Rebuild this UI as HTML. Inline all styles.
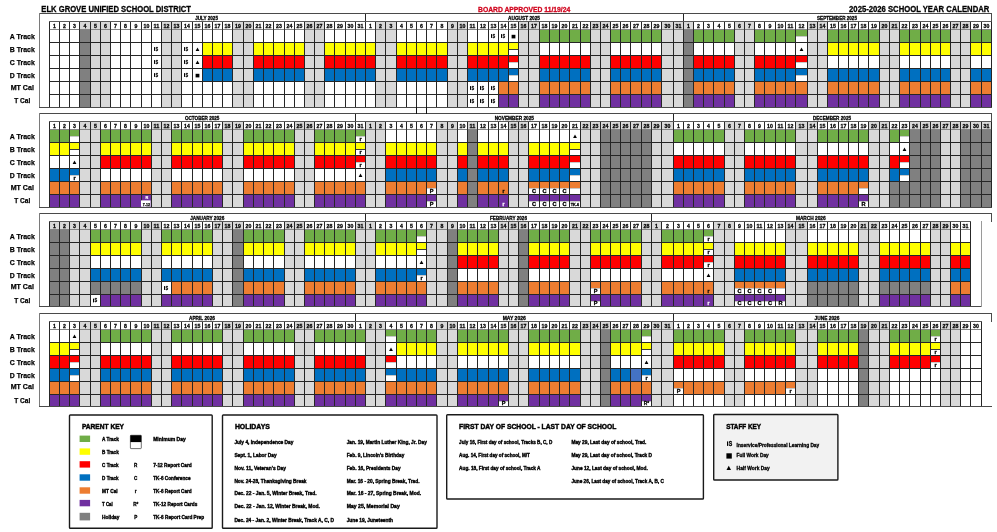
<!DOCTYPE html>
<html><head><meta charset="utf-8"><title>2025-2026 School Year Calendar</title>
<style>
html,body{margin:0;padding:0;background:#fff;}
body{width:997px;height:532px;overflow:hidden;}
svg{display:block;font-family:"Liberation Sans", sans-serif;font-weight:bold;will-change:transform;filter:blur(0.3px);}
</style></head>
<body>
<svg width="997" height="532" viewBox="0 0 997 532">
<rect x="0" y="0" width="997" height="532" fill="#fff"/>
<rect x="39.3" y="13" width="952" height="94" fill="#fff"/>
<rect x="80" y="22" width="10" height="7" fill="#d9d9d9"/>
<rect x="80" y="30" width="10" height="12" fill="#808080"/>
<rect x="80" y="43" width="10" height="12" fill="#808080"/>
<rect x="80" y="56" width="10" height="12" fill="#808080"/>
<rect x="80" y="69" width="10" height="12" fill="#808080"/>
<rect x="80" y="82" width="10" height="12" fill="#808080"/>
<rect x="80" y="95" width="10" height="12" fill="#808080"/>
<rect x="91" y="22" width="9" height="7" fill="#d9d9d9"/>
<rect x="91" y="30" width="9" height="12" fill="#d9d9d9"/>
<rect x="91" y="43" width="9" height="12" fill="#d9d9d9"/>
<rect x="91" y="56" width="9" height="12" fill="#d9d9d9"/>
<rect x="91" y="69" width="9" height="12" fill="#d9d9d9"/>
<rect x="91" y="82" width="9" height="12" fill="#d9d9d9"/>
<rect x="91" y="95" width="9" height="12" fill="#d9d9d9"/>
<rect x="101" y="22" width="9" height="7" fill="#d9d9d9"/>
<rect x="101" y="30" width="9" height="12" fill="#d9d9d9"/>
<rect x="101" y="43" width="9" height="12" fill="#d9d9d9"/>
<rect x="101" y="56" width="9" height="12" fill="#d9d9d9"/>
<rect x="101" y="69" width="9" height="12" fill="#d9d9d9"/>
<rect x="101" y="82" width="9" height="12" fill="#d9d9d9"/>
<rect x="101" y="95" width="9" height="12" fill="#d9d9d9"/>
<rect x="154" y="47.1" width="1" height="3.8" fill="#000"/>
<rect x="154" y="60.1" width="1" height="3.8" fill="#000"/>
<rect x="154" y="73.1" width="1" height="3.8" fill="#000"/>
<rect x="162" y="22" width="9" height="7" fill="#d9d9d9"/>
<rect x="162" y="30" width="9" height="12" fill="#d9d9d9"/>
<rect x="162" y="43" width="9" height="12" fill="#d9d9d9"/>
<rect x="162" y="56" width="9" height="12" fill="#d9d9d9"/>
<rect x="162" y="69" width="9" height="12" fill="#d9d9d9"/>
<rect x="162" y="82" width="9" height="12" fill="#d9d9d9"/>
<rect x="162" y="95" width="9" height="12" fill="#d9d9d9"/>
<rect x="172" y="22" width="9" height="7" fill="#d9d9d9"/>
<rect x="172" y="30" width="9" height="12" fill="#d9d9d9"/>
<rect x="172" y="43" width="9" height="12" fill="#d9d9d9"/>
<rect x="172" y="56" width="9" height="12" fill="#d9d9d9"/>
<rect x="172" y="69" width="9" height="12" fill="#d9d9d9"/>
<rect x="172" y="82" width="9" height="12" fill="#d9d9d9"/>
<rect x="172" y="95" width="9" height="12" fill="#d9d9d9"/>
<rect x="184" y="47.1" width="1" height="3.8" fill="#000"/>
<rect x="184" y="60.1" width="1" height="3.8" fill="#000"/>
<rect x="184" y="73.1" width="1" height="3.8" fill="#000"/>
<path d="M195.60 51.00 L197.50 47.50 L199.40 51.00 Z" fill="#000"/>
<path d="M195.60 64.00 L197.50 60.50 L199.40 64.00 Z" fill="#000"/>
<rect x="195.6" y="73.8" width="3.8" height="3.6" fill="#000"/>
<rect x="203" y="43" width="9" height="12" fill="#ffff00"/>
<rect x="203" y="56" width="9" height="12" fill="#ff0000"/>
<rect x="203" y="69" width="9" height="12" fill="#0070c0"/>
<rect x="213" y="43" width="9" height="12" fill="#ffff00"/>
<rect x="213" y="56" width="9" height="12" fill="#ff0000"/>
<rect x="213" y="69" width="9" height="12" fill="#0070c0"/>
<rect x="223" y="43" width="9" height="12" fill="#ffff00"/>
<rect x="223" y="56" width="9" height="12" fill="#ff0000"/>
<rect x="223" y="69" width="9" height="12" fill="#0070c0"/>
<rect x="233" y="22" width="10" height="7" fill="#d9d9d9"/>
<rect x="233" y="30" width="10" height="12" fill="#d9d9d9"/>
<rect x="233" y="43" width="10" height="12" fill="#d9d9d9"/>
<rect x="233" y="56" width="10" height="12" fill="#d9d9d9"/>
<rect x="233" y="69" width="10" height="12" fill="#d9d9d9"/>
<rect x="233" y="82" width="10" height="12" fill="#d9d9d9"/>
<rect x="233" y="95" width="10" height="12" fill="#d9d9d9"/>
<rect x="244" y="22" width="9" height="7" fill="#d9d9d9"/>
<rect x="244" y="30" width="9" height="12" fill="#d9d9d9"/>
<rect x="244" y="43" width="9" height="12" fill="#d9d9d9"/>
<rect x="244" y="56" width="9" height="12" fill="#d9d9d9"/>
<rect x="244" y="69" width="9" height="12" fill="#d9d9d9"/>
<rect x="244" y="82" width="9" height="12" fill="#d9d9d9"/>
<rect x="244" y="95" width="9" height="12" fill="#d9d9d9"/>
<rect x="254" y="43" width="9" height="12" fill="#ffff00"/>
<rect x="254" y="56" width="9" height="12" fill="#ff0000"/>
<rect x="254" y="69" width="9" height="12" fill="#0070c0"/>
<rect x="264" y="43" width="9" height="12" fill="#ffff00"/>
<rect x="264" y="56" width="9" height="12" fill="#ff0000"/>
<rect x="264" y="69" width="9" height="12" fill="#0070c0"/>
<rect x="274" y="43" width="10" height="12" fill="#ffff00"/>
<rect x="274" y="56" width="10" height="12" fill="#ff0000"/>
<rect x="274" y="69" width="10" height="12" fill="#0070c0"/>
<rect x="285" y="43" width="9" height="12" fill="#ffff00"/>
<rect x="285" y="56" width="9" height="12" fill="#ff0000"/>
<rect x="285" y="69" width="9" height="12" fill="#0070c0"/>
<rect x="295" y="43" width="9" height="12" fill="#ffff00"/>
<rect x="295" y="56" width="9" height="12" fill="#ff0000"/>
<rect x="295" y="69" width="9" height="12" fill="#0070c0"/>
<rect x="305" y="22" width="9" height="7" fill="#d9d9d9"/>
<rect x="305" y="30" width="9" height="12" fill="#d9d9d9"/>
<rect x="305" y="43" width="9" height="12" fill="#d9d9d9"/>
<rect x="305" y="56" width="9" height="12" fill="#d9d9d9"/>
<rect x="305" y="69" width="9" height="12" fill="#d9d9d9"/>
<rect x="305" y="82" width="9" height="12" fill="#d9d9d9"/>
<rect x="305" y="95" width="9" height="12" fill="#d9d9d9"/>
<rect x="315" y="22" width="9" height="7" fill="#d9d9d9"/>
<rect x="315" y="30" width="9" height="12" fill="#d9d9d9"/>
<rect x="315" y="43" width="9" height="12" fill="#d9d9d9"/>
<rect x="315" y="56" width="9" height="12" fill="#d9d9d9"/>
<rect x="315" y="69" width="9" height="12" fill="#d9d9d9"/>
<rect x="315" y="82" width="9" height="12" fill="#d9d9d9"/>
<rect x="315" y="95" width="9" height="12" fill="#d9d9d9"/>
<rect x="325" y="43" width="9" height="12" fill="#ffff00"/>
<rect x="325" y="56" width="9" height="12" fill="#ff0000"/>
<rect x="325" y="69" width="9" height="12" fill="#0070c0"/>
<rect x="335" y="43" width="10" height="12" fill="#ffff00"/>
<rect x="335" y="56" width="10" height="12" fill="#ff0000"/>
<rect x="335" y="69" width="10" height="12" fill="#0070c0"/>
<rect x="346" y="43" width="9" height="12" fill="#ffff00"/>
<rect x="346" y="56" width="9" height="12" fill="#ff0000"/>
<rect x="346" y="69" width="9" height="12" fill="#0070c0"/>
<rect x="356" y="43" width="9" height="12" fill="#ffff00"/>
<rect x="356" y="56" width="9" height="12" fill="#ff0000"/>
<rect x="356" y="69" width="9" height="12" fill="#0070c0"/>
<rect x="366" y="43" width="9" height="12" fill="#ffff00"/>
<rect x="366" y="56" width="9" height="12" fill="#ff0000"/>
<rect x="366" y="69" width="9" height="12" fill="#0070c0"/>
<rect x="376" y="22" width="9" height="7" fill="#d9d9d9"/>
<rect x="376" y="30" width="9" height="12" fill="#d9d9d9"/>
<rect x="376" y="43" width="9" height="12" fill="#d9d9d9"/>
<rect x="376" y="56" width="9" height="12" fill="#d9d9d9"/>
<rect x="376" y="69" width="9" height="12" fill="#d9d9d9"/>
<rect x="376" y="82" width="9" height="12" fill="#d9d9d9"/>
<rect x="376" y="95" width="9" height="12" fill="#d9d9d9"/>
<rect x="386" y="22" width="10" height="7" fill="#d9d9d9"/>
<rect x="386" y="30" width="10" height="12" fill="#d9d9d9"/>
<rect x="386" y="43" width="10" height="12" fill="#d9d9d9"/>
<rect x="386" y="56" width="10" height="12" fill="#d9d9d9"/>
<rect x="386" y="69" width="10" height="12" fill="#d9d9d9"/>
<rect x="386" y="82" width="10" height="12" fill="#d9d9d9"/>
<rect x="386" y="95" width="10" height="12" fill="#d9d9d9"/>
<rect x="397" y="43" width="9" height="12" fill="#ffff00"/>
<rect x="397" y="56" width="9" height="12" fill="#ff0000"/>
<rect x="397" y="69" width="9" height="12" fill="#0070c0"/>
<rect x="407" y="43" width="9" height="12" fill="#ffff00"/>
<rect x="407" y="56" width="9" height="12" fill="#ff0000"/>
<rect x="407" y="69" width="9" height="12" fill="#0070c0"/>
<rect x="417" y="43" width="9" height="12" fill="#ffff00"/>
<rect x="417" y="56" width="9" height="12" fill="#ff0000"/>
<rect x="417" y="69" width="9" height="12" fill="#0070c0"/>
<rect x="427" y="43" width="9" height="12" fill="#ffff00"/>
<rect x="427" y="56" width="9" height="12" fill="#ff0000"/>
<rect x="427" y="69" width="9" height="12" fill="#0070c0"/>
<rect x="437" y="43" width="10" height="12" fill="#ffff00"/>
<rect x="437" y="56" width="10" height="12" fill="#ff0000"/>
<rect x="437" y="69" width="10" height="12" fill="#0070c0"/>
<rect x="448" y="22" width="9" height="7" fill="#d9d9d9"/>
<rect x="448" y="30" width="9" height="12" fill="#d9d9d9"/>
<rect x="448" y="43" width="9" height="12" fill="#d9d9d9"/>
<rect x="448" y="56" width="9" height="12" fill="#d9d9d9"/>
<rect x="448" y="69" width="9" height="12" fill="#d9d9d9"/>
<rect x="448" y="82" width="9" height="12" fill="#d9d9d9"/>
<rect x="448" y="95" width="9" height="12" fill="#d9d9d9"/>
<rect x="458" y="22" width="9" height="7" fill="#d9d9d9"/>
<rect x="458" y="30" width="9" height="12" fill="#d9d9d9"/>
<rect x="458" y="43" width="9" height="12" fill="#d9d9d9"/>
<rect x="458" y="56" width="9" height="12" fill="#d9d9d9"/>
<rect x="458" y="69" width="9" height="12" fill="#d9d9d9"/>
<rect x="458" y="82" width="9" height="12" fill="#d9d9d9"/>
<rect x="458" y="95" width="9" height="12" fill="#d9d9d9"/>
<rect x="468" y="43" width="9" height="12" fill="#ffff00"/>
<rect x="468" y="56" width="9" height="12" fill="#ff0000"/>
<rect x="468" y="69" width="9" height="12" fill="#0070c0"/>
<rect x="470" y="86.1" width="1" height="3.8" fill="#000"/>
<rect x="470" y="99.1" width="1" height="3.8" fill="#000"/>
<rect x="478" y="43" width="10" height="12" fill="#ffff00"/>
<rect x="478" y="56" width="10" height="12" fill="#ff0000"/>
<rect x="478" y="69" width="10" height="12" fill="#0070c0"/>
<rect x="480" y="86.1" width="1" height="3.8" fill="#000"/>
<rect x="480" y="99.1" width="1" height="3.8" fill="#000"/>
<rect x="491" y="34.1" width="1" height="3.8" fill="#000"/>
<rect x="489" y="43" width="9" height="12" fill="#ffff00"/>
<rect x="489" y="56" width="9" height="12" fill="#ff0000"/>
<rect x="489" y="69" width="9" height="12" fill="#0070c0"/>
<rect x="491" y="86.1" width="1" height="3.8" fill="#000"/>
<rect x="491" y="99.1" width="1" height="3.8" fill="#000"/>
<rect x="501" y="34.1" width="1" height="3.8" fill="#000"/>
<rect x="499" y="43" width="9" height="12" fill="#ffff00"/>
<rect x="499" y="56" width="9" height="12" fill="#ff0000"/>
<rect x="499" y="69" width="9" height="12" fill="#0070c0"/>
<rect x="499" y="82" width="9" height="12" fill="#ed7d31"/>
<rect x="499" y="95" width="9" height="12" fill="#7030a0"/>
<rect x="511.6" y="34.8" width="3.8" height="3.6" fill="#000"/>
<rect x="509" y="43" width="9" height="6" fill="#ffff00"/>
<rect x="509" y="49" width="9" height="1" fill="#3a3a3a"/>
<rect x="509" y="56" width="9" height="6" fill="#ff0000"/>
<rect x="509" y="62" width="9" height="1" fill="#c8c8c8"/>
<rect x="509" y="69" width="9" height="6" fill="#0070c0"/>
<rect x="509" y="75" width="9" height="1" fill="#c8c8c8"/>
<rect x="509" y="82" width="9" height="12" fill="#ed7d31"/>
<rect x="509" y="95" width="9" height="12" fill="#7030a0"/>
<rect x="519" y="22" width="9" height="7" fill="#d9d9d9"/>
<rect x="519" y="30" width="9" height="12" fill="#d9d9d9"/>
<rect x="519" y="43" width="9" height="12" fill="#d9d9d9"/>
<rect x="519" y="56" width="9" height="12" fill="#d9d9d9"/>
<rect x="519" y="69" width="9" height="12" fill="#d9d9d9"/>
<rect x="519" y="82" width="9" height="12" fill="#d9d9d9"/>
<rect x="519" y="95" width="9" height="12" fill="#d9d9d9"/>
<rect x="529" y="22" width="10" height="7" fill="#d9d9d9"/>
<rect x="529" y="30" width="10" height="12" fill="#d9d9d9"/>
<rect x="529" y="43" width="10" height="12" fill="#d9d9d9"/>
<rect x="529" y="56" width="10" height="12" fill="#d9d9d9"/>
<rect x="529" y="69" width="10" height="12" fill="#d9d9d9"/>
<rect x="529" y="82" width="10" height="12" fill="#d9d9d9"/>
<rect x="529" y="95" width="10" height="12" fill="#d9d9d9"/>
<rect x="540" y="30" width="9" height="12" fill="#70ad47"/>
<rect x="540" y="56" width="9" height="12" fill="#ff0000"/>
<rect x="540" y="69" width="9" height="12" fill="#0070c0"/>
<rect x="540" y="82" width="9" height="12" fill="#ed7d31"/>
<rect x="540" y="95" width="9" height="12" fill="#7030a0"/>
<rect x="550" y="30" width="9" height="12" fill="#70ad47"/>
<rect x="550" y="56" width="9" height="12" fill="#ff0000"/>
<rect x="550" y="69" width="9" height="12" fill="#0070c0"/>
<rect x="550" y="82" width="9" height="12" fill="#ed7d31"/>
<rect x="550" y="95" width="9" height="12" fill="#7030a0"/>
<rect x="560" y="30" width="9" height="12" fill="#70ad47"/>
<rect x="560" y="56" width="9" height="12" fill="#ff0000"/>
<rect x="560" y="69" width="9" height="12" fill="#0070c0"/>
<rect x="560" y="82" width="9" height="12" fill="#ed7d31"/>
<rect x="560" y="95" width="9" height="12" fill="#7030a0"/>
<rect x="570" y="30" width="10" height="12" fill="#70ad47"/>
<rect x="570" y="56" width="10" height="12" fill="#ff0000"/>
<rect x="570" y="69" width="10" height="12" fill="#0070c0"/>
<rect x="570" y="82" width="10" height="12" fill="#ed7d31"/>
<rect x="570" y="95" width="10" height="12" fill="#7030a0"/>
<rect x="581" y="30" width="9" height="12" fill="#70ad47"/>
<rect x="581" y="56" width="9" height="12" fill="#ff0000"/>
<rect x="581" y="69" width="9" height="12" fill="#0070c0"/>
<rect x="581" y="82" width="9" height="12" fill="#ed7d31"/>
<rect x="581" y="95" width="9" height="12" fill="#7030a0"/>
<rect x="591" y="22" width="9" height="7" fill="#d9d9d9"/>
<rect x="591" y="30" width="9" height="12" fill="#d9d9d9"/>
<rect x="591" y="43" width="9" height="12" fill="#d9d9d9"/>
<rect x="591" y="56" width="9" height="12" fill="#d9d9d9"/>
<rect x="591" y="69" width="9" height="12" fill="#d9d9d9"/>
<rect x="591" y="82" width="9" height="12" fill="#d9d9d9"/>
<rect x="591" y="95" width="9" height="12" fill="#d9d9d9"/>
<rect x="601" y="22" width="9" height="7" fill="#d9d9d9"/>
<rect x="601" y="30" width="9" height="12" fill="#d9d9d9"/>
<rect x="601" y="43" width="9" height="12" fill="#d9d9d9"/>
<rect x="601" y="56" width="9" height="12" fill="#d9d9d9"/>
<rect x="601" y="69" width="9" height="12" fill="#d9d9d9"/>
<rect x="601" y="82" width="9" height="12" fill="#d9d9d9"/>
<rect x="601" y="95" width="9" height="12" fill="#d9d9d9"/>
<rect x="611" y="30" width="9" height="12" fill="#70ad47"/>
<rect x="611" y="56" width="9" height="12" fill="#ff0000"/>
<rect x="611" y="69" width="9" height="12" fill="#0070c0"/>
<rect x="611" y="82" width="9" height="12" fill="#ed7d31"/>
<rect x="611" y="95" width="9" height="12" fill="#7030a0"/>
<rect x="621" y="30" width="9" height="12" fill="#70ad47"/>
<rect x="621" y="56" width="9" height="12" fill="#ff0000"/>
<rect x="621" y="69" width="9" height="12" fill="#0070c0"/>
<rect x="621" y="82" width="9" height="12" fill="#ed7d31"/>
<rect x="621" y="95" width="9" height="12" fill="#7030a0"/>
<rect x="631" y="30" width="10" height="12" fill="#70ad47"/>
<rect x="631" y="56" width="10" height="12" fill="#ff0000"/>
<rect x="631" y="69" width="10" height="12" fill="#0070c0"/>
<rect x="631" y="82" width="10" height="12" fill="#ed7d31"/>
<rect x="631" y="95" width="10" height="12" fill="#7030a0"/>
<rect x="642" y="30" width="9" height="12" fill="#70ad47"/>
<rect x="642" y="56" width="9" height="12" fill="#ff0000"/>
<rect x="642" y="69" width="9" height="12" fill="#0070c0"/>
<rect x="642" y="82" width="9" height="12" fill="#ed7d31"/>
<rect x="642" y="95" width="9" height="12" fill="#7030a0"/>
<rect x="652" y="30" width="9" height="12" fill="#70ad47"/>
<rect x="652" y="56" width="9" height="12" fill="#ff0000"/>
<rect x="652" y="69" width="9" height="12" fill="#0070c0"/>
<rect x="652" y="82" width="9" height="12" fill="#ed7d31"/>
<rect x="652" y="95" width="9" height="12" fill="#7030a0"/>
<rect x="662" y="22" width="11" height="7" fill="#d9d9d9"/>
<rect x="662" y="30" width="11" height="12" fill="#d9d9d9"/>
<rect x="662" y="43" width="11" height="12" fill="#d9d9d9"/>
<rect x="662" y="56" width="11" height="12" fill="#d9d9d9"/>
<rect x="662" y="69" width="11" height="12" fill="#d9d9d9"/>
<rect x="662" y="82" width="11" height="12" fill="#d9d9d9"/>
<rect x="662" y="95" width="11" height="12" fill="#d9d9d9"/>
<rect x="674" y="22" width="9" height="7" fill="#d9d9d9"/>
<rect x="674" y="30" width="9" height="12" fill="#d9d9d9"/>
<rect x="674" y="43" width="9" height="12" fill="#d9d9d9"/>
<rect x="674" y="56" width="9" height="12" fill="#d9d9d9"/>
<rect x="674" y="69" width="9" height="12" fill="#d9d9d9"/>
<rect x="674" y="82" width="9" height="12" fill="#d9d9d9"/>
<rect x="674" y="95" width="9" height="12" fill="#d9d9d9"/>
<rect x="684" y="22" width="9" height="7" fill="#d9d9d9"/>
<rect x="684" y="30" width="9" height="12" fill="#808080"/>
<rect x="684" y="43" width="9" height="12" fill="#808080"/>
<rect x="684" y="56" width="9" height="12" fill="#808080"/>
<rect x="684" y="69" width="9" height="12" fill="#808080"/>
<rect x="684" y="82" width="9" height="12" fill="#808080"/>
<rect x="684" y="95" width="9" height="12" fill="#808080"/>
<rect x="694" y="30" width="9" height="12" fill="#70ad47"/>
<rect x="694" y="56" width="9" height="12" fill="#ff0000"/>
<rect x="694" y="69" width="9" height="12" fill="#0070c0"/>
<rect x="694" y="82" width="9" height="12" fill="#ed7d31"/>
<rect x="694" y="95" width="9" height="12" fill="#7030a0"/>
<rect x="704" y="30" width="9" height="12" fill="#70ad47"/>
<rect x="704" y="56" width="9" height="12" fill="#ff0000"/>
<rect x="704" y="69" width="9" height="12" fill="#0070c0"/>
<rect x="704" y="82" width="9" height="12" fill="#ed7d31"/>
<rect x="704" y="95" width="9" height="12" fill="#7030a0"/>
<rect x="714" y="30" width="10" height="12" fill="#70ad47"/>
<rect x="714" y="56" width="10" height="12" fill="#ff0000"/>
<rect x="714" y="69" width="10" height="12" fill="#0070c0"/>
<rect x="714" y="82" width="10" height="12" fill="#ed7d31"/>
<rect x="714" y="95" width="10" height="12" fill="#7030a0"/>
<rect x="725" y="30" width="9" height="12" fill="#70ad47"/>
<rect x="725" y="56" width="9" height="12" fill="#ff0000"/>
<rect x="725" y="69" width="9" height="12" fill="#0070c0"/>
<rect x="725" y="82" width="9" height="12" fill="#ed7d31"/>
<rect x="725" y="95" width="9" height="12" fill="#7030a0"/>
<rect x="735" y="22" width="9" height="7" fill="#d9d9d9"/>
<rect x="735" y="30" width="9" height="12" fill="#d9d9d9"/>
<rect x="735" y="43" width="9" height="12" fill="#d9d9d9"/>
<rect x="735" y="56" width="9" height="12" fill="#d9d9d9"/>
<rect x="735" y="69" width="9" height="12" fill="#d9d9d9"/>
<rect x="735" y="82" width="9" height="12" fill="#d9d9d9"/>
<rect x="735" y="95" width="9" height="12" fill="#d9d9d9"/>
<rect x="745" y="22" width="9" height="7" fill="#d9d9d9"/>
<rect x="745" y="30" width="9" height="12" fill="#d9d9d9"/>
<rect x="745" y="43" width="9" height="12" fill="#d9d9d9"/>
<rect x="745" y="56" width="9" height="12" fill="#d9d9d9"/>
<rect x="745" y="69" width="9" height="12" fill="#d9d9d9"/>
<rect x="745" y="82" width="9" height="12" fill="#d9d9d9"/>
<rect x="745" y="95" width="9" height="12" fill="#d9d9d9"/>
<rect x="755" y="30" width="9" height="12" fill="#70ad47"/>
<rect x="755" y="56" width="9" height="12" fill="#ff0000"/>
<rect x="755" y="69" width="9" height="12" fill="#0070c0"/>
<rect x="755" y="82" width="9" height="12" fill="#ed7d31"/>
<rect x="755" y="95" width="9" height="12" fill="#7030a0"/>
<rect x="765" y="30" width="10" height="12" fill="#70ad47"/>
<rect x="765" y="56" width="10" height="12" fill="#ff0000"/>
<rect x="765" y="69" width="10" height="12" fill="#0070c0"/>
<rect x="765" y="82" width="10" height="12" fill="#ed7d31"/>
<rect x="765" y="95" width="10" height="12" fill="#7030a0"/>
<rect x="776" y="30" width="9" height="12" fill="#70ad47"/>
<rect x="776" y="56" width="9" height="12" fill="#ff0000"/>
<rect x="776" y="69" width="9" height="12" fill="#0070c0"/>
<rect x="776" y="82" width="9" height="12" fill="#ed7d31"/>
<rect x="776" y="95" width="9" height="12" fill="#7030a0"/>
<rect x="786" y="30" width="9" height="12" fill="#70ad47"/>
<rect x="786" y="56" width="9" height="12" fill="#ff0000"/>
<rect x="786" y="69" width="9" height="12" fill="#0070c0"/>
<rect x="786" y="82" width="9" height="12" fill="#ed7d31"/>
<rect x="786" y="95" width="9" height="12" fill="#7030a0"/>
<rect x="796" y="30" width="11" height="6" fill="#70ad47"/>
<rect x="796" y="36" width="11" height="1" fill="#c8c8c8"/>
<path d="M799.60 51.00 L801.50 47.50 L803.40 51.00 Z" fill="#000"/>
<rect x="796" y="56" width="11" height="6" fill="#ff0000"/>
<rect x="796" y="62" width="11" height="1" fill="#c8c8c8"/>
<rect x="796" y="69" width="11" height="6" fill="#0070c0"/>
<rect x="796" y="75" width="11" height="1" fill="#c8c8c8"/>
<rect x="796" y="82" width="11" height="12" fill="#ed7d31"/>
<rect x="796" y="95" width="11" height="12" fill="#7030a0"/>
<rect x="808" y="22" width="9" height="7" fill="#d9d9d9"/>
<rect x="808" y="30" width="9" height="12" fill="#d9d9d9"/>
<rect x="808" y="43" width="9" height="12" fill="#d9d9d9"/>
<rect x="808" y="56" width="9" height="12" fill="#d9d9d9"/>
<rect x="808" y="69" width="9" height="12" fill="#d9d9d9"/>
<rect x="808" y="82" width="9" height="12" fill="#d9d9d9"/>
<rect x="808" y="95" width="9" height="12" fill="#d9d9d9"/>
<rect x="818" y="22" width="9" height="7" fill="#d9d9d9"/>
<rect x="818" y="30" width="9" height="12" fill="#d9d9d9"/>
<rect x="818" y="43" width="9" height="12" fill="#d9d9d9"/>
<rect x="818" y="56" width="9" height="12" fill="#d9d9d9"/>
<rect x="818" y="69" width="9" height="12" fill="#d9d9d9"/>
<rect x="818" y="82" width="9" height="12" fill="#d9d9d9"/>
<rect x="818" y="95" width="9" height="12" fill="#d9d9d9"/>
<rect x="828" y="30" width="10" height="12" fill="#70ad47"/>
<rect x="828" y="43" width="10" height="12" fill="#ffff00"/>
<rect x="828" y="69" width="10" height="12" fill="#0070c0"/>
<rect x="828" y="82" width="10" height="12" fill="#ed7d31"/>
<rect x="828" y="95" width="10" height="12" fill="#7030a0"/>
<rect x="839" y="30" width="9" height="12" fill="#70ad47"/>
<rect x="839" y="43" width="9" height="12" fill="#ffff00"/>
<rect x="839" y="69" width="9" height="12" fill="#0070c0"/>
<rect x="839" y="82" width="9" height="12" fill="#ed7d31"/>
<rect x="839" y="95" width="9" height="12" fill="#7030a0"/>
<rect x="849" y="30" width="9" height="12" fill="#70ad47"/>
<rect x="849" y="43" width="9" height="12" fill="#ffff00"/>
<rect x="849" y="69" width="9" height="12" fill="#0070c0"/>
<rect x="849" y="82" width="9" height="12" fill="#ed7d31"/>
<rect x="849" y="95" width="9" height="12" fill="#7030a0"/>
<rect x="859" y="30" width="9" height="12" fill="#70ad47"/>
<rect x="859" y="43" width="9" height="12" fill="#ffff00"/>
<rect x="859" y="69" width="9" height="12" fill="#0070c0"/>
<rect x="859" y="82" width="9" height="12" fill="#ed7d31"/>
<rect x="859" y="95" width="9" height="12" fill="#7030a0"/>
<rect x="869" y="30" width="10" height="12" fill="#70ad47"/>
<rect x="869" y="43" width="10" height="12" fill="#ffff00"/>
<rect x="869" y="69" width="10" height="12" fill="#0070c0"/>
<rect x="869" y="82" width="10" height="12" fill="#ed7d31"/>
<rect x="869" y="95" width="10" height="12" fill="#7030a0"/>
<rect x="880" y="22" width="9" height="7" fill="#d9d9d9"/>
<rect x="880" y="30" width="9" height="12" fill="#d9d9d9"/>
<rect x="880" y="43" width="9" height="12" fill="#d9d9d9"/>
<rect x="880" y="56" width="9" height="12" fill="#d9d9d9"/>
<rect x="880" y="69" width="9" height="12" fill="#d9d9d9"/>
<rect x="880" y="82" width="9" height="12" fill="#d9d9d9"/>
<rect x="880" y="95" width="9" height="12" fill="#d9d9d9"/>
<rect x="890" y="22" width="9" height="7" fill="#d9d9d9"/>
<rect x="890" y="30" width="9" height="12" fill="#d9d9d9"/>
<rect x="890" y="43" width="9" height="12" fill="#d9d9d9"/>
<rect x="890" y="56" width="9" height="12" fill="#d9d9d9"/>
<rect x="890" y="69" width="9" height="12" fill="#d9d9d9"/>
<rect x="890" y="82" width="9" height="12" fill="#d9d9d9"/>
<rect x="890" y="95" width="9" height="12" fill="#d9d9d9"/>
<rect x="900" y="30" width="9" height="12" fill="#70ad47"/>
<rect x="900" y="43" width="9" height="12" fill="#ffff00"/>
<rect x="900" y="69" width="9" height="12" fill="#0070c0"/>
<rect x="900" y="82" width="9" height="12" fill="#ed7d31"/>
<rect x="900" y="95" width="9" height="12" fill="#7030a0"/>
<rect x="910" y="30" width="10" height="12" fill="#70ad47"/>
<rect x="910" y="43" width="10" height="12" fill="#ffff00"/>
<rect x="910" y="69" width="10" height="12" fill="#0070c0"/>
<rect x="910" y="82" width="10" height="12" fill="#ed7d31"/>
<rect x="910" y="95" width="10" height="12" fill="#7030a0"/>
<rect x="921" y="30" width="9" height="12" fill="#70ad47"/>
<rect x="921" y="43" width="9" height="12" fill="#ffff00"/>
<rect x="921" y="69" width="9" height="12" fill="#0070c0"/>
<rect x="921" y="82" width="9" height="12" fill="#ed7d31"/>
<rect x="921" y="95" width="9" height="12" fill="#7030a0"/>
<rect x="931" y="30" width="9" height="12" fill="#70ad47"/>
<rect x="931" y="43" width="9" height="12" fill="#ffff00"/>
<rect x="931" y="69" width="9" height="12" fill="#0070c0"/>
<rect x="931" y="82" width="9" height="12" fill="#ed7d31"/>
<rect x="931" y="95" width="9" height="12" fill="#7030a0"/>
<rect x="941" y="30" width="9" height="12" fill="#70ad47"/>
<rect x="941" y="43" width="9" height="12" fill="#ffff00"/>
<rect x="941" y="69" width="9" height="12" fill="#0070c0"/>
<rect x="941" y="82" width="9" height="12" fill="#ed7d31"/>
<rect x="941" y="95" width="9" height="12" fill="#7030a0"/>
<rect x="951" y="22" width="9" height="7" fill="#d9d9d9"/>
<rect x="951" y="30" width="9" height="12" fill="#d9d9d9"/>
<rect x="951" y="43" width="9" height="12" fill="#d9d9d9"/>
<rect x="951" y="56" width="9" height="12" fill="#d9d9d9"/>
<rect x="951" y="69" width="9" height="12" fill="#d9d9d9"/>
<rect x="951" y="82" width="9" height="12" fill="#d9d9d9"/>
<rect x="951" y="95" width="9" height="12" fill="#d9d9d9"/>
<rect x="961" y="22" width="9" height="7" fill="#d9d9d9"/>
<rect x="961" y="30" width="9" height="12" fill="#d9d9d9"/>
<rect x="961" y="43" width="9" height="12" fill="#d9d9d9"/>
<rect x="961" y="56" width="9" height="12" fill="#d9d9d9"/>
<rect x="961" y="69" width="9" height="12" fill="#d9d9d9"/>
<rect x="961" y="82" width="9" height="12" fill="#d9d9d9"/>
<rect x="961" y="95" width="9" height="12" fill="#d9d9d9"/>
<rect x="971" y="30" width="10" height="12" fill="#70ad47"/>
<rect x="971" y="43" width="10" height="12" fill="#ffff00"/>
<rect x="971" y="69" width="10" height="12" fill="#0070c0"/>
<rect x="971" y="82" width="10" height="12" fill="#ed7d31"/>
<rect x="971" y="95" width="10" height="12" fill="#7030a0"/>
<rect x="982" y="30" width="9" height="12" fill="#70ad47"/>
<rect x="982" y="43" width="9" height="12" fill="#ffff00"/>
<rect x="982" y="69" width="9" height="12" fill="#0070c0"/>
<rect x="982" y="82" width="9" height="12" fill="#ed7d31"/>
<rect x="982" y="95" width="9" height="12" fill="#7030a0"/>
<rect x="49" y="21" width="1" height="87" fill="#262626"/>
<rect x="59" y="21" width="1" height="87" fill="#262626"/>
<rect x="69" y="21" width="1" height="87" fill="#262626"/>
<rect x="79" y="21" width="1" height="87" fill="#262626"/>
<rect x="90" y="21" width="1" height="87" fill="#262626"/>
<rect x="100" y="21" width="1" height="87" fill="#262626"/>
<rect x="110" y="21" width="1" height="87" fill="#262626"/>
<rect x="120" y="21" width="1" height="87" fill="#262626"/>
<rect x="130" y="21" width="1" height="87" fill="#262626"/>
<rect x="141" y="21" width="1" height="87" fill="#262626"/>
<rect x="151" y="21" width="1" height="87" fill="#262626"/>
<rect x="161" y="21" width="1" height="87" fill="#262626"/>
<rect x="171" y="21" width="1" height="87" fill="#262626"/>
<rect x="181" y="21" width="1" height="87" fill="#262626"/>
<rect x="192" y="21" width="1" height="87" fill="#262626"/>
<rect x="202" y="21" width="1" height="87" fill="#262626"/>
<rect x="212" y="21" width="1" height="87" fill="#262626"/>
<rect x="222" y="21" width="1" height="87" fill="#262626"/>
<rect x="232" y="21" width="1" height="87" fill="#262626"/>
<rect x="243" y="21" width="1" height="87" fill="#262626"/>
<rect x="253" y="21" width="1" height="87" fill="#262626"/>
<rect x="263" y="21" width="1" height="87" fill="#262626"/>
<rect x="273" y="21" width="1" height="87" fill="#262626"/>
<rect x="284" y="21" width="1" height="87" fill="#262626"/>
<rect x="294" y="21" width="1" height="87" fill="#262626"/>
<rect x="304" y="21" width="1" height="87" fill="#262626"/>
<rect x="314" y="21" width="1" height="87" fill="#262626"/>
<rect x="324" y="21" width="1" height="87" fill="#262626"/>
<rect x="334" y="21" width="1" height="87" fill="#262626"/>
<rect x="345" y="21" width="1" height="87" fill="#262626"/>
<rect x="355" y="21" width="1" height="87" fill="#262626"/>
<rect x="365" y="21" width="1" height="87" fill="#262626"/>
<rect x="375" y="21" width="1" height="87" fill="#262626"/>
<rect x="385" y="21" width="1" height="87" fill="#262626"/>
<rect x="396" y="21" width="1" height="87" fill="#262626"/>
<rect x="406" y="21" width="1" height="87" fill="#262626"/>
<rect x="416" y="21" width="1" height="87" fill="#262626"/>
<rect x="426" y="21" width="1" height="87" fill="#262626"/>
<rect x="436" y="21" width="1" height="87" fill="#262626"/>
<rect x="447" y="21" width="1" height="87" fill="#262626"/>
<rect x="457" y="21" width="1" height="87" fill="#262626"/>
<rect x="467" y="21" width="1" height="87" fill="#262626"/>
<rect x="477" y="21" width="1" height="87" fill="#262626"/>
<rect x="488" y="21" width="1" height="87" fill="#262626"/>
<rect x="498" y="21" width="1" height="87" fill="#262626"/>
<rect x="508" y="21" width="1" height="87" fill="#262626"/>
<rect x="518" y="21" width="1" height="87" fill="#262626"/>
<rect x="528" y="21" width="1" height="87" fill="#262626"/>
<rect x="539" y="21" width="1" height="87" fill="#262626"/>
<rect x="549" y="21" width="1" height="87" fill="#262626"/>
<rect x="559" y="21" width="1" height="87" fill="#262626"/>
<rect x="569" y="21" width="1" height="87" fill="#262626"/>
<rect x="580" y="21" width="1" height="87" fill="#262626"/>
<rect x="590" y="21" width="1" height="87" fill="#262626"/>
<rect x="600" y="21" width="1" height="87" fill="#262626"/>
<rect x="610" y="21" width="1" height="87" fill="#262626"/>
<rect x="620" y="21" width="1" height="87" fill="#262626"/>
<rect x="630" y="21" width="1" height="87" fill="#262626"/>
<rect x="641" y="21" width="1" height="87" fill="#262626"/>
<rect x="651" y="21" width="1" height="87" fill="#262626"/>
<rect x="661" y="21" width="1" height="87" fill="#262626"/>
<rect x="673" y="21" width="1" height="87" fill="#262626"/>
<rect x="683" y="21" width="1" height="87" fill="#262626"/>
<rect x="693" y="21" width="1" height="87" fill="#262626"/>
<rect x="703" y="21" width="1" height="87" fill="#262626"/>
<rect x="713" y="21" width="1" height="87" fill="#262626"/>
<rect x="724" y="21" width="1" height="87" fill="#262626"/>
<rect x="734" y="21" width="1" height="87" fill="#262626"/>
<rect x="744" y="21" width="1" height="87" fill="#262626"/>
<rect x="754" y="21" width="1" height="87" fill="#262626"/>
<rect x="764" y="21" width="1" height="87" fill="#262626"/>
<rect x="775" y="21" width="1" height="87" fill="#262626"/>
<rect x="785" y="21" width="1" height="87" fill="#262626"/>
<rect x="795" y="21" width="1" height="87" fill="#262626"/>
<rect x="807" y="21" width="1" height="87" fill="#262626"/>
<rect x="817" y="21" width="1" height="87" fill="#262626"/>
<rect x="827" y="21" width="1" height="87" fill="#262626"/>
<rect x="838" y="21" width="1" height="87" fill="#262626"/>
<rect x="848" y="21" width="1" height="87" fill="#262626"/>
<rect x="858" y="21" width="1" height="87" fill="#262626"/>
<rect x="868" y="21" width="1" height="87" fill="#262626"/>
<rect x="879" y="21" width="1" height="87" fill="#262626"/>
<rect x="889" y="21" width="1" height="87" fill="#262626"/>
<rect x="899" y="21" width="1" height="87" fill="#262626"/>
<rect x="909" y="21" width="1" height="87" fill="#262626"/>
<rect x="920" y="21" width="1" height="87" fill="#262626"/>
<rect x="930" y="21" width="1" height="87" fill="#262626"/>
<rect x="940" y="21" width="1" height="87" fill="#262626"/>
<rect x="950" y="21" width="1" height="87" fill="#262626"/>
<rect x="960" y="21" width="1" height="87" fill="#262626"/>
<rect x="970" y="21" width="1" height="87" fill="#262626"/>
<rect x="981" y="21" width="1" height="87" fill="#262626"/>
<rect x="991" y="21" width="1" height="87" fill="#262626"/>
<rect x="49" y="42" width="943" height="1" fill="#262626"/>
<rect x="49" y="55" width="943" height="1" fill="#262626"/>
<rect x="49" y="68" width="943" height="1" fill="#262626"/>
<rect x="49" y="81" width="943" height="1" fill="#262626"/>
<rect x="49" y="94" width="943" height="1" fill="#262626"/>
<rect x="49" y="107" width="943" height="1" fill="#262626"/>
<rect x="49" y="21" width="943" height="1" fill="#5a5a5a"/>
<rect x="49" y="29" width="943" height="1" fill="#858585"/>
<rect x="49" y="29" width="1" height="1" fill="#333"/>
<rect x="59" y="29" width="1" height="1" fill="#333"/>
<rect x="69" y="29" width="1" height="1" fill="#333"/>
<rect x="79" y="29" width="1" height="1" fill="#333"/>
<rect x="90" y="29" width="1" height="1" fill="#333"/>
<rect x="100" y="29" width="1" height="1" fill="#333"/>
<rect x="110" y="29" width="1" height="1" fill="#333"/>
<rect x="120" y="29" width="1" height="1" fill="#333"/>
<rect x="130" y="29" width="1" height="1" fill="#333"/>
<rect x="141" y="29" width="1" height="1" fill="#333"/>
<rect x="151" y="29" width="1" height="1" fill="#333"/>
<rect x="161" y="29" width="1" height="1" fill="#333"/>
<rect x="171" y="29" width="1" height="1" fill="#333"/>
<rect x="181" y="29" width="1" height="1" fill="#333"/>
<rect x="192" y="29" width="1" height="1" fill="#333"/>
<rect x="202" y="29" width="1" height="1" fill="#333"/>
<rect x="212" y="29" width="1" height="1" fill="#333"/>
<rect x="222" y="29" width="1" height="1" fill="#333"/>
<rect x="232" y="29" width="1" height="1" fill="#333"/>
<rect x="243" y="29" width="1" height="1" fill="#333"/>
<rect x="253" y="29" width="1" height="1" fill="#333"/>
<rect x="263" y="29" width="1" height="1" fill="#333"/>
<rect x="273" y="29" width="1" height="1" fill="#333"/>
<rect x="284" y="29" width="1" height="1" fill="#333"/>
<rect x="294" y="29" width="1" height="1" fill="#333"/>
<rect x="304" y="29" width="1" height="1" fill="#333"/>
<rect x="314" y="29" width="1" height="1" fill="#333"/>
<rect x="324" y="29" width="1" height="1" fill="#333"/>
<rect x="334" y="29" width="1" height="1" fill="#333"/>
<rect x="345" y="29" width="1" height="1" fill="#333"/>
<rect x="355" y="29" width="1" height="1" fill="#333"/>
<rect x="365" y="29" width="1" height="1" fill="#333"/>
<rect x="375" y="29" width="1" height="1" fill="#333"/>
<rect x="385" y="29" width="1" height="1" fill="#333"/>
<rect x="396" y="29" width="1" height="1" fill="#333"/>
<rect x="406" y="29" width="1" height="1" fill="#333"/>
<rect x="416" y="29" width="1" height="1" fill="#333"/>
<rect x="426" y="29" width="1" height="1" fill="#333"/>
<rect x="436" y="29" width="1" height="1" fill="#333"/>
<rect x="447" y="29" width="1" height="1" fill="#333"/>
<rect x="457" y="29" width="1" height="1" fill="#333"/>
<rect x="467" y="29" width="1" height="1" fill="#333"/>
<rect x="477" y="29" width="1" height="1" fill="#333"/>
<rect x="488" y="29" width="1" height="1" fill="#333"/>
<rect x="498" y="29" width="1" height="1" fill="#333"/>
<rect x="508" y="29" width="1" height="1" fill="#333"/>
<rect x="518" y="29" width="1" height="1" fill="#333"/>
<rect x="528" y="29" width="1" height="1" fill="#333"/>
<rect x="539" y="29" width="1" height="1" fill="#333"/>
<rect x="549" y="29" width="1" height="1" fill="#333"/>
<rect x="559" y="29" width="1" height="1" fill="#333"/>
<rect x="569" y="29" width="1" height="1" fill="#333"/>
<rect x="580" y="29" width="1" height="1" fill="#333"/>
<rect x="590" y="29" width="1" height="1" fill="#333"/>
<rect x="600" y="29" width="1" height="1" fill="#333"/>
<rect x="610" y="29" width="1" height="1" fill="#333"/>
<rect x="620" y="29" width="1" height="1" fill="#333"/>
<rect x="630" y="29" width="1" height="1" fill="#333"/>
<rect x="641" y="29" width="1" height="1" fill="#333"/>
<rect x="651" y="29" width="1" height="1" fill="#333"/>
<rect x="661" y="29" width="1" height="1" fill="#333"/>
<rect x="673" y="29" width="1" height="1" fill="#333"/>
<rect x="683" y="29" width="1" height="1" fill="#333"/>
<rect x="693" y="29" width="1" height="1" fill="#333"/>
<rect x="703" y="29" width="1" height="1" fill="#333"/>
<rect x="713" y="29" width="1" height="1" fill="#333"/>
<rect x="724" y="29" width="1" height="1" fill="#333"/>
<rect x="734" y="29" width="1" height="1" fill="#333"/>
<rect x="744" y="29" width="1" height="1" fill="#333"/>
<rect x="754" y="29" width="1" height="1" fill="#333"/>
<rect x="764" y="29" width="1" height="1" fill="#333"/>
<rect x="775" y="29" width="1" height="1" fill="#333"/>
<rect x="785" y="29" width="1" height="1" fill="#333"/>
<rect x="795" y="29" width="1" height="1" fill="#333"/>
<rect x="807" y="29" width="1" height="1" fill="#333"/>
<rect x="817" y="29" width="1" height="1" fill="#333"/>
<rect x="827" y="29" width="1" height="1" fill="#333"/>
<rect x="838" y="29" width="1" height="1" fill="#333"/>
<rect x="848" y="29" width="1" height="1" fill="#333"/>
<rect x="858" y="29" width="1" height="1" fill="#333"/>
<rect x="868" y="29" width="1" height="1" fill="#333"/>
<rect x="879" y="29" width="1" height="1" fill="#333"/>
<rect x="889" y="29" width="1" height="1" fill="#333"/>
<rect x="899" y="29" width="1" height="1" fill="#333"/>
<rect x="909" y="29" width="1" height="1" fill="#333"/>
<rect x="920" y="29" width="1" height="1" fill="#333"/>
<rect x="930" y="29" width="1" height="1" fill="#333"/>
<rect x="940" y="29" width="1" height="1" fill="#333"/>
<rect x="950" y="29" width="1" height="1" fill="#333"/>
<rect x="960" y="29" width="1" height="1" fill="#333"/>
<rect x="970" y="29" width="1" height="1" fill="#333"/>
<rect x="981" y="29" width="1" height="1" fill="#333"/>
<rect x="991" y="29" width="1" height="1" fill="#333"/>
<rect x="365" y="13" width="1" height="8" fill="#262626"/>
<rect x="683" y="13" width="1" height="8" fill="#262626"/>
<rect x="39" y="13" width="953" height="1" fill="#4a4a4a"/>
<rect x="39" y="13" width="1" height="95" fill="#7a7a7a"/>
<rect x="39" y="107" width="953" height="1" fill="#4a4a4a"/>
<rect x="991" y="13" width="1" height="9" fill="#4a4a4a"/>
<rect x="39.3" y="113" width="952" height="94" fill="#fff"/>
<rect x="50" y="130" width="9" height="12" fill="#70ad47"/>
<rect x="50" y="143" width="9" height="12" fill="#ffff00"/>
<rect x="50" y="169" width="9" height="12" fill="#0070c0"/>
<rect x="50" y="182" width="9" height="12" fill="#ed7d31"/>
<rect x="50" y="195" width="9" height="12" fill="#7030a0"/>
<rect x="60" y="130" width="9" height="12" fill="#70ad47"/>
<rect x="60" y="143" width="9" height="12" fill="#ffff00"/>
<rect x="60" y="169" width="9" height="12" fill="#0070c0"/>
<rect x="60" y="182" width="9" height="12" fill="#ed7d31"/>
<rect x="60" y="195" width="9" height="12" fill="#7030a0"/>
<rect x="70" y="130" width="9" height="6" fill="#70ad47"/>
<rect x="70" y="136" width="9" height="1" fill="#c8c8c8"/>
<rect x="70" y="143" width="9" height="6" fill="#ffff00"/>
<rect x="70" y="149" width="9" height="1" fill="#3a3a3a"/>
<path d="M72.60 164.00 L74.50 160.50 L76.40 164.00 Z" fill="#000"/>
<rect x="70" y="169" width="9" height="6" fill="#0070c0"/>
<rect x="70" y="175" width="9" height="1" fill="#c8c8c8"/>
<rect x="70" y="182" width="9" height="12" fill="#ed7d31"/>
<rect x="70" y="195" width="9" height="12" fill="#7030a0"/>
<rect x="80" y="122" width="10" height="7" fill="#d9d9d9"/>
<rect x="80" y="130" width="10" height="12" fill="#d9d9d9"/>
<rect x="80" y="143" width="10" height="12" fill="#d9d9d9"/>
<rect x="80" y="156" width="10" height="12" fill="#d9d9d9"/>
<rect x="80" y="169" width="10" height="12" fill="#d9d9d9"/>
<rect x="80" y="182" width="10" height="12" fill="#d9d9d9"/>
<rect x="80" y="195" width="10" height="12" fill="#d9d9d9"/>
<rect x="91" y="122" width="9" height="7" fill="#d9d9d9"/>
<rect x="91" y="130" width="9" height="12" fill="#d9d9d9"/>
<rect x="91" y="143" width="9" height="12" fill="#d9d9d9"/>
<rect x="91" y="156" width="9" height="12" fill="#d9d9d9"/>
<rect x="91" y="169" width="9" height="12" fill="#d9d9d9"/>
<rect x="91" y="182" width="9" height="12" fill="#d9d9d9"/>
<rect x="91" y="195" width="9" height="12" fill="#d9d9d9"/>
<rect x="101" y="130" width="9" height="12" fill="#70ad47"/>
<rect x="101" y="143" width="9" height="12" fill="#ffff00"/>
<rect x="101" y="156" width="9" height="12" fill="#ff0000"/>
<rect x="101" y="182" width="9" height="12" fill="#ed7d31"/>
<rect x="101" y="195" width="9" height="12" fill="#7030a0"/>
<rect x="111" y="130" width="9" height="12" fill="#70ad47"/>
<rect x="111" y="143" width="9" height="12" fill="#ffff00"/>
<rect x="111" y="156" width="9" height="12" fill="#ff0000"/>
<rect x="111" y="182" width="9" height="12" fill="#ed7d31"/>
<rect x="111" y="195" width="9" height="12" fill="#7030a0"/>
<rect x="121" y="130" width="9" height="12" fill="#70ad47"/>
<rect x="121" y="143" width="9" height="12" fill="#ffff00"/>
<rect x="121" y="156" width="9" height="12" fill="#ff0000"/>
<rect x="121" y="182" width="9" height="12" fill="#ed7d31"/>
<rect x="121" y="195" width="9" height="12" fill="#7030a0"/>
<rect x="131" y="130" width="10" height="12" fill="#70ad47"/>
<rect x="131" y="143" width="10" height="12" fill="#ffff00"/>
<rect x="131" y="156" width="10" height="12" fill="#ff0000"/>
<rect x="131" y="182" width="10" height="12" fill="#ed7d31"/>
<rect x="131" y="195" width="10" height="12" fill="#7030a0"/>
<rect x="142" y="130" width="9" height="12" fill="#70ad47"/>
<rect x="142" y="143" width="9" height="12" fill="#ffff00"/>
<rect x="142" y="156" width="9" height="12" fill="#ff0000"/>
<rect x="142" y="182" width="9" height="12" fill="#ed7d31"/>
<rect x="142" y="195" width="9" height="12" fill="#7030a0"/>
<rect x="152" y="122" width="9" height="7" fill="#d9d9d9"/>
<rect x="152" y="130" width="9" height="12" fill="#d9d9d9"/>
<rect x="152" y="143" width="9" height="12" fill="#d9d9d9"/>
<rect x="152" y="156" width="9" height="12" fill="#d9d9d9"/>
<rect x="152" y="169" width="9" height="12" fill="#d9d9d9"/>
<rect x="152" y="182" width="9" height="12" fill="#d9d9d9"/>
<rect x="152" y="195" width="9" height="12" fill="#d9d9d9"/>
<rect x="162" y="122" width="9" height="7" fill="#d9d9d9"/>
<rect x="162" y="130" width="9" height="12" fill="#d9d9d9"/>
<rect x="162" y="143" width="9" height="12" fill="#d9d9d9"/>
<rect x="162" y="156" width="9" height="12" fill="#d9d9d9"/>
<rect x="162" y="169" width="9" height="12" fill="#d9d9d9"/>
<rect x="162" y="182" width="9" height="12" fill="#d9d9d9"/>
<rect x="162" y="195" width="9" height="12" fill="#d9d9d9"/>
<rect x="172" y="130" width="9" height="12" fill="#70ad47"/>
<rect x="172" y="143" width="9" height="12" fill="#ffff00"/>
<rect x="172" y="156" width="9" height="12" fill="#ff0000"/>
<rect x="172" y="182" width="9" height="12" fill="#ed7d31"/>
<rect x="172" y="195" width="9" height="12" fill="#7030a0"/>
<rect x="182" y="130" width="10" height="12" fill="#70ad47"/>
<rect x="182" y="143" width="10" height="12" fill="#ffff00"/>
<rect x="182" y="156" width="10" height="12" fill="#ff0000"/>
<rect x="182" y="182" width="10" height="12" fill="#ed7d31"/>
<rect x="182" y="195" width="10" height="12" fill="#7030a0"/>
<rect x="193" y="130" width="9" height="12" fill="#70ad47"/>
<rect x="193" y="143" width="9" height="12" fill="#ffff00"/>
<rect x="193" y="156" width="9" height="12" fill="#ff0000"/>
<rect x="193" y="182" width="9" height="12" fill="#ed7d31"/>
<rect x="193" y="195" width="9" height="12" fill="#7030a0"/>
<rect x="203" y="130" width="9" height="12" fill="#70ad47"/>
<rect x="203" y="143" width="9" height="12" fill="#ffff00"/>
<rect x="203" y="156" width="9" height="12" fill="#ff0000"/>
<rect x="203" y="182" width="9" height="12" fill="#ed7d31"/>
<rect x="203" y="195" width="9" height="12" fill="#7030a0"/>
<rect x="213" y="130" width="9" height="12" fill="#70ad47"/>
<rect x="213" y="143" width="9" height="12" fill="#ffff00"/>
<rect x="213" y="156" width="9" height="12" fill="#ff0000"/>
<rect x="213" y="182" width="9" height="12" fill="#ed7d31"/>
<rect x="213" y="195" width="9" height="12" fill="#7030a0"/>
<rect x="223" y="122" width="9" height="7" fill="#d9d9d9"/>
<rect x="223" y="130" width="9" height="12" fill="#d9d9d9"/>
<rect x="223" y="143" width="9" height="12" fill="#d9d9d9"/>
<rect x="223" y="156" width="9" height="12" fill="#d9d9d9"/>
<rect x="223" y="169" width="9" height="12" fill="#d9d9d9"/>
<rect x="223" y="182" width="9" height="12" fill="#d9d9d9"/>
<rect x="223" y="195" width="9" height="12" fill="#d9d9d9"/>
<rect x="233" y="122" width="10" height="7" fill="#d9d9d9"/>
<rect x="233" y="130" width="10" height="12" fill="#d9d9d9"/>
<rect x="233" y="143" width="10" height="12" fill="#d9d9d9"/>
<rect x="233" y="156" width="10" height="12" fill="#d9d9d9"/>
<rect x="233" y="169" width="10" height="12" fill="#d9d9d9"/>
<rect x="233" y="182" width="10" height="12" fill="#d9d9d9"/>
<rect x="233" y="195" width="10" height="12" fill="#d9d9d9"/>
<rect x="244" y="130" width="9" height="12" fill="#70ad47"/>
<rect x="244" y="143" width="9" height="12" fill="#ffff00"/>
<rect x="244" y="156" width="9" height="12" fill="#ff0000"/>
<rect x="244" y="182" width="9" height="12" fill="#ed7d31"/>
<rect x="244" y="195" width="9" height="12" fill="#7030a0"/>
<rect x="254" y="130" width="9" height="12" fill="#70ad47"/>
<rect x="254" y="143" width="9" height="12" fill="#ffff00"/>
<rect x="254" y="156" width="9" height="12" fill="#ff0000"/>
<rect x="254" y="182" width="9" height="12" fill="#ed7d31"/>
<rect x="254" y="195" width="9" height="12" fill="#7030a0"/>
<rect x="264" y="130" width="9" height="12" fill="#70ad47"/>
<rect x="264" y="143" width="9" height="12" fill="#ffff00"/>
<rect x="264" y="156" width="9" height="12" fill="#ff0000"/>
<rect x="264" y="182" width="9" height="12" fill="#ed7d31"/>
<rect x="264" y="195" width="9" height="12" fill="#7030a0"/>
<rect x="274" y="130" width="10" height="12" fill="#70ad47"/>
<rect x="274" y="143" width="10" height="12" fill="#ffff00"/>
<rect x="274" y="156" width="10" height="12" fill="#ff0000"/>
<rect x="274" y="182" width="10" height="12" fill="#ed7d31"/>
<rect x="274" y="195" width="10" height="12" fill="#7030a0"/>
<rect x="285" y="130" width="9" height="12" fill="#70ad47"/>
<rect x="285" y="143" width="9" height="12" fill="#ffff00"/>
<rect x="285" y="156" width="9" height="12" fill="#ff0000"/>
<rect x="285" y="182" width="9" height="12" fill="#ed7d31"/>
<rect x="285" y="195" width="9" height="12" fill="#7030a0"/>
<rect x="295" y="122" width="9" height="7" fill="#d9d9d9"/>
<rect x="295" y="130" width="9" height="12" fill="#d9d9d9"/>
<rect x="295" y="143" width="9" height="12" fill="#d9d9d9"/>
<rect x="295" y="156" width="9" height="12" fill="#d9d9d9"/>
<rect x="295" y="169" width="9" height="12" fill="#d9d9d9"/>
<rect x="295" y="182" width="9" height="12" fill="#d9d9d9"/>
<rect x="295" y="195" width="9" height="12" fill="#d9d9d9"/>
<rect x="305" y="122" width="9" height="7" fill="#d9d9d9"/>
<rect x="305" y="130" width="9" height="12" fill="#d9d9d9"/>
<rect x="305" y="143" width="9" height="12" fill="#d9d9d9"/>
<rect x="305" y="156" width="9" height="12" fill="#d9d9d9"/>
<rect x="305" y="169" width="9" height="12" fill="#d9d9d9"/>
<rect x="305" y="182" width="9" height="12" fill="#d9d9d9"/>
<rect x="305" y="195" width="9" height="12" fill="#d9d9d9"/>
<rect x="315" y="130" width="9" height="12" fill="#70ad47"/>
<rect x="315" y="143" width="9" height="12" fill="#ffff00"/>
<rect x="315" y="156" width="9" height="12" fill="#ff0000"/>
<rect x="315" y="182" width="9" height="12" fill="#ed7d31"/>
<rect x="315" y="195" width="9" height="12" fill="#7030a0"/>
<rect x="325" y="130" width="9" height="12" fill="#70ad47"/>
<rect x="325" y="143" width="9" height="12" fill="#ffff00"/>
<rect x="325" y="156" width="9" height="12" fill="#ff0000"/>
<rect x="325" y="182" width="9" height="12" fill="#ed7d31"/>
<rect x="325" y="195" width="9" height="12" fill="#7030a0"/>
<rect x="335" y="130" width="10" height="12" fill="#70ad47"/>
<rect x="335" y="143" width="10" height="12" fill="#ffff00"/>
<rect x="335" y="156" width="10" height="12" fill="#ff0000"/>
<rect x="335" y="182" width="10" height="12" fill="#ed7d31"/>
<rect x="335" y="195" width="10" height="12" fill="#7030a0"/>
<rect x="346" y="130" width="9" height="12" fill="#70ad47"/>
<rect x="346" y="143" width="9" height="12" fill="#ffff00"/>
<rect x="346" y="156" width="9" height="12" fill="#ff0000"/>
<rect x="346" y="182" width="9" height="12" fill="#ed7d31"/>
<rect x="346" y="195" width="9" height="12" fill="#7030a0"/>
<rect x="356" y="130" width="9" height="6" fill="#70ad47"/>
<rect x="356" y="136" width="9" height="1" fill="#c8c8c8"/>
<rect x="356" y="143" width="9" height="6" fill="#ffff00"/>
<rect x="356" y="149" width="9" height="1" fill="#3a3a3a"/>
<rect x="356" y="156" width="9" height="6" fill="#ff0000"/>
<rect x="356" y="162" width="9" height="1" fill="#c8c8c8"/>
<path d="M358.60 177.00 L360.50 173.50 L362.40 177.00 Z" fill="#000"/>
<rect x="356" y="182" width="9" height="12" fill="#ed7d31"/>
<rect x="356" y="195" width="9" height="12" fill="#7030a0"/>
<rect x="366" y="122" width="9" height="7" fill="#d9d9d9"/>
<rect x="366" y="130" width="9" height="12" fill="#d9d9d9"/>
<rect x="366" y="143" width="9" height="12" fill="#d9d9d9"/>
<rect x="366" y="156" width="9" height="12" fill="#d9d9d9"/>
<rect x="366" y="169" width="9" height="12" fill="#d9d9d9"/>
<rect x="366" y="182" width="9" height="12" fill="#d9d9d9"/>
<rect x="366" y="195" width="9" height="12" fill="#d9d9d9"/>
<rect x="376" y="122" width="9" height="7" fill="#d9d9d9"/>
<rect x="376" y="130" width="9" height="12" fill="#d9d9d9"/>
<rect x="376" y="143" width="9" height="12" fill="#d9d9d9"/>
<rect x="376" y="156" width="9" height="12" fill="#d9d9d9"/>
<rect x="376" y="169" width="9" height="12" fill="#d9d9d9"/>
<rect x="376" y="182" width="9" height="12" fill="#d9d9d9"/>
<rect x="376" y="195" width="9" height="12" fill="#d9d9d9"/>
<rect x="386" y="143" width="10" height="12" fill="#ffff00"/>
<rect x="386" y="156" width="10" height="12" fill="#ff0000"/>
<rect x="386" y="169" width="10" height="12" fill="#0070c0"/>
<rect x="386" y="182" width="10" height="12" fill="#ed7d31"/>
<rect x="386" y="195" width="10" height="12" fill="#7030a0"/>
<rect x="397" y="143" width="9" height="12" fill="#ffff00"/>
<rect x="397" y="156" width="9" height="12" fill="#ff0000"/>
<rect x="397" y="169" width="9" height="12" fill="#0070c0"/>
<rect x="397" y="182" width="9" height="12" fill="#ed7d31"/>
<rect x="397" y="195" width="9" height="12" fill="#7030a0"/>
<rect x="407" y="143" width="9" height="12" fill="#ffff00"/>
<rect x="407" y="156" width="9" height="12" fill="#ff0000"/>
<rect x="407" y="169" width="9" height="12" fill="#0070c0"/>
<rect x="407" y="182" width="9" height="12" fill="#ed7d31"/>
<rect x="407" y="195" width="9" height="12" fill="#7030a0"/>
<rect x="417" y="143" width="9" height="12" fill="#ffff00"/>
<rect x="417" y="156" width="9" height="12" fill="#ff0000"/>
<rect x="417" y="169" width="9" height="12" fill="#0070c0"/>
<rect x="417" y="182" width="9" height="12" fill="#ed7d31"/>
<rect x="417" y="195" width="9" height="12" fill="#7030a0"/>
<rect x="427" y="143" width="9" height="12" fill="#ffff00"/>
<rect x="427" y="156" width="9" height="12" fill="#ff0000"/>
<rect x="427" y="169" width="9" height="12" fill="#0070c0"/>
<rect x="427" y="182" width="9" height="6" fill="#ed7d31"/>
<rect x="427" y="188" width="9" height="1" fill="#c8c8c8"/>
<rect x="427" y="195" width="9" height="6" fill="#7030a0"/>
<rect x="427" y="201" width="9" height="1" fill="#c8c8c8"/>
<rect x="437" y="122" width="10" height="7" fill="#d9d9d9"/>
<rect x="437" y="130" width="10" height="12" fill="#d9d9d9"/>
<rect x="437" y="143" width="10" height="12" fill="#d9d9d9"/>
<rect x="437" y="156" width="10" height="12" fill="#d9d9d9"/>
<rect x="437" y="169" width="10" height="12" fill="#d9d9d9"/>
<rect x="437" y="182" width="10" height="12" fill="#d9d9d9"/>
<rect x="437" y="195" width="10" height="12" fill="#d9d9d9"/>
<rect x="448" y="122" width="9" height="7" fill="#d9d9d9"/>
<rect x="448" y="130" width="9" height="12" fill="#d9d9d9"/>
<rect x="448" y="143" width="9" height="12" fill="#d9d9d9"/>
<rect x="448" y="156" width="9" height="12" fill="#d9d9d9"/>
<rect x="448" y="169" width="9" height="12" fill="#d9d9d9"/>
<rect x="448" y="182" width="9" height="12" fill="#d9d9d9"/>
<rect x="448" y="195" width="9" height="12" fill="#d9d9d9"/>
<rect x="458" y="143" width="9" height="12" fill="#ffff00"/>
<rect x="458" y="156" width="9" height="12" fill="#ff0000"/>
<rect x="458" y="169" width="9" height="12" fill="#0070c0"/>
<rect x="458" y="182" width="9" height="12" fill="#ed7d31"/>
<rect x="458" y="195" width="9" height="12" fill="#7030a0"/>
<rect x="468" y="122" width="9" height="7" fill="#d9d9d9"/>
<rect x="468" y="130" width="9" height="12" fill="#808080"/>
<rect x="468" y="143" width="9" height="12" fill="#808080"/>
<rect x="468" y="156" width="9" height="12" fill="#808080"/>
<rect x="468" y="169" width="9" height="12" fill="#808080"/>
<rect x="468" y="182" width="9" height="12" fill="#808080"/>
<rect x="468" y="195" width="9" height="12" fill="#808080"/>
<rect x="478" y="143" width="10" height="12" fill="#ffff00"/>
<rect x="478" y="156" width="10" height="12" fill="#ff0000"/>
<rect x="478" y="169" width="10" height="12" fill="#0070c0"/>
<rect x="478" y="182" width="10" height="12" fill="#ed7d31"/>
<rect x="478" y="195" width="10" height="12" fill="#7030a0"/>
<rect x="489" y="143" width="9" height="12" fill="#ffff00"/>
<rect x="489" y="156" width="9" height="12" fill="#ff0000"/>
<rect x="489" y="169" width="9" height="12" fill="#0070c0"/>
<rect x="489" y="182" width="9" height="12" fill="#ed7d31"/>
<rect x="489" y="195" width="9" height="12" fill="#7030a0"/>
<rect x="499" y="143" width="9" height="12" fill="#ffff00"/>
<rect x="499" y="156" width="9" height="12" fill="#ff0000"/>
<rect x="499" y="169" width="9" height="12" fill="#0070c0"/>
<rect x="499" y="182" width="9" height="12" fill="#ed7d31"/>
<rect x="499" y="195" width="9" height="12" fill="#7030a0"/>
<rect x="509" y="122" width="9" height="7" fill="#d9d9d9"/>
<rect x="509" y="130" width="9" height="12" fill="#d9d9d9"/>
<rect x="509" y="143" width="9" height="12" fill="#d9d9d9"/>
<rect x="509" y="156" width="9" height="12" fill="#d9d9d9"/>
<rect x="509" y="169" width="9" height="12" fill="#d9d9d9"/>
<rect x="509" y="182" width="9" height="12" fill="#d9d9d9"/>
<rect x="509" y="195" width="9" height="12" fill="#d9d9d9"/>
<rect x="519" y="122" width="9" height="7" fill="#d9d9d9"/>
<rect x="519" y="130" width="9" height="12" fill="#d9d9d9"/>
<rect x="519" y="143" width="9" height="12" fill="#d9d9d9"/>
<rect x="519" y="156" width="9" height="12" fill="#d9d9d9"/>
<rect x="519" y="169" width="9" height="12" fill="#d9d9d9"/>
<rect x="519" y="182" width="9" height="12" fill="#d9d9d9"/>
<rect x="519" y="195" width="9" height="12" fill="#d9d9d9"/>
<rect x="529" y="143" width="10" height="12" fill="#ffff00"/>
<rect x="529" y="156" width="10" height="12" fill="#ff0000"/>
<rect x="529" y="169" width="10" height="12" fill="#0070c0"/>
<rect x="529" y="182" width="10" height="6" fill="#ed7d31"/>
<rect x="529" y="188" width="10" height="1" fill="#c8c8c8"/>
<rect x="529" y="195" width="10" height="6" fill="#7030a0"/>
<rect x="529" y="201" width="10" height="1" fill="#c8c8c8"/>
<rect x="540" y="143" width="9" height="12" fill="#ffff00"/>
<rect x="540" y="156" width="9" height="12" fill="#ff0000"/>
<rect x="540" y="169" width="9" height="12" fill="#0070c0"/>
<rect x="540" y="182" width="9" height="6" fill="#ed7d31"/>
<rect x="540" y="188" width="9" height="1" fill="#c8c8c8"/>
<rect x="540" y="195" width="9" height="6" fill="#7030a0"/>
<rect x="540" y="201" width="9" height="1" fill="#c8c8c8"/>
<rect x="550" y="143" width="9" height="12" fill="#ffff00"/>
<rect x="550" y="156" width="9" height="12" fill="#ff0000"/>
<rect x="550" y="169" width="9" height="12" fill="#0070c0"/>
<rect x="550" y="182" width="9" height="6" fill="#ed7d31"/>
<rect x="550" y="188" width="9" height="1" fill="#c8c8c8"/>
<rect x="550" y="195" width="9" height="6" fill="#7030a0"/>
<rect x="550" y="201" width="9" height="1" fill="#c8c8c8"/>
<rect x="560" y="143" width="9" height="12" fill="#ffff00"/>
<rect x="560" y="156" width="9" height="12" fill="#ff0000"/>
<rect x="560" y="169" width="9" height="12" fill="#0070c0"/>
<rect x="560" y="182" width="9" height="6" fill="#ed7d31"/>
<rect x="560" y="188" width="9" height="1" fill="#c8c8c8"/>
<rect x="560" y="195" width="9" height="6" fill="#7030a0"/>
<rect x="560" y="201" width="9" height="1" fill="#c8c8c8"/>
<path d="M573.10 138.00 L575.00 134.50 L576.90 138.00 Z" fill="#000"/>
<rect x="570" y="143" width="10" height="6" fill="#ffff00"/>
<rect x="570" y="149" width="10" height="1" fill="#3a3a3a"/>
<rect x="570" y="156" width="10" height="6" fill="#ff0000"/>
<rect x="570" y="162" width="10" height="1" fill="#c8c8c8"/>
<rect x="570" y="169" width="10" height="6" fill="#0070c0"/>
<rect x="570" y="175" width="10" height="1" fill="#c8c8c8"/>
<rect x="570" y="182" width="10" height="6" fill="#ed7d31"/>
<rect x="570" y="188" width="10" height="1" fill="#c8c8c8"/>
<rect x="570" y="195" width="10" height="6" fill="#7030a0"/>
<rect x="570" y="201" width="10" height="1" fill="#c8c8c8"/>
<rect x="581" y="122" width="9" height="7" fill="#d9d9d9"/>
<rect x="581" y="130" width="9" height="12" fill="#d9d9d9"/>
<rect x="581" y="143" width="9" height="12" fill="#d9d9d9"/>
<rect x="581" y="156" width="9" height="12" fill="#d9d9d9"/>
<rect x="581" y="169" width="9" height="12" fill="#d9d9d9"/>
<rect x="581" y="182" width="9" height="12" fill="#d9d9d9"/>
<rect x="581" y="195" width="9" height="12" fill="#d9d9d9"/>
<rect x="591" y="122" width="9" height="7" fill="#d9d9d9"/>
<rect x="591" y="130" width="9" height="12" fill="#d9d9d9"/>
<rect x="591" y="143" width="9" height="12" fill="#d9d9d9"/>
<rect x="591" y="156" width="9" height="12" fill="#d9d9d9"/>
<rect x="591" y="169" width="9" height="12" fill="#d9d9d9"/>
<rect x="591" y="182" width="9" height="12" fill="#d9d9d9"/>
<rect x="591" y="195" width="9" height="12" fill="#d9d9d9"/>
<rect x="601" y="122" width="9" height="7" fill="#d9d9d9"/>
<rect x="601" y="130" width="9" height="12" fill="#808080"/>
<rect x="601" y="143" width="9" height="12" fill="#808080"/>
<rect x="601" y="156" width="9" height="12" fill="#808080"/>
<rect x="601" y="169" width="9" height="12" fill="#808080"/>
<rect x="601" y="182" width="9" height="12" fill="#808080"/>
<rect x="601" y="195" width="9" height="12" fill="#808080"/>
<rect x="611" y="122" width="9" height="7" fill="#d9d9d9"/>
<rect x="611" y="130" width="9" height="12" fill="#808080"/>
<rect x="611" y="143" width="9" height="12" fill="#808080"/>
<rect x="611" y="156" width="9" height="12" fill="#808080"/>
<rect x="611" y="169" width="9" height="12" fill="#808080"/>
<rect x="611" y="182" width="9" height="12" fill="#808080"/>
<rect x="611" y="195" width="9" height="12" fill="#808080"/>
<rect x="621" y="122" width="9" height="7" fill="#d9d9d9"/>
<rect x="621" y="130" width="9" height="12" fill="#808080"/>
<rect x="621" y="143" width="9" height="12" fill="#808080"/>
<rect x="621" y="156" width="9" height="12" fill="#808080"/>
<rect x="621" y="169" width="9" height="12" fill="#808080"/>
<rect x="621" y="182" width="9" height="12" fill="#808080"/>
<rect x="621" y="195" width="9" height="12" fill="#808080"/>
<rect x="631" y="122" width="10" height="7" fill="#d9d9d9"/>
<rect x="631" y="130" width="10" height="12" fill="#808080"/>
<rect x="631" y="143" width="10" height="12" fill="#808080"/>
<rect x="631" y="156" width="10" height="12" fill="#808080"/>
<rect x="631" y="169" width="10" height="12" fill="#808080"/>
<rect x="631" y="182" width="10" height="12" fill="#808080"/>
<rect x="631" y="195" width="10" height="12" fill="#808080"/>
<rect x="642" y="122" width="9" height="7" fill="#d9d9d9"/>
<rect x="642" y="130" width="9" height="12" fill="#808080"/>
<rect x="642" y="143" width="9" height="12" fill="#808080"/>
<rect x="642" y="156" width="9" height="12" fill="#808080"/>
<rect x="642" y="169" width="9" height="12" fill="#808080"/>
<rect x="642" y="182" width="9" height="12" fill="#808080"/>
<rect x="642" y="195" width="9" height="12" fill="#808080"/>
<rect x="652" y="122" width="9" height="7" fill="#d9d9d9"/>
<rect x="652" y="130" width="9" height="12" fill="#d9d9d9"/>
<rect x="652" y="143" width="9" height="12" fill="#d9d9d9"/>
<rect x="652" y="156" width="9" height="12" fill="#d9d9d9"/>
<rect x="652" y="169" width="9" height="12" fill="#d9d9d9"/>
<rect x="652" y="182" width="9" height="12" fill="#d9d9d9"/>
<rect x="652" y="195" width="9" height="12" fill="#d9d9d9"/>
<rect x="662" y="122" width="11" height="7" fill="#d9d9d9"/>
<rect x="662" y="130" width="11" height="12" fill="#d9d9d9"/>
<rect x="662" y="143" width="11" height="12" fill="#d9d9d9"/>
<rect x="662" y="156" width="11" height="12" fill="#d9d9d9"/>
<rect x="662" y="169" width="11" height="12" fill="#d9d9d9"/>
<rect x="662" y="182" width="11" height="12" fill="#d9d9d9"/>
<rect x="662" y="195" width="11" height="12" fill="#d9d9d9"/>
<rect x="674" y="130" width="9" height="12" fill="#70ad47"/>
<rect x="674" y="156" width="9" height="12" fill="#ff0000"/>
<rect x="674" y="169" width="9" height="12" fill="#0070c0"/>
<rect x="674" y="182" width="9" height="12" fill="#ed7d31"/>
<rect x="674" y="195" width="9" height="12" fill="#7030a0"/>
<rect x="684" y="130" width="9" height="12" fill="#70ad47"/>
<rect x="684" y="156" width="9" height="12" fill="#ff0000"/>
<rect x="684" y="169" width="9" height="12" fill="#0070c0"/>
<rect x="684" y="182" width="9" height="12" fill="#ed7d31"/>
<rect x="684" y="195" width="9" height="12" fill="#7030a0"/>
<rect x="694" y="130" width="9" height="12" fill="#70ad47"/>
<rect x="694" y="156" width="9" height="12" fill="#ff0000"/>
<rect x="694" y="169" width="9" height="12" fill="#0070c0"/>
<rect x="694" y="182" width="9" height="12" fill="#ed7d31"/>
<rect x="694" y="195" width="9" height="12" fill="#7030a0"/>
<rect x="704" y="130" width="9" height="12" fill="#70ad47"/>
<rect x="704" y="156" width="9" height="12" fill="#ff0000"/>
<rect x="704" y="169" width="9" height="12" fill="#0070c0"/>
<rect x="704" y="182" width="9" height="12" fill="#ed7d31"/>
<rect x="704" y="195" width="9" height="12" fill="#7030a0"/>
<rect x="714" y="130" width="10" height="12" fill="#70ad47"/>
<rect x="714" y="156" width="10" height="12" fill="#ff0000"/>
<rect x="714" y="169" width="10" height="12" fill="#0070c0"/>
<rect x="714" y="182" width="10" height="12" fill="#ed7d31"/>
<rect x="714" y="195" width="10" height="12" fill="#7030a0"/>
<rect x="725" y="122" width="9" height="7" fill="#d9d9d9"/>
<rect x="725" y="130" width="9" height="12" fill="#d9d9d9"/>
<rect x="725" y="143" width="9" height="12" fill="#d9d9d9"/>
<rect x="725" y="156" width="9" height="12" fill="#d9d9d9"/>
<rect x="725" y="169" width="9" height="12" fill="#d9d9d9"/>
<rect x="725" y="182" width="9" height="12" fill="#d9d9d9"/>
<rect x="725" y="195" width="9" height="12" fill="#d9d9d9"/>
<rect x="735" y="122" width="9" height="7" fill="#d9d9d9"/>
<rect x="735" y="130" width="9" height="12" fill="#d9d9d9"/>
<rect x="735" y="143" width="9" height="12" fill="#d9d9d9"/>
<rect x="735" y="156" width="9" height="12" fill="#d9d9d9"/>
<rect x="735" y="169" width="9" height="12" fill="#d9d9d9"/>
<rect x="735" y="182" width="9" height="12" fill="#d9d9d9"/>
<rect x="735" y="195" width="9" height="12" fill="#d9d9d9"/>
<rect x="745" y="130" width="9" height="12" fill="#70ad47"/>
<rect x="745" y="156" width="9" height="12" fill="#ff0000"/>
<rect x="745" y="169" width="9" height="12" fill="#0070c0"/>
<rect x="745" y="182" width="9" height="12" fill="#ed7d31"/>
<rect x="745" y="195" width="9" height="12" fill="#7030a0"/>
<rect x="755" y="130" width="9" height="12" fill="#70ad47"/>
<rect x="755" y="156" width="9" height="12" fill="#ff0000"/>
<rect x="755" y="169" width="9" height="12" fill="#0070c0"/>
<rect x="755" y="182" width="9" height="12" fill="#ed7d31"/>
<rect x="755" y="195" width="9" height="12" fill="#7030a0"/>
<rect x="765" y="130" width="10" height="12" fill="#70ad47"/>
<rect x="765" y="156" width="10" height="12" fill="#ff0000"/>
<rect x="765" y="169" width="10" height="12" fill="#0070c0"/>
<rect x="765" y="182" width="10" height="12" fill="#ed7d31"/>
<rect x="765" y="195" width="10" height="12" fill="#7030a0"/>
<rect x="776" y="130" width="9" height="12" fill="#70ad47"/>
<rect x="776" y="156" width="9" height="12" fill="#ff0000"/>
<rect x="776" y="169" width="9" height="12" fill="#0070c0"/>
<rect x="776" y="182" width="9" height="12" fill="#ed7d31"/>
<rect x="776" y="195" width="9" height="12" fill="#7030a0"/>
<rect x="786" y="130" width="9" height="12" fill="#70ad47"/>
<rect x="786" y="156" width="9" height="12" fill="#ff0000"/>
<rect x="786" y="169" width="9" height="12" fill="#0070c0"/>
<rect x="786" y="182" width="9" height="12" fill="#ed7d31"/>
<rect x="786" y="195" width="9" height="12" fill="#7030a0"/>
<rect x="796" y="122" width="11" height="7" fill="#d9d9d9"/>
<rect x="796" y="130" width="11" height="12" fill="#d9d9d9"/>
<rect x="796" y="143" width="11" height="12" fill="#d9d9d9"/>
<rect x="796" y="156" width="11" height="12" fill="#d9d9d9"/>
<rect x="796" y="169" width="11" height="12" fill="#d9d9d9"/>
<rect x="796" y="182" width="11" height="12" fill="#d9d9d9"/>
<rect x="796" y="195" width="11" height="12" fill="#d9d9d9"/>
<rect x="808" y="122" width="9" height="7" fill="#d9d9d9"/>
<rect x="808" y="130" width="9" height="12" fill="#d9d9d9"/>
<rect x="808" y="143" width="9" height="12" fill="#d9d9d9"/>
<rect x="808" y="156" width="9" height="12" fill="#d9d9d9"/>
<rect x="808" y="169" width="9" height="12" fill="#d9d9d9"/>
<rect x="808" y="182" width="9" height="12" fill="#d9d9d9"/>
<rect x="808" y="195" width="9" height="12" fill="#d9d9d9"/>
<rect x="818" y="130" width="9" height="12" fill="#70ad47"/>
<rect x="818" y="156" width="9" height="12" fill="#ff0000"/>
<rect x="818" y="169" width="9" height="12" fill="#0070c0"/>
<rect x="818" y="182" width="9" height="12" fill="#ed7d31"/>
<rect x="818" y="195" width="9" height="12" fill="#7030a0"/>
<rect x="828" y="130" width="10" height="12" fill="#70ad47"/>
<rect x="828" y="156" width="10" height="12" fill="#ff0000"/>
<rect x="828" y="169" width="10" height="12" fill="#0070c0"/>
<rect x="828" y="182" width="10" height="12" fill="#ed7d31"/>
<rect x="828" y="195" width="10" height="12" fill="#7030a0"/>
<rect x="839" y="130" width="9" height="12" fill="#70ad47"/>
<rect x="839" y="156" width="9" height="12" fill="#ff0000"/>
<rect x="839" y="169" width="9" height="12" fill="#0070c0"/>
<rect x="839" y="182" width="9" height="12" fill="#ed7d31"/>
<rect x="839" y="195" width="9" height="12" fill="#7030a0"/>
<rect x="849" y="130" width="9" height="12" fill="#70ad47"/>
<rect x="849" y="156" width="9" height="12" fill="#ff0000"/>
<rect x="849" y="169" width="9" height="12" fill="#0070c0"/>
<rect x="849" y="182" width="9" height="12" fill="#ed7d31"/>
<rect x="849" y="195" width="9" height="12" fill="#7030a0"/>
<rect x="859" y="130" width="9" height="12" fill="#70ad47"/>
<rect x="859" y="156" width="9" height="12" fill="#ff0000"/>
<rect x="859" y="169" width="9" height="12" fill="#0070c0"/>
<rect x="859" y="182" width="9" height="6" fill="#ed7d31"/>
<rect x="859" y="188" width="9" height="1" fill="#c8c8c8"/>
<rect x="859" y="195" width="9" height="6" fill="#7030a0"/>
<rect x="859" y="201" width="9" height="1" fill="#c8c8c8"/>
<rect x="869" y="122" width="10" height="7" fill="#d9d9d9"/>
<rect x="869" y="130" width="10" height="12" fill="#d9d9d9"/>
<rect x="869" y="143" width="10" height="12" fill="#d9d9d9"/>
<rect x="869" y="156" width="10" height="12" fill="#d9d9d9"/>
<rect x="869" y="169" width="10" height="12" fill="#d9d9d9"/>
<rect x="869" y="182" width="10" height="12" fill="#d9d9d9"/>
<rect x="869" y="195" width="10" height="12" fill="#d9d9d9"/>
<rect x="880" y="122" width="9" height="7" fill="#d9d9d9"/>
<rect x="880" y="130" width="9" height="12" fill="#d9d9d9"/>
<rect x="880" y="143" width="9" height="12" fill="#d9d9d9"/>
<rect x="880" y="156" width="9" height="12" fill="#d9d9d9"/>
<rect x="880" y="169" width="9" height="12" fill="#d9d9d9"/>
<rect x="880" y="182" width="9" height="12" fill="#d9d9d9"/>
<rect x="880" y="195" width="9" height="12" fill="#d9d9d9"/>
<rect x="890" y="130" width="9" height="12" fill="#70ad47"/>
<rect x="890" y="156" width="9" height="12" fill="#ff0000"/>
<rect x="890" y="169" width="9" height="12" fill="#0070c0"/>
<rect x="890" y="182" width="9" height="12" fill="#808080"/>
<rect x="890" y="195" width="9" height="12" fill="#808080"/>
<rect x="900" y="130" width="9" height="6" fill="#70ad47"/>
<rect x="900" y="136" width="9" height="1" fill="#c8c8c8"/>
<path d="M902.60 151.00 L904.50 147.50 L906.40 151.00 Z" fill="#000"/>
<rect x="900" y="156" width="9" height="6" fill="#ff0000"/>
<rect x="900" y="162" width="9" height="1" fill="#c8c8c8"/>
<rect x="900" y="169" width="9" height="6" fill="#0070c0"/>
<rect x="900" y="175" width="9" height="1" fill="#c8c8c8"/>
<rect x="900" y="182" width="9" height="12" fill="#808080"/>
<rect x="900" y="195" width="9" height="12" fill="#808080"/>
<rect x="910" y="122" width="10" height="7" fill="#d9d9d9"/>
<rect x="910" y="130" width="10" height="12" fill="#808080"/>
<rect x="910" y="143" width="10" height="12" fill="#808080"/>
<rect x="910" y="156" width="10" height="12" fill="#808080"/>
<rect x="910" y="169" width="10" height="12" fill="#808080"/>
<rect x="910" y="182" width="10" height="12" fill="#808080"/>
<rect x="910" y="195" width="10" height="12" fill="#808080"/>
<rect x="921" y="122" width="9" height="7" fill="#d9d9d9"/>
<rect x="921" y="130" width="9" height="12" fill="#808080"/>
<rect x="921" y="143" width="9" height="12" fill="#808080"/>
<rect x="921" y="156" width="9" height="12" fill="#808080"/>
<rect x="921" y="169" width="9" height="12" fill="#808080"/>
<rect x="921" y="182" width="9" height="12" fill="#808080"/>
<rect x="921" y="195" width="9" height="12" fill="#808080"/>
<rect x="931" y="122" width="9" height="7" fill="#d9d9d9"/>
<rect x="931" y="130" width="9" height="12" fill="#808080"/>
<rect x="931" y="143" width="9" height="12" fill="#808080"/>
<rect x="931" y="156" width="9" height="12" fill="#808080"/>
<rect x="931" y="169" width="9" height="12" fill="#808080"/>
<rect x="931" y="182" width="9" height="12" fill="#808080"/>
<rect x="931" y="195" width="9" height="12" fill="#808080"/>
<rect x="941" y="122" width="9" height="7" fill="#d9d9d9"/>
<rect x="941" y="130" width="9" height="12" fill="#d9d9d9"/>
<rect x="941" y="143" width="9" height="12" fill="#d9d9d9"/>
<rect x="941" y="156" width="9" height="12" fill="#d9d9d9"/>
<rect x="941" y="169" width="9" height="12" fill="#d9d9d9"/>
<rect x="941" y="182" width="9" height="12" fill="#d9d9d9"/>
<rect x="941" y="195" width="9" height="12" fill="#d9d9d9"/>
<rect x="951" y="122" width="9" height="7" fill="#d9d9d9"/>
<rect x="951" y="130" width="9" height="12" fill="#d9d9d9"/>
<rect x="951" y="143" width="9" height="12" fill="#d9d9d9"/>
<rect x="951" y="156" width="9" height="12" fill="#d9d9d9"/>
<rect x="951" y="169" width="9" height="12" fill="#d9d9d9"/>
<rect x="951" y="182" width="9" height="12" fill="#d9d9d9"/>
<rect x="951" y="195" width="9" height="12" fill="#d9d9d9"/>
<rect x="961" y="122" width="9" height="7" fill="#d9d9d9"/>
<rect x="961" y="130" width="9" height="12" fill="#808080"/>
<rect x="961" y="143" width="9" height="12" fill="#808080"/>
<rect x="961" y="156" width="9" height="12" fill="#808080"/>
<rect x="961" y="169" width="9" height="12" fill="#808080"/>
<rect x="961" y="182" width="9" height="12" fill="#808080"/>
<rect x="961" y="195" width="9" height="12" fill="#808080"/>
<rect x="971" y="122" width="10" height="7" fill="#d9d9d9"/>
<rect x="971" y="130" width="10" height="12" fill="#808080"/>
<rect x="971" y="143" width="10" height="12" fill="#808080"/>
<rect x="971" y="156" width="10" height="12" fill="#808080"/>
<rect x="971" y="169" width="10" height="12" fill="#808080"/>
<rect x="971" y="182" width="10" height="12" fill="#808080"/>
<rect x="971" y="195" width="10" height="12" fill="#808080"/>
<rect x="982" y="122" width="9" height="7" fill="#d9d9d9"/>
<rect x="982" y="130" width="9" height="12" fill="#808080"/>
<rect x="982" y="143" width="9" height="12" fill="#808080"/>
<rect x="982" y="156" width="9" height="12" fill="#808080"/>
<rect x="982" y="169" width="9" height="12" fill="#808080"/>
<rect x="982" y="182" width="9" height="12" fill="#808080"/>
<rect x="982" y="195" width="9" height="12" fill="#808080"/>
<rect x="49" y="121" width="1" height="87" fill="#262626"/>
<rect x="59" y="121" width="1" height="87" fill="#262626"/>
<rect x="69" y="121" width="1" height="87" fill="#262626"/>
<rect x="79" y="121" width="1" height="87" fill="#262626"/>
<rect x="90" y="121" width="1" height="87" fill="#262626"/>
<rect x="100" y="121" width="1" height="87" fill="#262626"/>
<rect x="110" y="121" width="1" height="87" fill="#262626"/>
<rect x="120" y="121" width="1" height="87" fill="#262626"/>
<rect x="130" y="121" width="1" height="87" fill="#262626"/>
<rect x="141" y="121" width="1" height="87" fill="#262626"/>
<rect x="151" y="121" width="1" height="87" fill="#262626"/>
<rect x="161" y="121" width="1" height="87" fill="#262626"/>
<rect x="171" y="121" width="1" height="87" fill="#262626"/>
<rect x="181" y="121" width="1" height="87" fill="#262626"/>
<rect x="192" y="121" width="1" height="87" fill="#262626"/>
<rect x="202" y="121" width="1" height="87" fill="#262626"/>
<rect x="212" y="121" width="1" height="87" fill="#262626"/>
<rect x="222" y="121" width="1" height="87" fill="#262626"/>
<rect x="232" y="121" width="1" height="87" fill="#262626"/>
<rect x="243" y="121" width="1" height="87" fill="#262626"/>
<rect x="253" y="121" width="1" height="87" fill="#262626"/>
<rect x="263" y="121" width="1" height="87" fill="#262626"/>
<rect x="273" y="121" width="1" height="87" fill="#262626"/>
<rect x="284" y="121" width="1" height="87" fill="#262626"/>
<rect x="294" y="121" width="1" height="87" fill="#262626"/>
<rect x="304" y="121" width="1" height="87" fill="#262626"/>
<rect x="314" y="121" width="1" height="87" fill="#262626"/>
<rect x="324" y="121" width="1" height="87" fill="#262626"/>
<rect x="334" y="121" width="1" height="87" fill="#262626"/>
<rect x="345" y="121" width="1" height="87" fill="#262626"/>
<rect x="355" y="121" width="1" height="87" fill="#262626"/>
<rect x="365" y="121" width="1" height="87" fill="#262626"/>
<rect x="375" y="121" width="1" height="87" fill="#262626"/>
<rect x="385" y="121" width="1" height="87" fill="#262626"/>
<rect x="396" y="121" width="1" height="87" fill="#262626"/>
<rect x="406" y="121" width="1" height="87" fill="#262626"/>
<rect x="416" y="121" width="1" height="87" fill="#262626"/>
<rect x="426" y="121" width="1" height="87" fill="#262626"/>
<rect x="436" y="121" width="1" height="87" fill="#262626"/>
<rect x="447" y="121" width="1" height="87" fill="#262626"/>
<rect x="457" y="121" width="1" height="87" fill="#262626"/>
<rect x="467" y="121" width="1" height="87" fill="#262626"/>
<rect x="477" y="121" width="1" height="87" fill="#262626"/>
<rect x="488" y="121" width="1" height="87" fill="#262626"/>
<rect x="498" y="121" width="1" height="87" fill="#262626"/>
<rect x="508" y="121" width="1" height="87" fill="#262626"/>
<rect x="518" y="121" width="1" height="87" fill="#262626"/>
<rect x="528" y="121" width="1" height="87" fill="#262626"/>
<rect x="539" y="121" width="1" height="87" fill="#262626"/>
<rect x="549" y="121" width="1" height="87" fill="#262626"/>
<rect x="559" y="121" width="1" height="87" fill="#262626"/>
<rect x="569" y="121" width="1" height="87" fill="#262626"/>
<rect x="580" y="121" width="1" height="87" fill="#262626"/>
<rect x="590" y="121" width="1" height="87" fill="#262626"/>
<rect x="600" y="121" width="1" height="87" fill="#262626"/>
<rect x="610" y="121" width="1" height="87" fill="#262626"/>
<rect x="620" y="121" width="1" height="87" fill="#262626"/>
<rect x="630" y="121" width="1" height="87" fill="#262626"/>
<rect x="641" y="121" width="1" height="87" fill="#262626"/>
<rect x="651" y="121" width="1" height="87" fill="#262626"/>
<rect x="661" y="121" width="1" height="87" fill="#262626"/>
<rect x="673" y="121" width="1" height="87" fill="#262626"/>
<rect x="683" y="121" width="1" height="87" fill="#262626"/>
<rect x="693" y="121" width="1" height="87" fill="#262626"/>
<rect x="703" y="121" width="1" height="87" fill="#262626"/>
<rect x="713" y="121" width="1" height="87" fill="#262626"/>
<rect x="724" y="121" width="1" height="87" fill="#262626"/>
<rect x="734" y="121" width="1" height="87" fill="#262626"/>
<rect x="744" y="121" width="1" height="87" fill="#262626"/>
<rect x="754" y="121" width="1" height="87" fill="#262626"/>
<rect x="764" y="121" width="1" height="87" fill="#262626"/>
<rect x="775" y="121" width="1" height="87" fill="#262626"/>
<rect x="785" y="121" width="1" height="87" fill="#262626"/>
<rect x="795" y="121" width="1" height="87" fill="#262626"/>
<rect x="807" y="121" width="1" height="87" fill="#262626"/>
<rect x="817" y="121" width="1" height="87" fill="#262626"/>
<rect x="827" y="121" width="1" height="87" fill="#262626"/>
<rect x="838" y="121" width="1" height="87" fill="#262626"/>
<rect x="848" y="121" width="1" height="87" fill="#262626"/>
<rect x="858" y="121" width="1" height="87" fill="#262626"/>
<rect x="868" y="121" width="1" height="87" fill="#262626"/>
<rect x="879" y="121" width="1" height="87" fill="#262626"/>
<rect x="889" y="121" width="1" height="87" fill="#262626"/>
<rect x="899" y="121" width="1" height="87" fill="#262626"/>
<rect x="909" y="121" width="1" height="87" fill="#262626"/>
<rect x="920" y="121" width="1" height="87" fill="#262626"/>
<rect x="930" y="121" width="1" height="87" fill="#262626"/>
<rect x="940" y="121" width="1" height="87" fill="#262626"/>
<rect x="950" y="121" width="1" height="87" fill="#262626"/>
<rect x="960" y="121" width="1" height="87" fill="#262626"/>
<rect x="970" y="121" width="1" height="87" fill="#262626"/>
<rect x="981" y="121" width="1" height="87" fill="#262626"/>
<rect x="991" y="121" width="1" height="87" fill="#262626"/>
<rect x="49" y="142" width="943" height="1" fill="#262626"/>
<rect x="49" y="155" width="943" height="1" fill="#262626"/>
<rect x="49" y="168" width="943" height="1" fill="#262626"/>
<rect x="49" y="181" width="943" height="1" fill="#262626"/>
<rect x="49" y="194" width="943" height="1" fill="#262626"/>
<rect x="49" y="207" width="943" height="1" fill="#262626"/>
<rect x="49" y="121" width="943" height="1" fill="#5a5a5a"/>
<rect x="49" y="129" width="943" height="1" fill="#858585"/>
<rect x="49" y="129" width="1" height="1" fill="#333"/>
<rect x="59" y="129" width="1" height="1" fill="#333"/>
<rect x="69" y="129" width="1" height="1" fill="#333"/>
<rect x="79" y="129" width="1" height="1" fill="#333"/>
<rect x="90" y="129" width="1" height="1" fill="#333"/>
<rect x="100" y="129" width="1" height="1" fill="#333"/>
<rect x="110" y="129" width="1" height="1" fill="#333"/>
<rect x="120" y="129" width="1" height="1" fill="#333"/>
<rect x="130" y="129" width="1" height="1" fill="#333"/>
<rect x="141" y="129" width="1" height="1" fill="#333"/>
<rect x="151" y="129" width="1" height="1" fill="#333"/>
<rect x="161" y="129" width="1" height="1" fill="#333"/>
<rect x="171" y="129" width="1" height="1" fill="#333"/>
<rect x="181" y="129" width="1" height="1" fill="#333"/>
<rect x="192" y="129" width="1" height="1" fill="#333"/>
<rect x="202" y="129" width="1" height="1" fill="#333"/>
<rect x="212" y="129" width="1" height="1" fill="#333"/>
<rect x="222" y="129" width="1" height="1" fill="#333"/>
<rect x="232" y="129" width="1" height="1" fill="#333"/>
<rect x="243" y="129" width="1" height="1" fill="#333"/>
<rect x="253" y="129" width="1" height="1" fill="#333"/>
<rect x="263" y="129" width="1" height="1" fill="#333"/>
<rect x="273" y="129" width="1" height="1" fill="#333"/>
<rect x="284" y="129" width="1" height="1" fill="#333"/>
<rect x="294" y="129" width="1" height="1" fill="#333"/>
<rect x="304" y="129" width="1" height="1" fill="#333"/>
<rect x="314" y="129" width="1" height="1" fill="#333"/>
<rect x="324" y="129" width="1" height="1" fill="#333"/>
<rect x="334" y="129" width="1" height="1" fill="#333"/>
<rect x="345" y="129" width="1" height="1" fill="#333"/>
<rect x="355" y="129" width="1" height="1" fill="#333"/>
<rect x="365" y="129" width="1" height="1" fill="#333"/>
<rect x="375" y="129" width="1" height="1" fill="#333"/>
<rect x="385" y="129" width="1" height="1" fill="#333"/>
<rect x="396" y="129" width="1" height="1" fill="#333"/>
<rect x="406" y="129" width="1" height="1" fill="#333"/>
<rect x="416" y="129" width="1" height="1" fill="#333"/>
<rect x="426" y="129" width="1" height="1" fill="#333"/>
<rect x="436" y="129" width="1" height="1" fill="#333"/>
<rect x="447" y="129" width="1" height="1" fill="#333"/>
<rect x="457" y="129" width="1" height="1" fill="#333"/>
<rect x="467" y="129" width="1" height="1" fill="#333"/>
<rect x="477" y="129" width="1" height="1" fill="#333"/>
<rect x="488" y="129" width="1" height="1" fill="#333"/>
<rect x="498" y="129" width="1" height="1" fill="#333"/>
<rect x="508" y="129" width="1" height="1" fill="#333"/>
<rect x="518" y="129" width="1" height="1" fill="#333"/>
<rect x="528" y="129" width="1" height="1" fill="#333"/>
<rect x="539" y="129" width="1" height="1" fill="#333"/>
<rect x="549" y="129" width="1" height="1" fill="#333"/>
<rect x="559" y="129" width="1" height="1" fill="#333"/>
<rect x="569" y="129" width="1" height="1" fill="#333"/>
<rect x="580" y="129" width="1" height="1" fill="#333"/>
<rect x="590" y="129" width="1" height="1" fill="#333"/>
<rect x="600" y="129" width="1" height="1" fill="#333"/>
<rect x="610" y="129" width="1" height="1" fill="#333"/>
<rect x="620" y="129" width="1" height="1" fill="#333"/>
<rect x="630" y="129" width="1" height="1" fill="#333"/>
<rect x="641" y="129" width="1" height="1" fill="#333"/>
<rect x="651" y="129" width="1" height="1" fill="#333"/>
<rect x="661" y="129" width="1" height="1" fill="#333"/>
<rect x="673" y="129" width="1" height="1" fill="#333"/>
<rect x="683" y="129" width="1" height="1" fill="#333"/>
<rect x="693" y="129" width="1" height="1" fill="#333"/>
<rect x="703" y="129" width="1" height="1" fill="#333"/>
<rect x="713" y="129" width="1" height="1" fill="#333"/>
<rect x="724" y="129" width="1" height="1" fill="#333"/>
<rect x="734" y="129" width="1" height="1" fill="#333"/>
<rect x="744" y="129" width="1" height="1" fill="#333"/>
<rect x="754" y="129" width="1" height="1" fill="#333"/>
<rect x="764" y="129" width="1" height="1" fill="#333"/>
<rect x="775" y="129" width="1" height="1" fill="#333"/>
<rect x="785" y="129" width="1" height="1" fill="#333"/>
<rect x="795" y="129" width="1" height="1" fill="#333"/>
<rect x="807" y="129" width="1" height="1" fill="#333"/>
<rect x="817" y="129" width="1" height="1" fill="#333"/>
<rect x="827" y="129" width="1" height="1" fill="#333"/>
<rect x="838" y="129" width="1" height="1" fill="#333"/>
<rect x="848" y="129" width="1" height="1" fill="#333"/>
<rect x="858" y="129" width="1" height="1" fill="#333"/>
<rect x="868" y="129" width="1" height="1" fill="#333"/>
<rect x="879" y="129" width="1" height="1" fill="#333"/>
<rect x="889" y="129" width="1" height="1" fill="#333"/>
<rect x="899" y="129" width="1" height="1" fill="#333"/>
<rect x="909" y="129" width="1" height="1" fill="#333"/>
<rect x="920" y="129" width="1" height="1" fill="#333"/>
<rect x="930" y="129" width="1" height="1" fill="#333"/>
<rect x="940" y="129" width="1" height="1" fill="#333"/>
<rect x="950" y="129" width="1" height="1" fill="#333"/>
<rect x="960" y="129" width="1" height="1" fill="#333"/>
<rect x="970" y="129" width="1" height="1" fill="#333"/>
<rect x="981" y="129" width="1" height="1" fill="#333"/>
<rect x="991" y="129" width="1" height="1" fill="#333"/>
<rect x="355" y="113" width="1" height="8" fill="#262626"/>
<rect x="673" y="113" width="1" height="8" fill="#262626"/>
<rect x="39" y="113" width="953" height="1" fill="#4a4a4a"/>
<rect x="39" y="113" width="1" height="95" fill="#7a7a7a"/>
<rect x="39" y="207" width="953" height="1" fill="#4a4a4a"/>
<rect x="991" y="113" width="1" height="9" fill="#4a4a4a"/>
<rect x="39.3" y="213" width="952" height="93" fill="#fff"/>
<rect x="50" y="222" width="9" height="7" fill="#d9d9d9"/>
<rect x="50" y="230" width="9" height="12" fill="#808080"/>
<rect x="50" y="243" width="9" height="12" fill="#808080"/>
<rect x="50" y="256" width="9" height="12" fill="#808080"/>
<rect x="50" y="269" width="9" height="12" fill="#808080"/>
<rect x="50" y="282" width="9" height="12" fill="#808080"/>
<rect x="50" y="295" width="9" height="11" fill="#808080"/>
<rect x="60" y="222" width="9" height="7" fill="#d9d9d9"/>
<rect x="60" y="230" width="9" height="12" fill="#808080"/>
<rect x="60" y="243" width="9" height="12" fill="#808080"/>
<rect x="60" y="256" width="9" height="12" fill="#808080"/>
<rect x="60" y="269" width="9" height="12" fill="#808080"/>
<rect x="60" y="282" width="9" height="12" fill="#808080"/>
<rect x="60" y="295" width="9" height="11" fill="#808080"/>
<rect x="70" y="222" width="9" height="7" fill="#d9d9d9"/>
<rect x="70" y="230" width="9" height="12" fill="#d9d9d9"/>
<rect x="70" y="243" width="9" height="12" fill="#d9d9d9"/>
<rect x="70" y="256" width="9" height="12" fill="#d9d9d9"/>
<rect x="70" y="269" width="9" height="12" fill="#d9d9d9"/>
<rect x="70" y="282" width="9" height="12" fill="#d9d9d9"/>
<rect x="70" y="295" width="9" height="11" fill="#d9d9d9"/>
<rect x="80" y="222" width="10" height="7" fill="#d9d9d9"/>
<rect x="80" y="230" width="10" height="12" fill="#d9d9d9"/>
<rect x="80" y="243" width="10" height="12" fill="#d9d9d9"/>
<rect x="80" y="256" width="10" height="12" fill="#d9d9d9"/>
<rect x="80" y="269" width="10" height="12" fill="#d9d9d9"/>
<rect x="80" y="282" width="10" height="12" fill="#d9d9d9"/>
<rect x="80" y="295" width="10" height="11" fill="#d9d9d9"/>
<rect x="91" y="230" width="9" height="12" fill="#70ad47"/>
<rect x="91" y="243" width="9" height="12" fill="#ffff00"/>
<rect x="91" y="269" width="9" height="12" fill="#0070c0"/>
<rect x="91" y="282" width="9" height="12" fill="#808080"/>
<rect x="93" y="298.6" width="1" height="3.8" fill="#000"/>
<rect x="101" y="230" width="9" height="12" fill="#70ad47"/>
<rect x="101" y="243" width="9" height="12" fill="#ffff00"/>
<rect x="101" y="269" width="9" height="12" fill="#0070c0"/>
<rect x="101" y="282" width="9" height="12" fill="#808080"/>
<rect x="101" y="295" width="9" height="11" fill="#7030a0"/>
<rect x="111" y="230" width="9" height="12" fill="#70ad47"/>
<rect x="111" y="243" width="9" height="12" fill="#ffff00"/>
<rect x="111" y="269" width="9" height="12" fill="#0070c0"/>
<rect x="111" y="282" width="9" height="12" fill="#808080"/>
<rect x="111" y="295" width="9" height="11" fill="#7030a0"/>
<rect x="121" y="230" width="9" height="12" fill="#70ad47"/>
<rect x="121" y="243" width="9" height="12" fill="#ffff00"/>
<rect x="121" y="269" width="9" height="12" fill="#0070c0"/>
<rect x="121" y="282" width="9" height="12" fill="#808080"/>
<rect x="121" y="295" width="9" height="11" fill="#7030a0"/>
<rect x="131" y="230" width="10" height="12" fill="#70ad47"/>
<rect x="131" y="243" width="10" height="12" fill="#ffff00"/>
<rect x="131" y="269" width="10" height="12" fill="#0070c0"/>
<rect x="131" y="282" width="10" height="12" fill="#808080"/>
<rect x="131" y="295" width="10" height="11" fill="#7030a0"/>
<rect x="142" y="222" width="9" height="7" fill="#d9d9d9"/>
<rect x="142" y="230" width="9" height="12" fill="#d9d9d9"/>
<rect x="142" y="243" width="9" height="12" fill="#d9d9d9"/>
<rect x="142" y="256" width="9" height="12" fill="#d9d9d9"/>
<rect x="142" y="269" width="9" height="12" fill="#d9d9d9"/>
<rect x="142" y="282" width="9" height="12" fill="#d9d9d9"/>
<rect x="142" y="295" width="9" height="11" fill="#d9d9d9"/>
<rect x="152" y="222" width="9" height="7" fill="#d9d9d9"/>
<rect x="152" y="230" width="9" height="12" fill="#d9d9d9"/>
<rect x="152" y="243" width="9" height="12" fill="#d9d9d9"/>
<rect x="152" y="256" width="9" height="12" fill="#d9d9d9"/>
<rect x="152" y="269" width="9" height="12" fill="#d9d9d9"/>
<rect x="152" y="282" width="9" height="12" fill="#d9d9d9"/>
<rect x="152" y="295" width="9" height="11" fill="#d9d9d9"/>
<rect x="162" y="230" width="9" height="12" fill="#70ad47"/>
<rect x="162" y="243" width="9" height="12" fill="#ffff00"/>
<rect x="162" y="269" width="9" height="12" fill="#0070c0"/>
<rect x="164" y="286.1" width="1" height="3.8" fill="#000"/>
<rect x="162" y="295" width="9" height="11" fill="#7030a0"/>
<rect x="172" y="230" width="9" height="12" fill="#70ad47"/>
<rect x="172" y="243" width="9" height="12" fill="#ffff00"/>
<rect x="172" y="269" width="9" height="12" fill="#0070c0"/>
<rect x="172" y="282" width="9" height="12" fill="#ed7d31"/>
<rect x="172" y="295" width="9" height="11" fill="#7030a0"/>
<rect x="182" y="230" width="10" height="12" fill="#70ad47"/>
<rect x="182" y="243" width="10" height="12" fill="#ffff00"/>
<rect x="182" y="269" width="10" height="12" fill="#0070c0"/>
<rect x="182" y="282" width="10" height="12" fill="#ed7d31"/>
<rect x="182" y="295" width="10" height="11" fill="#7030a0"/>
<rect x="193" y="230" width="9" height="12" fill="#70ad47"/>
<rect x="193" y="243" width="9" height="12" fill="#ffff00"/>
<rect x="193" y="269" width="9" height="12" fill="#0070c0"/>
<rect x="193" y="282" width="9" height="12" fill="#ed7d31"/>
<rect x="193" y="295" width="9" height="11" fill="#7030a0"/>
<rect x="203" y="230" width="9" height="12" fill="#70ad47"/>
<rect x="203" y="243" width="9" height="12" fill="#ffff00"/>
<rect x="203" y="269" width="9" height="12" fill="#0070c0"/>
<rect x="203" y="282" width="9" height="12" fill="#ed7d31"/>
<rect x="203" y="295" width="9" height="11" fill="#7030a0"/>
<rect x="213" y="222" width="9" height="7" fill="#d9d9d9"/>
<rect x="213" y="230" width="9" height="12" fill="#d9d9d9"/>
<rect x="213" y="243" width="9" height="12" fill="#d9d9d9"/>
<rect x="213" y="256" width="9" height="12" fill="#d9d9d9"/>
<rect x="213" y="269" width="9" height="12" fill="#d9d9d9"/>
<rect x="213" y="282" width="9" height="12" fill="#d9d9d9"/>
<rect x="213" y="295" width="9" height="11" fill="#d9d9d9"/>
<rect x="223" y="222" width="9" height="7" fill="#d9d9d9"/>
<rect x="223" y="230" width="9" height="12" fill="#d9d9d9"/>
<rect x="223" y="243" width="9" height="12" fill="#d9d9d9"/>
<rect x="223" y="256" width="9" height="12" fill="#d9d9d9"/>
<rect x="223" y="269" width="9" height="12" fill="#d9d9d9"/>
<rect x="223" y="282" width="9" height="12" fill="#d9d9d9"/>
<rect x="223" y="295" width="9" height="11" fill="#d9d9d9"/>
<rect x="233" y="222" width="10" height="7" fill="#d9d9d9"/>
<rect x="233" y="230" width="10" height="12" fill="#808080"/>
<rect x="233" y="243" width="10" height="12" fill="#808080"/>
<rect x="233" y="256" width="10" height="12" fill="#808080"/>
<rect x="233" y="269" width="10" height="12" fill="#808080"/>
<rect x="233" y="282" width="10" height="12" fill="#808080"/>
<rect x="233" y="295" width="10" height="11" fill="#808080"/>
<rect x="244" y="230" width="9" height="12" fill="#70ad47"/>
<rect x="244" y="243" width="9" height="12" fill="#ffff00"/>
<rect x="244" y="269" width="9" height="12" fill="#0070c0"/>
<rect x="244" y="282" width="9" height="12" fill="#ed7d31"/>
<rect x="244" y="295" width="9" height="11" fill="#7030a0"/>
<rect x="254" y="230" width="9" height="12" fill="#70ad47"/>
<rect x="254" y="243" width="9" height="12" fill="#ffff00"/>
<rect x="254" y="269" width="9" height="12" fill="#0070c0"/>
<rect x="254" y="282" width="9" height="12" fill="#ed7d31"/>
<rect x="254" y="295" width="9" height="11" fill="#7030a0"/>
<rect x="264" y="230" width="9" height="12" fill="#70ad47"/>
<rect x="264" y="243" width="9" height="12" fill="#ffff00"/>
<rect x="264" y="269" width="9" height="12" fill="#0070c0"/>
<rect x="264" y="282" width="9" height="12" fill="#ed7d31"/>
<rect x="264" y="295" width="9" height="11" fill="#7030a0"/>
<rect x="274" y="230" width="10" height="12" fill="#70ad47"/>
<rect x="274" y="243" width="10" height="12" fill="#ffff00"/>
<rect x="274" y="269" width="10" height="12" fill="#0070c0"/>
<rect x="274" y="282" width="10" height="12" fill="#ed7d31"/>
<rect x="274" y="295" width="10" height="11" fill="#7030a0"/>
<rect x="285" y="222" width="9" height="7" fill="#d9d9d9"/>
<rect x="285" y="230" width="9" height="12" fill="#d9d9d9"/>
<rect x="285" y="243" width="9" height="12" fill="#d9d9d9"/>
<rect x="285" y="256" width="9" height="12" fill="#d9d9d9"/>
<rect x="285" y="269" width="9" height="12" fill="#d9d9d9"/>
<rect x="285" y="282" width="9" height="12" fill="#d9d9d9"/>
<rect x="285" y="295" width="9" height="11" fill="#d9d9d9"/>
<rect x="295" y="222" width="9" height="7" fill="#d9d9d9"/>
<rect x="295" y="230" width="9" height="12" fill="#d9d9d9"/>
<rect x="295" y="243" width="9" height="12" fill="#d9d9d9"/>
<rect x="295" y="256" width="9" height="12" fill="#d9d9d9"/>
<rect x="295" y="269" width="9" height="12" fill="#d9d9d9"/>
<rect x="295" y="282" width="9" height="12" fill="#d9d9d9"/>
<rect x="295" y="295" width="9" height="11" fill="#d9d9d9"/>
<rect x="305" y="230" width="9" height="12" fill="#70ad47"/>
<rect x="305" y="243" width="9" height="12" fill="#ffff00"/>
<rect x="305" y="269" width="9" height="12" fill="#0070c0"/>
<rect x="305" y="282" width="9" height="12" fill="#ed7d31"/>
<rect x="305" y="295" width="9" height="11" fill="#7030a0"/>
<rect x="315" y="230" width="9" height="12" fill="#70ad47"/>
<rect x="315" y="243" width="9" height="12" fill="#ffff00"/>
<rect x="315" y="269" width="9" height="12" fill="#0070c0"/>
<rect x="315" y="282" width="9" height="12" fill="#ed7d31"/>
<rect x="315" y="295" width="9" height="11" fill="#7030a0"/>
<rect x="325" y="230" width="9" height="12" fill="#70ad47"/>
<rect x="325" y="243" width="9" height="12" fill="#ffff00"/>
<rect x="325" y="269" width="9" height="12" fill="#0070c0"/>
<rect x="325" y="282" width="9" height="12" fill="#ed7d31"/>
<rect x="325" y="295" width="9" height="11" fill="#7030a0"/>
<rect x="335" y="230" width="10" height="12" fill="#70ad47"/>
<rect x="335" y="243" width="10" height="12" fill="#ffff00"/>
<rect x="335" y="269" width="10" height="12" fill="#0070c0"/>
<rect x="335" y="282" width="10" height="12" fill="#ed7d31"/>
<rect x="335" y="295" width="10" height="11" fill="#7030a0"/>
<rect x="346" y="230" width="9" height="12" fill="#70ad47"/>
<rect x="346" y="243" width="9" height="12" fill="#ffff00"/>
<rect x="346" y="269" width="9" height="12" fill="#0070c0"/>
<rect x="346" y="282" width="9" height="12" fill="#ed7d31"/>
<rect x="346" y="295" width="9" height="11" fill="#7030a0"/>
<rect x="356" y="222" width="9" height="7" fill="#d9d9d9"/>
<rect x="356" y="230" width="9" height="12" fill="#d9d9d9"/>
<rect x="356" y="243" width="9" height="12" fill="#d9d9d9"/>
<rect x="356" y="256" width="9" height="12" fill="#d9d9d9"/>
<rect x="356" y="269" width="9" height="12" fill="#d9d9d9"/>
<rect x="356" y="282" width="9" height="12" fill="#d9d9d9"/>
<rect x="356" y="295" width="9" height="11" fill="#d9d9d9"/>
<rect x="366" y="222" width="9" height="7" fill="#d9d9d9"/>
<rect x="366" y="230" width="9" height="12" fill="#d9d9d9"/>
<rect x="366" y="243" width="9" height="12" fill="#d9d9d9"/>
<rect x="366" y="256" width="9" height="12" fill="#d9d9d9"/>
<rect x="366" y="269" width="9" height="12" fill="#d9d9d9"/>
<rect x="366" y="282" width="9" height="12" fill="#d9d9d9"/>
<rect x="366" y="295" width="9" height="11" fill="#d9d9d9"/>
<rect x="376" y="230" width="9" height="12" fill="#70ad47"/>
<rect x="376" y="243" width="9" height="12" fill="#ffff00"/>
<rect x="376" y="269" width="9" height="12" fill="#0070c0"/>
<rect x="376" y="282" width="9" height="12" fill="#ed7d31"/>
<rect x="376" y="295" width="9" height="11" fill="#7030a0"/>
<rect x="386" y="230" width="10" height="12" fill="#70ad47"/>
<rect x="386" y="243" width="10" height="12" fill="#ffff00"/>
<rect x="386" y="269" width="10" height="12" fill="#0070c0"/>
<rect x="386" y="282" width="10" height="12" fill="#ed7d31"/>
<rect x="386" y="295" width="10" height="11" fill="#7030a0"/>
<rect x="397" y="230" width="9" height="12" fill="#70ad47"/>
<rect x="397" y="243" width="9" height="12" fill="#ffff00"/>
<rect x="397" y="269" width="9" height="12" fill="#0070c0"/>
<rect x="397" y="282" width="9" height="12" fill="#ed7d31"/>
<rect x="397" y="295" width="9" height="11" fill="#7030a0"/>
<rect x="407" y="230" width="9" height="12" fill="#70ad47"/>
<rect x="407" y="243" width="9" height="12" fill="#ffff00"/>
<rect x="407" y="269" width="9" height="12" fill="#0070c0"/>
<rect x="407" y="282" width="9" height="12" fill="#ed7d31"/>
<rect x="407" y="295" width="9" height="11" fill="#7030a0"/>
<rect x="417" y="230" width="9" height="6" fill="#70ad47"/>
<rect x="417" y="236" width="9" height="1" fill="#c8c8c8"/>
<rect x="417" y="243" width="9" height="6" fill="#ffff00"/>
<rect x="417" y="249" width="9" height="1" fill="#3a3a3a"/>
<path d="M419.60 264.00 L421.50 260.50 L423.40 264.00 Z" fill="#000"/>
<rect x="417" y="269" width="9" height="6" fill="#0070c0"/>
<rect x="417" y="275" width="9" height="1" fill="#c8c8c8"/>
<rect x="417" y="282" width="9" height="12" fill="#ed7d31"/>
<rect x="417" y="295" width="9" height="11" fill="#7030a0"/>
<rect x="427" y="222" width="9" height="7" fill="#d9d9d9"/>
<rect x="427" y="230" width="9" height="12" fill="#d9d9d9"/>
<rect x="427" y="243" width="9" height="12" fill="#d9d9d9"/>
<rect x="427" y="256" width="9" height="12" fill="#d9d9d9"/>
<rect x="427" y="269" width="9" height="12" fill="#d9d9d9"/>
<rect x="427" y="282" width="9" height="12" fill="#d9d9d9"/>
<rect x="427" y="295" width="9" height="11" fill="#d9d9d9"/>
<rect x="437" y="222" width="10" height="7" fill="#d9d9d9"/>
<rect x="437" y="230" width="10" height="12" fill="#d9d9d9"/>
<rect x="437" y="243" width="10" height="12" fill="#d9d9d9"/>
<rect x="437" y="256" width="10" height="12" fill="#d9d9d9"/>
<rect x="437" y="269" width="10" height="12" fill="#d9d9d9"/>
<rect x="437" y="282" width="10" height="12" fill="#d9d9d9"/>
<rect x="437" y="295" width="10" height="11" fill="#d9d9d9"/>
<rect x="448" y="222" width="9" height="7" fill="#d9d9d9"/>
<rect x="448" y="230" width="9" height="12" fill="#808080"/>
<rect x="448" y="243" width="9" height="12" fill="#808080"/>
<rect x="448" y="256" width="9" height="12" fill="#808080"/>
<rect x="448" y="269" width="9" height="12" fill="#808080"/>
<rect x="448" y="282" width="9" height="12" fill="#808080"/>
<rect x="448" y="295" width="9" height="11" fill="#808080"/>
<rect x="458" y="230" width="9" height="12" fill="#70ad47"/>
<rect x="458" y="243" width="9" height="12" fill="#ffff00"/>
<rect x="458" y="256" width="9" height="12" fill="#ff0000"/>
<rect x="458" y="282" width="9" height="12" fill="#ed7d31"/>
<rect x="458" y="295" width="9" height="11" fill="#7030a0"/>
<rect x="468" y="230" width="9" height="12" fill="#70ad47"/>
<rect x="468" y="243" width="9" height="12" fill="#ffff00"/>
<rect x="468" y="256" width="9" height="12" fill="#ff0000"/>
<rect x="468" y="282" width="9" height="12" fill="#ed7d31"/>
<rect x="468" y="295" width="9" height="11" fill="#7030a0"/>
<rect x="478" y="230" width="10" height="12" fill="#70ad47"/>
<rect x="478" y="243" width="10" height="12" fill="#ffff00"/>
<rect x="478" y="256" width="10" height="12" fill="#ff0000"/>
<rect x="478" y="282" width="10" height="12" fill="#ed7d31"/>
<rect x="478" y="295" width="10" height="11" fill="#7030a0"/>
<rect x="489" y="230" width="9" height="12" fill="#70ad47"/>
<rect x="489" y="243" width="9" height="12" fill="#ffff00"/>
<rect x="489" y="256" width="9" height="12" fill="#ff0000"/>
<rect x="489" y="282" width="9" height="12" fill="#ed7d31"/>
<rect x="489" y="295" width="9" height="11" fill="#7030a0"/>
<rect x="499" y="222" width="9" height="7" fill="#d9d9d9"/>
<rect x="499" y="230" width="9" height="12" fill="#d9d9d9"/>
<rect x="499" y="243" width="9" height="12" fill="#d9d9d9"/>
<rect x="499" y="256" width="9" height="12" fill="#d9d9d9"/>
<rect x="499" y="269" width="9" height="12" fill="#d9d9d9"/>
<rect x="499" y="282" width="9" height="12" fill="#d9d9d9"/>
<rect x="499" y="295" width="9" height="11" fill="#d9d9d9"/>
<rect x="509" y="222" width="9" height="7" fill="#d9d9d9"/>
<rect x="509" y="230" width="9" height="12" fill="#d9d9d9"/>
<rect x="509" y="243" width="9" height="12" fill="#d9d9d9"/>
<rect x="509" y="256" width="9" height="12" fill="#d9d9d9"/>
<rect x="509" y="269" width="9" height="12" fill="#d9d9d9"/>
<rect x="509" y="282" width="9" height="12" fill="#d9d9d9"/>
<rect x="509" y="295" width="9" height="11" fill="#d9d9d9"/>
<rect x="519" y="222" width="9" height="7" fill="#d9d9d9"/>
<rect x="519" y="230" width="9" height="12" fill="#808080"/>
<rect x="519" y="243" width="9" height="12" fill="#808080"/>
<rect x="519" y="256" width="9" height="12" fill="#808080"/>
<rect x="519" y="269" width="9" height="12" fill="#808080"/>
<rect x="519" y="282" width="9" height="12" fill="#808080"/>
<rect x="519" y="295" width="9" height="11" fill="#808080"/>
<rect x="529" y="230" width="10" height="12" fill="#70ad47"/>
<rect x="529" y="243" width="10" height="12" fill="#ffff00"/>
<rect x="529" y="256" width="10" height="12" fill="#ff0000"/>
<rect x="529" y="282" width="10" height="12" fill="#ed7d31"/>
<rect x="529" y="295" width="10" height="11" fill="#7030a0"/>
<rect x="540" y="230" width="9" height="12" fill="#70ad47"/>
<rect x="540" y="243" width="9" height="12" fill="#ffff00"/>
<rect x="540" y="256" width="9" height="12" fill="#ff0000"/>
<rect x="540" y="282" width="9" height="12" fill="#ed7d31"/>
<rect x="540" y="295" width="9" height="11" fill="#7030a0"/>
<rect x="550" y="230" width="9" height="12" fill="#70ad47"/>
<rect x="550" y="243" width="9" height="12" fill="#ffff00"/>
<rect x="550" y="256" width="9" height="12" fill="#ff0000"/>
<rect x="550" y="282" width="9" height="12" fill="#ed7d31"/>
<rect x="550" y="295" width="9" height="11" fill="#7030a0"/>
<rect x="560" y="230" width="9" height="12" fill="#70ad47"/>
<rect x="560" y="243" width="9" height="12" fill="#ffff00"/>
<rect x="560" y="256" width="9" height="12" fill="#ff0000"/>
<rect x="560" y="282" width="9" height="12" fill="#ed7d31"/>
<rect x="560" y="295" width="9" height="11" fill="#7030a0"/>
<rect x="570" y="222" width="10" height="7" fill="#d9d9d9"/>
<rect x="570" y="230" width="10" height="12" fill="#d9d9d9"/>
<rect x="570" y="243" width="10" height="12" fill="#d9d9d9"/>
<rect x="570" y="256" width="10" height="12" fill="#d9d9d9"/>
<rect x="570" y="269" width="10" height="12" fill="#d9d9d9"/>
<rect x="570" y="282" width="10" height="12" fill="#d9d9d9"/>
<rect x="570" y="295" width="10" height="11" fill="#d9d9d9"/>
<rect x="581" y="222" width="9" height="7" fill="#d9d9d9"/>
<rect x="581" y="230" width="9" height="12" fill="#d9d9d9"/>
<rect x="581" y="243" width="9" height="12" fill="#d9d9d9"/>
<rect x="581" y="256" width="9" height="12" fill="#d9d9d9"/>
<rect x="581" y="269" width="9" height="12" fill="#d9d9d9"/>
<rect x="581" y="282" width="9" height="12" fill="#d9d9d9"/>
<rect x="581" y="295" width="9" height="11" fill="#d9d9d9"/>
<rect x="591" y="230" width="9" height="12" fill="#70ad47"/>
<rect x="591" y="243" width="9" height="12" fill="#ffff00"/>
<rect x="591" y="256" width="9" height="12" fill="#ff0000"/>
<rect x="591" y="282" width="9" height="6" fill="#ed7d31"/>
<rect x="591" y="288" width="9" height="1" fill="#c8c8c8"/>
<rect x="591" y="295" width="9" height="6" fill="#7030a0"/>
<rect x="591" y="301" width="9" height="1" fill="#c8c8c8"/>
<rect x="601" y="230" width="9" height="12" fill="#70ad47"/>
<rect x="601" y="243" width="9" height="12" fill="#ffff00"/>
<rect x="601" y="256" width="9" height="12" fill="#ff0000"/>
<rect x="601" y="282" width="9" height="12" fill="#ed7d31"/>
<rect x="601" y="295" width="9" height="11" fill="#7030a0"/>
<rect x="611" y="230" width="9" height="12" fill="#70ad47"/>
<rect x="611" y="243" width="9" height="12" fill="#ffff00"/>
<rect x="611" y="256" width="9" height="12" fill="#ff0000"/>
<rect x="611" y="282" width="9" height="12" fill="#ed7d31"/>
<rect x="611" y="295" width="9" height="11" fill="#7030a0"/>
<rect x="621" y="230" width="9" height="12" fill="#70ad47"/>
<rect x="621" y="243" width="9" height="12" fill="#ffff00"/>
<rect x="621" y="256" width="9" height="12" fill="#ff0000"/>
<rect x="621" y="282" width="9" height="12" fill="#ed7d31"/>
<rect x="621" y="295" width="9" height="11" fill="#7030a0"/>
<rect x="631" y="230" width="10" height="12" fill="#70ad47"/>
<rect x="631" y="243" width="10" height="12" fill="#ffff00"/>
<rect x="631" y="256" width="10" height="12" fill="#ff0000"/>
<rect x="631" y="282" width="10" height="12" fill="#ed7d31"/>
<rect x="631" y="295" width="10" height="11" fill="#7030a0"/>
<rect x="642" y="222" width="9" height="7" fill="#d9d9d9"/>
<rect x="642" y="230" width="9" height="12" fill="#d9d9d9"/>
<rect x="642" y="243" width="9" height="12" fill="#d9d9d9"/>
<rect x="642" y="256" width="9" height="12" fill="#d9d9d9"/>
<rect x="642" y="269" width="9" height="12" fill="#d9d9d9"/>
<rect x="642" y="282" width="9" height="12" fill="#d9d9d9"/>
<rect x="642" y="295" width="9" height="11" fill="#d9d9d9"/>
<rect x="652" y="222" width="9" height="7" fill="#d9d9d9"/>
<rect x="652" y="230" width="9" height="12" fill="#d9d9d9"/>
<rect x="652" y="243" width="9" height="12" fill="#d9d9d9"/>
<rect x="652" y="256" width="9" height="12" fill="#d9d9d9"/>
<rect x="652" y="269" width="9" height="12" fill="#d9d9d9"/>
<rect x="652" y="282" width="9" height="12" fill="#d9d9d9"/>
<rect x="652" y="295" width="9" height="11" fill="#d9d9d9"/>
<rect x="662" y="230" width="11" height="12" fill="#70ad47"/>
<rect x="662" y="243" width="11" height="12" fill="#ffff00"/>
<rect x="662" y="256" width="11" height="12" fill="#ff0000"/>
<rect x="662" y="282" width="11" height="12" fill="#ed7d31"/>
<rect x="662" y="295" width="11" height="11" fill="#7030a0"/>
<rect x="674" y="230" width="9" height="12" fill="#70ad47"/>
<rect x="674" y="243" width="9" height="12" fill="#ffff00"/>
<rect x="674" y="256" width="9" height="12" fill="#ff0000"/>
<rect x="674" y="282" width="9" height="12" fill="#ed7d31"/>
<rect x="674" y="295" width="9" height="11" fill="#7030a0"/>
<rect x="684" y="230" width="9" height="12" fill="#70ad47"/>
<rect x="684" y="243" width="9" height="12" fill="#ffff00"/>
<rect x="684" y="256" width="9" height="12" fill="#ff0000"/>
<rect x="684" y="282" width="9" height="12" fill="#ed7d31"/>
<rect x="684" y="295" width="9" height="11" fill="#7030a0"/>
<rect x="694" y="230" width="9" height="12" fill="#70ad47"/>
<rect x="694" y="243" width="9" height="12" fill="#ffff00"/>
<rect x="694" y="256" width="9" height="12" fill="#ff0000"/>
<rect x="694" y="282" width="9" height="12" fill="#ed7d31"/>
<rect x="694" y="295" width="9" height="11" fill="#7030a0"/>
<rect x="704" y="230" width="9" height="6" fill="#70ad47"/>
<rect x="704" y="236" width="9" height="1" fill="#c8c8c8"/>
<rect x="704" y="243" width="9" height="6" fill="#ffff00"/>
<rect x="704" y="249" width="9" height="1" fill="#3a3a3a"/>
<rect x="704" y="256" width="9" height="6" fill="#ff0000"/>
<rect x="704" y="262" width="9" height="1" fill="#c8c8c8"/>
<path d="M706.60 277.00 L708.50 273.50 L710.40 277.00 Z" fill="#000"/>
<rect x="704" y="282" width="9" height="12" fill="#ed7d31"/>
<rect x="704" y="295" width="9" height="11" fill="#7030a0"/>
<rect x="714" y="222" width="10" height="7" fill="#d9d9d9"/>
<rect x="714" y="230" width="10" height="12" fill="#d9d9d9"/>
<rect x="714" y="243" width="10" height="12" fill="#d9d9d9"/>
<rect x="714" y="256" width="10" height="12" fill="#d9d9d9"/>
<rect x="714" y="269" width="10" height="12" fill="#d9d9d9"/>
<rect x="714" y="282" width="10" height="12" fill="#d9d9d9"/>
<rect x="714" y="295" width="10" height="11" fill="#d9d9d9"/>
<rect x="725" y="222" width="9" height="7" fill="#d9d9d9"/>
<rect x="725" y="230" width="9" height="12" fill="#d9d9d9"/>
<rect x="725" y="243" width="9" height="12" fill="#d9d9d9"/>
<rect x="725" y="256" width="9" height="12" fill="#d9d9d9"/>
<rect x="725" y="269" width="9" height="12" fill="#d9d9d9"/>
<rect x="725" y="282" width="9" height="12" fill="#d9d9d9"/>
<rect x="725" y="295" width="9" height="11" fill="#d9d9d9"/>
<rect x="735" y="243" width="9" height="12" fill="#ffff00"/>
<rect x="735" y="256" width="9" height="12" fill="#ff0000"/>
<rect x="735" y="269" width="9" height="12" fill="#0070c0"/>
<rect x="735" y="282" width="9" height="6" fill="#ed7d31"/>
<rect x="735" y="288" width="9" height="1" fill="#c8c8c8"/>
<rect x="735" y="295" width="9" height="6" fill="#7030a0"/>
<rect x="735" y="301" width="9" height="1" fill="#c8c8c8"/>
<rect x="745" y="243" width="9" height="12" fill="#ffff00"/>
<rect x="745" y="256" width="9" height="12" fill="#ff0000"/>
<rect x="745" y="269" width="9" height="12" fill="#0070c0"/>
<rect x="745" y="282" width="9" height="6" fill="#ed7d31"/>
<rect x="745" y="288" width="9" height="1" fill="#c8c8c8"/>
<rect x="745" y="295" width="9" height="6" fill="#7030a0"/>
<rect x="745" y="301" width="9" height="1" fill="#c8c8c8"/>
<rect x="755" y="243" width="9" height="12" fill="#ffff00"/>
<rect x="755" y="256" width="9" height="12" fill="#ff0000"/>
<rect x="755" y="269" width="9" height="12" fill="#0070c0"/>
<rect x="755" y="282" width="9" height="6" fill="#ed7d31"/>
<rect x="755" y="288" width="9" height="1" fill="#c8c8c8"/>
<rect x="755" y="295" width="9" height="6" fill="#7030a0"/>
<rect x="755" y="301" width="9" height="1" fill="#c8c8c8"/>
<rect x="765" y="243" width="10" height="12" fill="#ffff00"/>
<rect x="765" y="256" width="10" height="12" fill="#ff0000"/>
<rect x="765" y="269" width="10" height="12" fill="#0070c0"/>
<rect x="765" y="282" width="10" height="6" fill="#ed7d31"/>
<rect x="765" y="288" width="10" height="1" fill="#c8c8c8"/>
<rect x="765" y="295" width="10" height="6" fill="#7030a0"/>
<rect x="765" y="301" width="10" height="1" fill="#c8c8c8"/>
<rect x="776" y="243" width="9" height="12" fill="#ffff00"/>
<rect x="776" y="256" width="9" height="12" fill="#ff0000"/>
<rect x="776" y="269" width="9" height="12" fill="#0070c0"/>
<rect x="776" y="282" width="9" height="6" fill="#ed7d31"/>
<rect x="776" y="288" width="9" height="1" fill="#c8c8c8"/>
<rect x="776" y="295" width="9" height="6" fill="#7030a0"/>
<rect x="776" y="301" width="9" height="1" fill="#c8c8c8"/>
<rect x="786" y="222" width="9" height="7" fill="#d9d9d9"/>
<rect x="786" y="230" width="9" height="12" fill="#d9d9d9"/>
<rect x="786" y="243" width="9" height="12" fill="#d9d9d9"/>
<rect x="786" y="256" width="9" height="12" fill="#d9d9d9"/>
<rect x="786" y="269" width="9" height="12" fill="#d9d9d9"/>
<rect x="786" y="282" width="9" height="12" fill="#d9d9d9"/>
<rect x="786" y="295" width="9" height="11" fill="#d9d9d9"/>
<rect x="796" y="222" width="11" height="7" fill="#d9d9d9"/>
<rect x="796" y="230" width="11" height="12" fill="#d9d9d9"/>
<rect x="796" y="243" width="11" height="12" fill="#d9d9d9"/>
<rect x="796" y="256" width="11" height="12" fill="#d9d9d9"/>
<rect x="796" y="269" width="11" height="12" fill="#d9d9d9"/>
<rect x="796" y="282" width="11" height="12" fill="#d9d9d9"/>
<rect x="796" y="295" width="11" height="11" fill="#d9d9d9"/>
<rect x="808" y="243" width="9" height="12" fill="#ffff00"/>
<rect x="808" y="256" width="9" height="12" fill="#ff0000"/>
<rect x="808" y="269" width="9" height="12" fill="#0070c0"/>
<rect x="808" y="282" width="9" height="12" fill="#808080"/>
<rect x="808" y="295" width="9" height="11" fill="#808080"/>
<rect x="818" y="243" width="9" height="12" fill="#ffff00"/>
<rect x="818" y="256" width="9" height="12" fill="#ff0000"/>
<rect x="818" y="269" width="9" height="12" fill="#0070c0"/>
<rect x="818" y="282" width="9" height="12" fill="#808080"/>
<rect x="818" y="295" width="9" height="11" fill="#808080"/>
<rect x="828" y="243" width="10" height="12" fill="#ffff00"/>
<rect x="828" y="256" width="10" height="12" fill="#ff0000"/>
<rect x="828" y="269" width="10" height="12" fill="#0070c0"/>
<rect x="828" y="282" width="10" height="12" fill="#808080"/>
<rect x="828" y="295" width="10" height="11" fill="#808080"/>
<rect x="839" y="243" width="9" height="12" fill="#ffff00"/>
<rect x="839" y="256" width="9" height="12" fill="#ff0000"/>
<rect x="839" y="269" width="9" height="12" fill="#0070c0"/>
<rect x="839" y="282" width="9" height="12" fill="#808080"/>
<rect x="839" y="295" width="9" height="11" fill="#808080"/>
<rect x="849" y="243" width="9" height="12" fill="#ffff00"/>
<rect x="849" y="256" width="9" height="12" fill="#ff0000"/>
<rect x="849" y="269" width="9" height="12" fill="#0070c0"/>
<rect x="849" y="282" width="9" height="12" fill="#808080"/>
<rect x="849" y="295" width="9" height="11" fill="#808080"/>
<rect x="859" y="222" width="9" height="7" fill="#d9d9d9"/>
<rect x="859" y="230" width="9" height="12" fill="#d9d9d9"/>
<rect x="859" y="243" width="9" height="12" fill="#d9d9d9"/>
<rect x="859" y="256" width="9" height="12" fill="#d9d9d9"/>
<rect x="859" y="269" width="9" height="12" fill="#d9d9d9"/>
<rect x="859" y="282" width="9" height="12" fill="#d9d9d9"/>
<rect x="859" y="295" width="9" height="11" fill="#d9d9d9"/>
<rect x="869" y="222" width="10" height="7" fill="#d9d9d9"/>
<rect x="869" y="230" width="10" height="12" fill="#d9d9d9"/>
<rect x="869" y="243" width="10" height="12" fill="#d9d9d9"/>
<rect x="869" y="256" width="10" height="12" fill="#d9d9d9"/>
<rect x="869" y="269" width="10" height="12" fill="#d9d9d9"/>
<rect x="869" y="282" width="10" height="12" fill="#d9d9d9"/>
<rect x="869" y="295" width="10" height="11" fill="#d9d9d9"/>
<rect x="880" y="243" width="9" height="12" fill="#ffff00"/>
<rect x="880" y="256" width="9" height="12" fill="#ff0000"/>
<rect x="880" y="269" width="9" height="12" fill="#0070c0"/>
<rect x="880" y="282" width="9" height="12" fill="#808080"/>
<rect x="880" y="295" width="9" height="11" fill="#7030a0"/>
<rect x="890" y="243" width="9" height="12" fill="#ffff00"/>
<rect x="890" y="256" width="9" height="12" fill="#ff0000"/>
<rect x="890" y="269" width="9" height="12" fill="#0070c0"/>
<rect x="890" y="282" width="9" height="12" fill="#808080"/>
<rect x="890" y="295" width="9" height="11" fill="#7030a0"/>
<rect x="900" y="243" width="9" height="12" fill="#ffff00"/>
<rect x="900" y="256" width="9" height="12" fill="#ff0000"/>
<rect x="900" y="269" width="9" height="12" fill="#0070c0"/>
<rect x="900" y="282" width="9" height="12" fill="#808080"/>
<rect x="900" y="295" width="9" height="11" fill="#7030a0"/>
<rect x="910" y="243" width="10" height="12" fill="#ffff00"/>
<rect x="910" y="256" width="10" height="12" fill="#ff0000"/>
<rect x="910" y="269" width="10" height="12" fill="#0070c0"/>
<rect x="910" y="282" width="10" height="12" fill="#808080"/>
<rect x="910" y="295" width="10" height="11" fill="#7030a0"/>
<rect x="921" y="243" width="9" height="12" fill="#ffff00"/>
<rect x="921" y="256" width="9" height="12" fill="#ff0000"/>
<rect x="921" y="269" width="9" height="12" fill="#0070c0"/>
<rect x="921" y="282" width="9" height="12" fill="#808080"/>
<rect x="921" y="295" width="9" height="11" fill="#7030a0"/>
<rect x="931" y="222" width="9" height="7" fill="#d9d9d9"/>
<rect x="931" y="230" width="9" height="12" fill="#d9d9d9"/>
<rect x="931" y="243" width="9" height="12" fill="#d9d9d9"/>
<rect x="931" y="256" width="9" height="12" fill="#d9d9d9"/>
<rect x="931" y="269" width="9" height="12" fill="#d9d9d9"/>
<rect x="931" y="282" width="9" height="12" fill="#d9d9d9"/>
<rect x="931" y="295" width="9" height="11" fill="#d9d9d9"/>
<rect x="941" y="222" width="9" height="7" fill="#d9d9d9"/>
<rect x="941" y="230" width="9" height="12" fill="#d9d9d9"/>
<rect x="941" y="243" width="9" height="12" fill="#d9d9d9"/>
<rect x="941" y="256" width="9" height="12" fill="#d9d9d9"/>
<rect x="941" y="269" width="9" height="12" fill="#d9d9d9"/>
<rect x="941" y="282" width="9" height="12" fill="#d9d9d9"/>
<rect x="941" y="295" width="9" height="11" fill="#d9d9d9"/>
<rect x="951" y="243" width="9" height="12" fill="#ffff00"/>
<rect x="951" y="256" width="9" height="12" fill="#ff0000"/>
<rect x="951" y="269" width="9" height="12" fill="#0070c0"/>
<rect x="951" y="282" width="9" height="12" fill="#ed7d31"/>
<rect x="951" y="295" width="9" height="11" fill="#7030a0"/>
<rect x="961" y="243" width="9" height="12" fill="#ffff00"/>
<rect x="961" y="256" width="9" height="12" fill="#ff0000"/>
<rect x="961" y="269" width="9" height="12" fill="#0070c0"/>
<rect x="961" y="282" width="9" height="12" fill="#ed7d31"/>
<rect x="961" y="295" width="9" height="11" fill="#7030a0"/>
<rect x="49" y="221" width="1" height="86" fill="#262626"/>
<rect x="59" y="221" width="1" height="86" fill="#262626"/>
<rect x="69" y="221" width="1" height="86" fill="#262626"/>
<rect x="79" y="221" width="1" height="86" fill="#262626"/>
<rect x="90" y="221" width="1" height="86" fill="#262626"/>
<rect x="100" y="221" width="1" height="86" fill="#262626"/>
<rect x="110" y="221" width="1" height="86" fill="#262626"/>
<rect x="120" y="221" width="1" height="86" fill="#262626"/>
<rect x="130" y="221" width="1" height="86" fill="#262626"/>
<rect x="141" y="221" width="1" height="86" fill="#262626"/>
<rect x="151" y="221" width="1" height="86" fill="#262626"/>
<rect x="161" y="221" width="1" height="86" fill="#262626"/>
<rect x="171" y="221" width="1" height="86" fill="#262626"/>
<rect x="181" y="221" width="1" height="86" fill="#262626"/>
<rect x="192" y="221" width="1" height="86" fill="#262626"/>
<rect x="202" y="221" width="1" height="86" fill="#262626"/>
<rect x="212" y="221" width="1" height="86" fill="#262626"/>
<rect x="222" y="221" width="1" height="86" fill="#262626"/>
<rect x="232" y="221" width="1" height="86" fill="#262626"/>
<rect x="243" y="221" width="1" height="86" fill="#262626"/>
<rect x="253" y="221" width="1" height="86" fill="#262626"/>
<rect x="263" y="221" width="1" height="86" fill="#262626"/>
<rect x="273" y="221" width="1" height="86" fill="#262626"/>
<rect x="284" y="221" width="1" height="86" fill="#262626"/>
<rect x="294" y="221" width="1" height="86" fill="#262626"/>
<rect x="304" y="221" width="1" height="86" fill="#262626"/>
<rect x="314" y="221" width="1" height="86" fill="#262626"/>
<rect x="324" y="221" width="1" height="86" fill="#262626"/>
<rect x="334" y="221" width="1" height="86" fill="#262626"/>
<rect x="345" y="221" width="1" height="86" fill="#262626"/>
<rect x="355" y="221" width="1" height="86" fill="#262626"/>
<rect x="365" y="221" width="1" height="86" fill="#262626"/>
<rect x="375" y="221" width="1" height="86" fill="#262626"/>
<rect x="385" y="221" width="1" height="86" fill="#262626"/>
<rect x="396" y="221" width="1" height="86" fill="#262626"/>
<rect x="406" y="221" width="1" height="86" fill="#262626"/>
<rect x="416" y="221" width="1" height="86" fill="#262626"/>
<rect x="426" y="221" width="1" height="86" fill="#262626"/>
<rect x="436" y="221" width="1" height="86" fill="#262626"/>
<rect x="447" y="221" width="1" height="86" fill="#262626"/>
<rect x="457" y="221" width="1" height="86" fill="#262626"/>
<rect x="467" y="221" width="1" height="86" fill="#262626"/>
<rect x="477" y="221" width="1" height="86" fill="#262626"/>
<rect x="488" y="221" width="1" height="86" fill="#262626"/>
<rect x="498" y="221" width="1" height="86" fill="#262626"/>
<rect x="508" y="221" width="1" height="86" fill="#262626"/>
<rect x="518" y="221" width="1" height="86" fill="#262626"/>
<rect x="528" y="221" width="1" height="86" fill="#262626"/>
<rect x="539" y="221" width="1" height="86" fill="#262626"/>
<rect x="549" y="221" width="1" height="86" fill="#262626"/>
<rect x="559" y="221" width="1" height="86" fill="#262626"/>
<rect x="569" y="221" width="1" height="86" fill="#262626"/>
<rect x="580" y="221" width="1" height="86" fill="#262626"/>
<rect x="590" y="221" width="1" height="86" fill="#262626"/>
<rect x="600" y="221" width="1" height="86" fill="#262626"/>
<rect x="610" y="221" width="1" height="86" fill="#262626"/>
<rect x="620" y="221" width="1" height="86" fill="#262626"/>
<rect x="630" y="221" width="1" height="86" fill="#262626"/>
<rect x="641" y="221" width="1" height="86" fill="#262626"/>
<rect x="651" y="221" width="1" height="86" fill="#262626"/>
<rect x="661" y="221" width="1" height="86" fill="#262626"/>
<rect x="673" y="221" width="1" height="86" fill="#262626"/>
<rect x="683" y="221" width="1" height="86" fill="#262626"/>
<rect x="693" y="221" width="1" height="86" fill="#262626"/>
<rect x="703" y="221" width="1" height="86" fill="#262626"/>
<rect x="713" y="221" width="1" height="86" fill="#262626"/>
<rect x="724" y="221" width="1" height="86" fill="#262626"/>
<rect x="734" y="221" width="1" height="86" fill="#262626"/>
<rect x="744" y="221" width="1" height="86" fill="#262626"/>
<rect x="754" y="221" width="1" height="86" fill="#262626"/>
<rect x="764" y="221" width="1" height="86" fill="#262626"/>
<rect x="775" y="221" width="1" height="86" fill="#262626"/>
<rect x="785" y="221" width="1" height="86" fill="#262626"/>
<rect x="795" y="221" width="1" height="86" fill="#262626"/>
<rect x="807" y="221" width="1" height="86" fill="#262626"/>
<rect x="817" y="221" width="1" height="86" fill="#262626"/>
<rect x="827" y="221" width="1" height="86" fill="#262626"/>
<rect x="838" y="221" width="1" height="86" fill="#262626"/>
<rect x="848" y="221" width="1" height="86" fill="#262626"/>
<rect x="858" y="221" width="1" height="86" fill="#262626"/>
<rect x="868" y="221" width="1" height="86" fill="#262626"/>
<rect x="879" y="221" width="1" height="86" fill="#262626"/>
<rect x="889" y="221" width="1" height="86" fill="#262626"/>
<rect x="899" y="221" width="1" height="86" fill="#262626"/>
<rect x="909" y="221" width="1" height="86" fill="#262626"/>
<rect x="920" y="221" width="1" height="86" fill="#262626"/>
<rect x="930" y="221" width="1" height="86" fill="#262626"/>
<rect x="940" y="221" width="1" height="86" fill="#262626"/>
<rect x="950" y="221" width="1" height="86" fill="#262626"/>
<rect x="960" y="221" width="1" height="86" fill="#262626"/>
<rect x="970" y="221" width="1" height="86" fill="#262626"/>
<rect x="49" y="242" width="922" height="1" fill="#262626"/>
<rect x="49" y="255" width="922" height="1" fill="#262626"/>
<rect x="49" y="268" width="922" height="1" fill="#262626"/>
<rect x="49" y="281" width="922" height="1" fill="#262626"/>
<rect x="49" y="294" width="922" height="1" fill="#262626"/>
<rect x="49" y="306" width="922" height="1" fill="#262626"/>
<rect x="49" y="221" width="922" height="1" fill="#5a5a5a"/>
<rect x="49" y="229" width="922" height="1" fill="#858585"/>
<rect x="49" y="229" width="1" height="1" fill="#333"/>
<rect x="59" y="229" width="1" height="1" fill="#333"/>
<rect x="69" y="229" width="1" height="1" fill="#333"/>
<rect x="79" y="229" width="1" height="1" fill="#333"/>
<rect x="90" y="229" width="1" height="1" fill="#333"/>
<rect x="100" y="229" width="1" height="1" fill="#333"/>
<rect x="110" y="229" width="1" height="1" fill="#333"/>
<rect x="120" y="229" width="1" height="1" fill="#333"/>
<rect x="130" y="229" width="1" height="1" fill="#333"/>
<rect x="141" y="229" width="1" height="1" fill="#333"/>
<rect x="151" y="229" width="1" height="1" fill="#333"/>
<rect x="161" y="229" width="1" height="1" fill="#333"/>
<rect x="171" y="229" width="1" height="1" fill="#333"/>
<rect x="181" y="229" width="1" height="1" fill="#333"/>
<rect x="192" y="229" width="1" height="1" fill="#333"/>
<rect x="202" y="229" width="1" height="1" fill="#333"/>
<rect x="212" y="229" width="1" height="1" fill="#333"/>
<rect x="222" y="229" width="1" height="1" fill="#333"/>
<rect x="232" y="229" width="1" height="1" fill="#333"/>
<rect x="243" y="229" width="1" height="1" fill="#333"/>
<rect x="253" y="229" width="1" height="1" fill="#333"/>
<rect x="263" y="229" width="1" height="1" fill="#333"/>
<rect x="273" y="229" width="1" height="1" fill="#333"/>
<rect x="284" y="229" width="1" height="1" fill="#333"/>
<rect x="294" y="229" width="1" height="1" fill="#333"/>
<rect x="304" y="229" width="1" height="1" fill="#333"/>
<rect x="314" y="229" width="1" height="1" fill="#333"/>
<rect x="324" y="229" width="1" height="1" fill="#333"/>
<rect x="334" y="229" width="1" height="1" fill="#333"/>
<rect x="345" y="229" width="1" height="1" fill="#333"/>
<rect x="355" y="229" width="1" height="1" fill="#333"/>
<rect x="365" y="229" width="1" height="1" fill="#333"/>
<rect x="375" y="229" width="1" height="1" fill="#333"/>
<rect x="385" y="229" width="1" height="1" fill="#333"/>
<rect x="396" y="229" width="1" height="1" fill="#333"/>
<rect x="406" y="229" width="1" height="1" fill="#333"/>
<rect x="416" y="229" width="1" height="1" fill="#333"/>
<rect x="426" y="229" width="1" height="1" fill="#333"/>
<rect x="436" y="229" width="1" height="1" fill="#333"/>
<rect x="447" y="229" width="1" height="1" fill="#333"/>
<rect x="457" y="229" width="1" height="1" fill="#333"/>
<rect x="467" y="229" width="1" height="1" fill="#333"/>
<rect x="477" y="229" width="1" height="1" fill="#333"/>
<rect x="488" y="229" width="1" height="1" fill="#333"/>
<rect x="498" y="229" width="1" height="1" fill="#333"/>
<rect x="508" y="229" width="1" height="1" fill="#333"/>
<rect x="518" y="229" width="1" height="1" fill="#333"/>
<rect x="528" y="229" width="1" height="1" fill="#333"/>
<rect x="539" y="229" width="1" height="1" fill="#333"/>
<rect x="549" y="229" width="1" height="1" fill="#333"/>
<rect x="559" y="229" width="1" height="1" fill="#333"/>
<rect x="569" y="229" width="1" height="1" fill="#333"/>
<rect x="580" y="229" width="1" height="1" fill="#333"/>
<rect x="590" y="229" width="1" height="1" fill="#333"/>
<rect x="600" y="229" width="1" height="1" fill="#333"/>
<rect x="610" y="229" width="1" height="1" fill="#333"/>
<rect x="620" y="229" width="1" height="1" fill="#333"/>
<rect x="630" y="229" width="1" height="1" fill="#333"/>
<rect x="641" y="229" width="1" height="1" fill="#333"/>
<rect x="651" y="229" width="1" height="1" fill="#333"/>
<rect x="661" y="229" width="1" height="1" fill="#333"/>
<rect x="673" y="229" width="1" height="1" fill="#333"/>
<rect x="683" y="229" width="1" height="1" fill="#333"/>
<rect x="693" y="229" width="1" height="1" fill="#333"/>
<rect x="703" y="229" width="1" height="1" fill="#333"/>
<rect x="713" y="229" width="1" height="1" fill="#333"/>
<rect x="724" y="229" width="1" height="1" fill="#333"/>
<rect x="734" y="229" width="1" height="1" fill="#333"/>
<rect x="744" y="229" width="1" height="1" fill="#333"/>
<rect x="754" y="229" width="1" height="1" fill="#333"/>
<rect x="764" y="229" width="1" height="1" fill="#333"/>
<rect x="775" y="229" width="1" height="1" fill="#333"/>
<rect x="785" y="229" width="1" height="1" fill="#333"/>
<rect x="795" y="229" width="1" height="1" fill="#333"/>
<rect x="807" y="229" width="1" height="1" fill="#333"/>
<rect x="817" y="229" width="1" height="1" fill="#333"/>
<rect x="827" y="229" width="1" height="1" fill="#333"/>
<rect x="838" y="229" width="1" height="1" fill="#333"/>
<rect x="848" y="229" width="1" height="1" fill="#333"/>
<rect x="858" y="229" width="1" height="1" fill="#333"/>
<rect x="868" y="229" width="1" height="1" fill="#333"/>
<rect x="879" y="229" width="1" height="1" fill="#333"/>
<rect x="889" y="229" width="1" height="1" fill="#333"/>
<rect x="899" y="229" width="1" height="1" fill="#333"/>
<rect x="909" y="229" width="1" height="1" fill="#333"/>
<rect x="920" y="229" width="1" height="1" fill="#333"/>
<rect x="930" y="229" width="1" height="1" fill="#333"/>
<rect x="940" y="229" width="1" height="1" fill="#333"/>
<rect x="950" y="229" width="1" height="1" fill="#333"/>
<rect x="960" y="229" width="1" height="1" fill="#333"/>
<rect x="970" y="229" width="1" height="1" fill="#333"/>
<rect x="365" y="213" width="1" height="8" fill="#262626"/>
<rect x="651" y="213" width="1" height="8" fill="#262626"/>
<rect x="39" y="213" width="953" height="1" fill="#4a4a4a"/>
<rect x="39" y="213" width="1" height="94" fill="#7a7a7a"/>
<rect x="39" y="306" width="943" height="1" fill="#4a4a4a"/>
<rect x="991" y="213" width="1" height="9" fill="#4a4a4a"/>
<rect x="981" y="221" width="1" height="86" fill="#9a9a9a"/>
<rect x="39.3" y="313" width="952" height="93" fill="#fff"/>
<rect x="50" y="343" width="9" height="12" fill="#ffff00"/>
<rect x="50" y="356" width="9" height="12" fill="#ff0000"/>
<rect x="50" y="369" width="9" height="12" fill="#0070c0"/>
<rect x="50" y="382" width="9" height="12" fill="#ed7d31"/>
<rect x="50" y="395" width="9" height="11" fill="#7030a0"/>
<rect x="60" y="343" width="9" height="12" fill="#ffff00"/>
<rect x="60" y="356" width="9" height="12" fill="#ff0000"/>
<rect x="60" y="369" width="9" height="12" fill="#0070c0"/>
<rect x="60" y="382" width="9" height="12" fill="#ed7d31"/>
<rect x="60" y="395" width="9" height="11" fill="#7030a0"/>
<path d="M72.60 338.00 L74.50 334.50 L76.40 338.00 Z" fill="#000"/>
<rect x="70" y="343" width="9" height="6" fill="#ffff00"/>
<rect x="70" y="349" width="9" height="1" fill="#3a3a3a"/>
<rect x="70" y="356" width="9" height="6" fill="#ff0000"/>
<rect x="70" y="362" width="9" height="1" fill="#c8c8c8"/>
<rect x="70" y="369" width="9" height="6" fill="#0070c0"/>
<rect x="70" y="375" width="9" height="1" fill="#c8c8c8"/>
<rect x="70" y="382" width="9" height="12" fill="#ed7d31"/>
<rect x="70" y="395" width="9" height="11" fill="#7030a0"/>
<rect x="80" y="322" width="10" height="7" fill="#d9d9d9"/>
<rect x="80" y="330" width="10" height="12" fill="#d9d9d9"/>
<rect x="80" y="343" width="10" height="12" fill="#d9d9d9"/>
<rect x="80" y="356" width="10" height="12" fill="#d9d9d9"/>
<rect x="80" y="369" width="10" height="12" fill="#d9d9d9"/>
<rect x="80" y="382" width="10" height="12" fill="#d9d9d9"/>
<rect x="80" y="395" width="10" height="11" fill="#d9d9d9"/>
<rect x="91" y="322" width="9" height="7" fill="#d9d9d9"/>
<rect x="91" y="330" width="9" height="12" fill="#d9d9d9"/>
<rect x="91" y="343" width="9" height="12" fill="#d9d9d9"/>
<rect x="91" y="356" width="9" height="12" fill="#d9d9d9"/>
<rect x="91" y="369" width="9" height="12" fill="#d9d9d9"/>
<rect x="91" y="382" width="9" height="12" fill="#d9d9d9"/>
<rect x="91" y="395" width="9" height="11" fill="#d9d9d9"/>
<rect x="101" y="330" width="9" height="12" fill="#70ad47"/>
<rect x="101" y="356" width="9" height="12" fill="#ff0000"/>
<rect x="101" y="369" width="9" height="12" fill="#0070c0"/>
<rect x="101" y="382" width="9" height="12" fill="#ed7d31"/>
<rect x="101" y="395" width="9" height="11" fill="#7030a0"/>
<rect x="111" y="330" width="9" height="12" fill="#70ad47"/>
<rect x="111" y="356" width="9" height="12" fill="#ff0000"/>
<rect x="111" y="369" width="9" height="12" fill="#0070c0"/>
<rect x="111" y="382" width="9" height="12" fill="#ed7d31"/>
<rect x="111" y="395" width="9" height="11" fill="#7030a0"/>
<rect x="121" y="330" width="9" height="12" fill="#70ad47"/>
<rect x="121" y="356" width="9" height="12" fill="#ff0000"/>
<rect x="121" y="369" width="9" height="12" fill="#0070c0"/>
<rect x="121" y="382" width="9" height="12" fill="#ed7d31"/>
<rect x="121" y="395" width="9" height="11" fill="#7030a0"/>
<rect x="131" y="330" width="10" height="12" fill="#70ad47"/>
<rect x="131" y="356" width="10" height="12" fill="#ff0000"/>
<rect x="131" y="369" width="10" height="12" fill="#0070c0"/>
<rect x="131" y="382" width="10" height="12" fill="#ed7d31"/>
<rect x="131" y="395" width="10" height="11" fill="#7030a0"/>
<rect x="142" y="330" width="9" height="12" fill="#70ad47"/>
<rect x="142" y="356" width="9" height="12" fill="#ff0000"/>
<rect x="142" y="369" width="9" height="12" fill="#0070c0"/>
<rect x="142" y="382" width="9" height="12" fill="#ed7d31"/>
<rect x="142" y="395" width="9" height="11" fill="#7030a0"/>
<rect x="152" y="322" width="9" height="7" fill="#d9d9d9"/>
<rect x="152" y="330" width="9" height="12" fill="#d9d9d9"/>
<rect x="152" y="343" width="9" height="12" fill="#d9d9d9"/>
<rect x="152" y="356" width="9" height="12" fill="#d9d9d9"/>
<rect x="152" y="369" width="9" height="12" fill="#d9d9d9"/>
<rect x="152" y="382" width="9" height="12" fill="#d9d9d9"/>
<rect x="152" y="395" width="9" height="11" fill="#d9d9d9"/>
<rect x="162" y="322" width="9" height="7" fill="#d9d9d9"/>
<rect x="162" y="330" width="9" height="12" fill="#d9d9d9"/>
<rect x="162" y="343" width="9" height="12" fill="#d9d9d9"/>
<rect x="162" y="356" width="9" height="12" fill="#d9d9d9"/>
<rect x="162" y="369" width="9" height="12" fill="#d9d9d9"/>
<rect x="162" y="382" width="9" height="12" fill="#d9d9d9"/>
<rect x="162" y="395" width="9" height="11" fill="#d9d9d9"/>
<rect x="172" y="330" width="9" height="12" fill="#70ad47"/>
<rect x="172" y="356" width="9" height="12" fill="#ff0000"/>
<rect x="172" y="369" width="9" height="12" fill="#0070c0"/>
<rect x="172" y="382" width="9" height="12" fill="#ed7d31"/>
<rect x="172" y="395" width="9" height="11" fill="#7030a0"/>
<rect x="182" y="330" width="10" height="12" fill="#70ad47"/>
<rect x="182" y="356" width="10" height="12" fill="#ff0000"/>
<rect x="182" y="369" width="10" height="12" fill="#0070c0"/>
<rect x="182" y="382" width="10" height="12" fill="#ed7d31"/>
<rect x="182" y="395" width="10" height="11" fill="#7030a0"/>
<rect x="193" y="330" width="9" height="12" fill="#70ad47"/>
<rect x="193" y="356" width="9" height="12" fill="#ff0000"/>
<rect x="193" y="369" width="9" height="12" fill="#0070c0"/>
<rect x="193" y="382" width="9" height="12" fill="#ed7d31"/>
<rect x="193" y="395" width="9" height="11" fill="#7030a0"/>
<rect x="203" y="330" width="9" height="12" fill="#70ad47"/>
<rect x="203" y="356" width="9" height="12" fill="#ff0000"/>
<rect x="203" y="369" width="9" height="12" fill="#0070c0"/>
<rect x="203" y="382" width="9" height="12" fill="#ed7d31"/>
<rect x="203" y="395" width="9" height="11" fill="#7030a0"/>
<rect x="213" y="330" width="9" height="12" fill="#70ad47"/>
<rect x="213" y="356" width="9" height="12" fill="#ff0000"/>
<rect x="213" y="369" width="9" height="12" fill="#0070c0"/>
<rect x="213" y="382" width="9" height="12" fill="#ed7d31"/>
<rect x="213" y="395" width="9" height="11" fill="#7030a0"/>
<rect x="223" y="322" width="9" height="7" fill="#d9d9d9"/>
<rect x="223" y="330" width="9" height="12" fill="#d9d9d9"/>
<rect x="223" y="343" width="9" height="12" fill="#d9d9d9"/>
<rect x="223" y="356" width="9" height="12" fill="#d9d9d9"/>
<rect x="223" y="369" width="9" height="12" fill="#d9d9d9"/>
<rect x="223" y="382" width="9" height="12" fill="#d9d9d9"/>
<rect x="223" y="395" width="9" height="11" fill="#d9d9d9"/>
<rect x="233" y="322" width="10" height="7" fill="#d9d9d9"/>
<rect x="233" y="330" width="10" height="12" fill="#d9d9d9"/>
<rect x="233" y="343" width="10" height="12" fill="#d9d9d9"/>
<rect x="233" y="356" width="10" height="12" fill="#d9d9d9"/>
<rect x="233" y="369" width="10" height="12" fill="#d9d9d9"/>
<rect x="233" y="382" width="10" height="12" fill="#d9d9d9"/>
<rect x="233" y="395" width="10" height="11" fill="#d9d9d9"/>
<rect x="244" y="330" width="9" height="12" fill="#70ad47"/>
<rect x="244" y="356" width="9" height="12" fill="#ff0000"/>
<rect x="244" y="369" width="9" height="12" fill="#0070c0"/>
<rect x="244" y="382" width="9" height="12" fill="#ed7d31"/>
<rect x="244" y="395" width="9" height="11" fill="#7030a0"/>
<rect x="254" y="330" width="9" height="12" fill="#70ad47"/>
<rect x="254" y="356" width="9" height="12" fill="#ff0000"/>
<rect x="254" y="369" width="9" height="12" fill="#0070c0"/>
<rect x="254" y="382" width="9" height="12" fill="#ed7d31"/>
<rect x="254" y="395" width="9" height="11" fill="#7030a0"/>
<rect x="264" y="330" width="9" height="12" fill="#70ad47"/>
<rect x="264" y="356" width="9" height="12" fill="#ff0000"/>
<rect x="264" y="369" width="9" height="12" fill="#0070c0"/>
<rect x="264" y="382" width="9" height="12" fill="#ed7d31"/>
<rect x="264" y="395" width="9" height="11" fill="#7030a0"/>
<rect x="274" y="330" width="10" height="12" fill="#70ad47"/>
<rect x="274" y="356" width="10" height="12" fill="#ff0000"/>
<rect x="274" y="369" width="10" height="12" fill="#0070c0"/>
<rect x="274" y="382" width="10" height="12" fill="#ed7d31"/>
<rect x="274" y="395" width="10" height="11" fill="#7030a0"/>
<rect x="285" y="330" width="9" height="12" fill="#70ad47"/>
<rect x="285" y="356" width="9" height="12" fill="#ff0000"/>
<rect x="285" y="369" width="9" height="12" fill="#0070c0"/>
<rect x="285" y="382" width="9" height="12" fill="#ed7d31"/>
<rect x="285" y="395" width="9" height="11" fill="#7030a0"/>
<rect x="295" y="322" width="9" height="7" fill="#d9d9d9"/>
<rect x="295" y="330" width="9" height="12" fill="#d9d9d9"/>
<rect x="295" y="343" width="9" height="12" fill="#d9d9d9"/>
<rect x="295" y="356" width="9" height="12" fill="#d9d9d9"/>
<rect x="295" y="369" width="9" height="12" fill="#d9d9d9"/>
<rect x="295" y="382" width="9" height="12" fill="#d9d9d9"/>
<rect x="295" y="395" width="9" height="11" fill="#d9d9d9"/>
<rect x="305" y="322" width="9" height="7" fill="#d9d9d9"/>
<rect x="305" y="330" width="9" height="12" fill="#d9d9d9"/>
<rect x="305" y="343" width="9" height="12" fill="#d9d9d9"/>
<rect x="305" y="356" width="9" height="12" fill="#d9d9d9"/>
<rect x="305" y="369" width="9" height="12" fill="#d9d9d9"/>
<rect x="305" y="382" width="9" height="12" fill="#d9d9d9"/>
<rect x="305" y="395" width="9" height="11" fill="#d9d9d9"/>
<rect x="315" y="330" width="9" height="12" fill="#70ad47"/>
<rect x="315" y="356" width="9" height="12" fill="#ff0000"/>
<rect x="315" y="369" width="9" height="12" fill="#0070c0"/>
<rect x="315" y="382" width="9" height="12" fill="#ed7d31"/>
<rect x="315" y="395" width="9" height="11" fill="#7030a0"/>
<rect x="325" y="330" width="9" height="12" fill="#70ad47"/>
<rect x="325" y="356" width="9" height="12" fill="#ff0000"/>
<rect x="325" y="369" width="9" height="12" fill="#0070c0"/>
<rect x="325" y="382" width="9" height="12" fill="#ed7d31"/>
<rect x="325" y="395" width="9" height="11" fill="#7030a0"/>
<rect x="335" y="330" width="10" height="12" fill="#70ad47"/>
<rect x="335" y="356" width="10" height="12" fill="#ff0000"/>
<rect x="335" y="369" width="10" height="12" fill="#0070c0"/>
<rect x="335" y="382" width="10" height="12" fill="#ed7d31"/>
<rect x="335" y="395" width="10" height="11" fill="#7030a0"/>
<rect x="346" y="330" width="9" height="12" fill="#70ad47"/>
<rect x="346" y="356" width="9" height="12" fill="#ff0000"/>
<rect x="346" y="369" width="9" height="12" fill="#0070c0"/>
<rect x="346" y="382" width="9" height="12" fill="#ed7d31"/>
<rect x="346" y="395" width="9" height="11" fill="#7030a0"/>
<rect x="356" y="330" width="9" height="12" fill="#70ad47"/>
<rect x="356" y="356" width="9" height="12" fill="#ff0000"/>
<rect x="356" y="369" width="9" height="12" fill="#0070c0"/>
<rect x="356" y="382" width="9" height="12" fill="#ed7d31"/>
<rect x="356" y="395" width="9" height="11" fill="#7030a0"/>
<rect x="366" y="322" width="9" height="7" fill="#d9d9d9"/>
<rect x="366" y="330" width="9" height="12" fill="#d9d9d9"/>
<rect x="366" y="343" width="9" height="12" fill="#d9d9d9"/>
<rect x="366" y="356" width="9" height="12" fill="#d9d9d9"/>
<rect x="366" y="369" width="9" height="12" fill="#d9d9d9"/>
<rect x="366" y="382" width="9" height="12" fill="#d9d9d9"/>
<rect x="366" y="395" width="9" height="11" fill="#d9d9d9"/>
<rect x="376" y="322" width="9" height="7" fill="#d9d9d9"/>
<rect x="376" y="330" width="9" height="12" fill="#d9d9d9"/>
<rect x="376" y="343" width="9" height="12" fill="#d9d9d9"/>
<rect x="376" y="356" width="9" height="12" fill="#d9d9d9"/>
<rect x="376" y="369" width="9" height="12" fill="#d9d9d9"/>
<rect x="376" y="382" width="9" height="12" fill="#d9d9d9"/>
<rect x="376" y="395" width="9" height="11" fill="#d9d9d9"/>
<rect x="386" y="330" width="10" height="6" fill="#70ad47"/>
<rect x="386" y="336" width="10" height="1" fill="#c8c8c8"/>
<path d="M389.10 351.00 L391.00 347.50 L392.90 351.00 Z" fill="#000"/>
<rect x="386" y="356" width="10" height="6" fill="#ff0000"/>
<rect x="386" y="362" width="10" height="1" fill="#c8c8c8"/>
<rect x="386" y="369" width="10" height="6" fill="#0070c0"/>
<rect x="386" y="375" width="10" height="1" fill="#c8c8c8"/>
<rect x="386" y="382" width="10" height="12" fill="#ed7d31"/>
<rect x="386" y="395" width="10" height="11" fill="#7030a0"/>
<rect x="397" y="330" width="9" height="12" fill="#70ad47"/>
<rect x="397" y="343" width="9" height="12" fill="#ffff00"/>
<rect x="397" y="369" width="9" height="12" fill="#0070c0"/>
<rect x="397" y="382" width="9" height="12" fill="#ed7d31"/>
<rect x="397" y="395" width="9" height="11" fill="#7030a0"/>
<rect x="407" y="330" width="9" height="12" fill="#70ad47"/>
<rect x="407" y="343" width="9" height="12" fill="#ffff00"/>
<rect x="407" y="369" width="9" height="12" fill="#0070c0"/>
<rect x="407" y="382" width="9" height="12" fill="#ed7d31"/>
<rect x="407" y="395" width="9" height="11" fill="#7030a0"/>
<rect x="417" y="330" width="9" height="12" fill="#70ad47"/>
<rect x="417" y="343" width="9" height="12" fill="#ffff00"/>
<rect x="417" y="369" width="9" height="12" fill="#0070c0"/>
<rect x="417" y="382" width="9" height="12" fill="#ed7d31"/>
<rect x="417" y="395" width="9" height="11" fill="#7030a0"/>
<rect x="427" y="330" width="9" height="12" fill="#70ad47"/>
<rect x="427" y="343" width="9" height="12" fill="#ffff00"/>
<rect x="427" y="369" width="9" height="12" fill="#0070c0"/>
<rect x="427" y="382" width="9" height="12" fill="#ed7d31"/>
<rect x="427" y="395" width="9" height="11" fill="#7030a0"/>
<rect x="437" y="322" width="10" height="7" fill="#d9d9d9"/>
<rect x="437" y="330" width="10" height="12" fill="#d9d9d9"/>
<rect x="437" y="343" width="10" height="12" fill="#d9d9d9"/>
<rect x="437" y="356" width="10" height="12" fill="#d9d9d9"/>
<rect x="437" y="369" width="10" height="12" fill="#d9d9d9"/>
<rect x="437" y="382" width="10" height="12" fill="#d9d9d9"/>
<rect x="437" y="395" width="10" height="11" fill="#d9d9d9"/>
<rect x="448" y="322" width="9" height="7" fill="#d9d9d9"/>
<rect x="448" y="330" width="9" height="12" fill="#d9d9d9"/>
<rect x="448" y="343" width="9" height="12" fill="#d9d9d9"/>
<rect x="448" y="356" width="9" height="12" fill="#d9d9d9"/>
<rect x="448" y="369" width="9" height="12" fill="#d9d9d9"/>
<rect x="448" y="382" width="9" height="12" fill="#d9d9d9"/>
<rect x="448" y="395" width="9" height="11" fill="#d9d9d9"/>
<rect x="458" y="330" width="9" height="12" fill="#70ad47"/>
<rect x="458" y="343" width="9" height="12" fill="#ffff00"/>
<rect x="458" y="369" width="9" height="12" fill="#0070c0"/>
<rect x="458" y="382" width="9" height="12" fill="#ed7d31"/>
<rect x="458" y="395" width="9" height="11" fill="#7030a0"/>
<rect x="468" y="330" width="9" height="12" fill="#70ad47"/>
<rect x="468" y="343" width="9" height="12" fill="#ffff00"/>
<rect x="468" y="369" width="9" height="12" fill="#0070c0"/>
<rect x="468" y="382" width="9" height="12" fill="#ed7d31"/>
<rect x="468" y="395" width="9" height="11" fill="#7030a0"/>
<rect x="478" y="330" width="10" height="12" fill="#70ad47"/>
<rect x="478" y="343" width="10" height="12" fill="#ffff00"/>
<rect x="478" y="369" width="10" height="12" fill="#0070c0"/>
<rect x="478" y="382" width="10" height="12" fill="#ed7d31"/>
<rect x="478" y="395" width="10" height="11" fill="#7030a0"/>
<rect x="489" y="330" width="9" height="12" fill="#70ad47"/>
<rect x="489" y="343" width="9" height="12" fill="#ffff00"/>
<rect x="489" y="369" width="9" height="12" fill="#0070c0"/>
<rect x="489" y="382" width="9" height="12" fill="#ed7d31"/>
<rect x="489" y="395" width="9" height="11" fill="#7030a0"/>
<rect x="499" y="330" width="9" height="12" fill="#70ad47"/>
<rect x="499" y="343" width="9" height="12" fill="#ffff00"/>
<rect x="499" y="369" width="9" height="12" fill="#0070c0"/>
<rect x="499" y="382" width="9" height="12" fill="#ed7d31"/>
<rect x="499" y="395" width="9" height="6" fill="#7030a0"/>
<rect x="499" y="401" width="9" height="1" fill="#c8c8c8"/>
<rect x="509" y="322" width="9" height="7" fill="#d9d9d9"/>
<rect x="509" y="330" width="9" height="12" fill="#d9d9d9"/>
<rect x="509" y="343" width="9" height="12" fill="#d9d9d9"/>
<rect x="509" y="356" width="9" height="12" fill="#d9d9d9"/>
<rect x="509" y="369" width="9" height="12" fill="#d9d9d9"/>
<rect x="509" y="382" width="9" height="12" fill="#d9d9d9"/>
<rect x="509" y="395" width="9" height="11" fill="#d9d9d9"/>
<rect x="519" y="322" width="9" height="7" fill="#d9d9d9"/>
<rect x="519" y="330" width="9" height="12" fill="#d9d9d9"/>
<rect x="519" y="343" width="9" height="12" fill="#d9d9d9"/>
<rect x="519" y="356" width="9" height="12" fill="#d9d9d9"/>
<rect x="519" y="369" width="9" height="12" fill="#d9d9d9"/>
<rect x="519" y="382" width="9" height="12" fill="#d9d9d9"/>
<rect x="519" y="395" width="9" height="11" fill="#d9d9d9"/>
<rect x="529" y="330" width="10" height="12" fill="#70ad47"/>
<rect x="529" y="343" width="10" height="12" fill="#ffff00"/>
<rect x="529" y="369" width="10" height="12" fill="#0070c0"/>
<rect x="529" y="382" width="10" height="12" fill="#ed7d31"/>
<rect x="529" y="395" width="10" height="11" fill="#7030a0"/>
<rect x="540" y="330" width="9" height="12" fill="#70ad47"/>
<rect x="540" y="343" width="9" height="12" fill="#ffff00"/>
<rect x="540" y="369" width="9" height="12" fill="#0070c0"/>
<rect x="540" y="382" width="9" height="12" fill="#ed7d31"/>
<rect x="540" y="395" width="9" height="11" fill="#7030a0"/>
<rect x="550" y="330" width="9" height="12" fill="#70ad47"/>
<rect x="550" y="343" width="9" height="12" fill="#ffff00"/>
<rect x="550" y="369" width="9" height="12" fill="#0070c0"/>
<rect x="550" y="382" width="9" height="12" fill="#ed7d31"/>
<rect x="550" y="395" width="9" height="11" fill="#7030a0"/>
<rect x="560" y="330" width="9" height="12" fill="#70ad47"/>
<rect x="560" y="343" width="9" height="12" fill="#ffff00"/>
<rect x="560" y="369" width="9" height="12" fill="#0070c0"/>
<rect x="560" y="382" width="9" height="12" fill="#ed7d31"/>
<rect x="560" y="395" width="9" height="11" fill="#7030a0"/>
<rect x="570" y="330" width="10" height="12" fill="#70ad47"/>
<rect x="570" y="343" width="10" height="12" fill="#ffff00"/>
<rect x="570" y="369" width="10" height="12" fill="#0070c0"/>
<rect x="570" y="382" width="10" height="12" fill="#ed7d31"/>
<rect x="570" y="395" width="10" height="11" fill="#7030a0"/>
<rect x="581" y="322" width="9" height="7" fill="#d9d9d9"/>
<rect x="581" y="330" width="9" height="12" fill="#d9d9d9"/>
<rect x="581" y="343" width="9" height="12" fill="#d9d9d9"/>
<rect x="581" y="356" width="9" height="12" fill="#d9d9d9"/>
<rect x="581" y="369" width="9" height="12" fill="#d9d9d9"/>
<rect x="581" y="382" width="9" height="12" fill="#d9d9d9"/>
<rect x="581" y="395" width="9" height="11" fill="#d9d9d9"/>
<rect x="591" y="322" width="9" height="7" fill="#d9d9d9"/>
<rect x="591" y="330" width="9" height="12" fill="#d9d9d9"/>
<rect x="591" y="343" width="9" height="12" fill="#d9d9d9"/>
<rect x="591" y="356" width="9" height="12" fill="#d9d9d9"/>
<rect x="591" y="369" width="9" height="12" fill="#d9d9d9"/>
<rect x="591" y="382" width="9" height="12" fill="#d9d9d9"/>
<rect x="591" y="395" width="9" height="11" fill="#d9d9d9"/>
<rect x="601" y="322" width="9" height="7" fill="#d9d9d9"/>
<rect x="601" y="330" width="9" height="12" fill="#808080"/>
<rect x="601" y="343" width="9" height="12" fill="#808080"/>
<rect x="601" y="356" width="9" height="12" fill="#808080"/>
<rect x="601" y="369" width="9" height="12" fill="#808080"/>
<rect x="601" y="382" width="9" height="12" fill="#808080"/>
<rect x="601" y="395" width="9" height="11" fill="#808080"/>
<rect x="611" y="330" width="9" height="12" fill="#70ad47"/>
<rect x="611" y="343" width="9" height="12" fill="#ffff00"/>
<rect x="611" y="369" width="9" height="12" fill="#0070c0"/>
<rect x="611" y="382" width="9" height="12" fill="#ed7d31"/>
<rect x="611" y="395" width="9" height="11" fill="#7030a0"/>
<rect x="621" y="330" width="9" height="12" fill="#70ad47"/>
<rect x="621" y="343" width="9" height="12" fill="#ffff00"/>
<rect x="621" y="369" width="9" height="12" fill="#0070c0"/>
<rect x="621" y="382" width="9" height="12" fill="#ed7d31"/>
<rect x="621" y="395" width="9" height="11" fill="#7030a0"/>
<rect x="631" y="330" width="10" height="12" fill="#70ad47"/>
<rect x="631" y="343" width="10" height="12" fill="#ffff00"/>
<rect x="631" y="369" width="10" height="12" fill="#4472c4"/>
<rect x="631" y="382" width="10" height="12" fill="#ed7d31"/>
<rect x="631" y="395" width="10" height="11" fill="#7030a0"/>
<rect x="642" y="330" width="9" height="6" fill="#70ad47"/>
<rect x="642" y="336" width="9" height="1" fill="#c8c8c8"/>
<rect x="642" y="343" width="9" height="6" fill="#ffff00"/>
<rect x="642" y="349" width="9" height="1" fill="#3a3a3a"/>
<path d="M644.60 364.00 L646.50 360.50 L648.40 364.00 Z" fill="#000"/>
<rect x="642" y="369" width="9" height="6" fill="#0070c0"/>
<rect x="642" y="375" width="9" height="1" fill="#c8c8c8"/>
<rect x="642" y="382" width="9" height="12" fill="#ed7d31"/>
<rect x="642" y="395" width="9" height="6" fill="#7030a0"/>
<rect x="642" y="401" width="9" height="1" fill="#c8c8c8"/>
<rect x="652" y="322" width="9" height="7" fill="#d9d9d9"/>
<rect x="652" y="330" width="9" height="12" fill="#d9d9d9"/>
<rect x="652" y="343" width="9" height="12" fill="#d9d9d9"/>
<rect x="652" y="356" width="9" height="12" fill="#d9d9d9"/>
<rect x="652" y="369" width="9" height="12" fill="#d9d9d9"/>
<rect x="652" y="382" width="9" height="12" fill="#d9d9d9"/>
<rect x="652" y="395" width="9" height="11" fill="#d9d9d9"/>
<rect x="662" y="322" width="11" height="7" fill="#d9d9d9"/>
<rect x="662" y="330" width="11" height="12" fill="#d9d9d9"/>
<rect x="662" y="343" width="11" height="12" fill="#d9d9d9"/>
<rect x="662" y="356" width="11" height="12" fill="#d9d9d9"/>
<rect x="662" y="369" width="11" height="12" fill="#d9d9d9"/>
<rect x="662" y="382" width="11" height="12" fill="#d9d9d9"/>
<rect x="662" y="395" width="11" height="11" fill="#d9d9d9"/>
<rect x="674" y="330" width="9" height="12" fill="#70ad47"/>
<rect x="674" y="343" width="9" height="12" fill="#ffff00"/>
<rect x="674" y="356" width="9" height="12" fill="#ff0000"/>
<rect x="674" y="382" width="9" height="6" fill="#ed7d31"/>
<rect x="674" y="388" width="9" height="1" fill="#c8c8c8"/>
<rect x="684" y="330" width="9" height="12" fill="#70ad47"/>
<rect x="684" y="343" width="9" height="12" fill="#ffff00"/>
<rect x="684" y="356" width="9" height="12" fill="#ff0000"/>
<rect x="684" y="382" width="9" height="12" fill="#ed7d31"/>
<rect x="694" y="330" width="9" height="12" fill="#70ad47"/>
<rect x="694" y="343" width="9" height="12" fill="#ffff00"/>
<rect x="694" y="356" width="9" height="12" fill="#ff0000"/>
<rect x="694" y="382" width="9" height="12" fill="#ed7d31"/>
<rect x="704" y="330" width="9" height="12" fill="#70ad47"/>
<rect x="704" y="343" width="9" height="12" fill="#ffff00"/>
<rect x="704" y="356" width="9" height="12" fill="#ff0000"/>
<rect x="704" y="382" width="9" height="12" fill="#ed7d31"/>
<rect x="714" y="330" width="10" height="12" fill="#70ad47"/>
<rect x="714" y="343" width="10" height="12" fill="#ffff00"/>
<rect x="714" y="356" width="10" height="12" fill="#ff0000"/>
<rect x="714" y="382" width="10" height="12" fill="#ed7d31"/>
<rect x="725" y="322" width="9" height="7" fill="#d9d9d9"/>
<rect x="725" y="330" width="9" height="12" fill="#d9d9d9"/>
<rect x="725" y="343" width="9" height="12" fill="#d9d9d9"/>
<rect x="725" y="356" width="9" height="12" fill="#d9d9d9"/>
<rect x="725" y="369" width="9" height="12" fill="#d9d9d9"/>
<rect x="725" y="382" width="9" height="12" fill="#d9d9d9"/>
<rect x="725" y="395" width="9" height="11" fill="#d9d9d9"/>
<rect x="735" y="322" width="9" height="7" fill="#d9d9d9"/>
<rect x="735" y="330" width="9" height="12" fill="#d9d9d9"/>
<rect x="735" y="343" width="9" height="12" fill="#d9d9d9"/>
<rect x="735" y="356" width="9" height="12" fill="#d9d9d9"/>
<rect x="735" y="369" width="9" height="12" fill="#d9d9d9"/>
<rect x="735" y="382" width="9" height="12" fill="#d9d9d9"/>
<rect x="735" y="395" width="9" height="11" fill="#d9d9d9"/>
<rect x="745" y="330" width="9" height="12" fill="#70ad47"/>
<rect x="745" y="343" width="9" height="12" fill="#ffff00"/>
<rect x="745" y="356" width="9" height="12" fill="#ff0000"/>
<rect x="745" y="382" width="9" height="12" fill="#ed7d31"/>
<rect x="755" y="330" width="9" height="12" fill="#70ad47"/>
<rect x="755" y="343" width="9" height="12" fill="#ffff00"/>
<rect x="755" y="356" width="9" height="12" fill="#ff0000"/>
<rect x="755" y="382" width="9" height="12" fill="#ed7d31"/>
<rect x="765" y="330" width="10" height="12" fill="#70ad47"/>
<rect x="765" y="343" width="10" height="12" fill="#ffff00"/>
<rect x="765" y="356" width="10" height="12" fill="#ff0000"/>
<rect x="765" y="382" width="10" height="12" fill="#ed7d31"/>
<rect x="776" y="330" width="9" height="12" fill="#70ad47"/>
<rect x="776" y="343" width="9" height="12" fill="#ffff00"/>
<rect x="776" y="356" width="9" height="12" fill="#ff0000"/>
<rect x="776" y="382" width="9" height="12" fill="#ed7d31"/>
<rect x="786" y="330" width="9" height="12" fill="#70ad47"/>
<rect x="786" y="343" width="9" height="12" fill="#ffff00"/>
<rect x="786" y="356" width="9" height="12" fill="#ff0000"/>
<rect x="786" y="382" width="9" height="6" fill="#ed7d31"/>
<rect x="786" y="388" width="9" height="1" fill="#c8c8c8"/>
<rect x="796" y="322" width="11" height="7" fill="#d9d9d9"/>
<rect x="796" y="330" width="11" height="12" fill="#d9d9d9"/>
<rect x="796" y="343" width="11" height="12" fill="#d9d9d9"/>
<rect x="796" y="356" width="11" height="12" fill="#d9d9d9"/>
<rect x="796" y="369" width="11" height="12" fill="#d9d9d9"/>
<rect x="796" y="382" width="11" height="12" fill="#d9d9d9"/>
<rect x="796" y="395" width="11" height="11" fill="#d9d9d9"/>
<rect x="808" y="322" width="9" height="7" fill="#d9d9d9"/>
<rect x="808" y="330" width="9" height="12" fill="#d9d9d9"/>
<rect x="808" y="343" width="9" height="12" fill="#d9d9d9"/>
<rect x="808" y="356" width="9" height="12" fill="#d9d9d9"/>
<rect x="808" y="369" width="9" height="12" fill="#d9d9d9"/>
<rect x="808" y="382" width="9" height="12" fill="#d9d9d9"/>
<rect x="808" y="395" width="9" height="11" fill="#d9d9d9"/>
<rect x="818" y="330" width="9" height="12" fill="#70ad47"/>
<rect x="818" y="343" width="9" height="12" fill="#ffff00"/>
<rect x="818" y="356" width="9" height="12" fill="#ff0000"/>
<rect x="828" y="330" width="10" height="12" fill="#70ad47"/>
<rect x="828" y="343" width="10" height="12" fill="#ffff00"/>
<rect x="828" y="356" width="10" height="12" fill="#ff0000"/>
<rect x="839" y="330" width="9" height="12" fill="#70ad47"/>
<rect x="839" y="343" width="9" height="12" fill="#ffff00"/>
<rect x="839" y="356" width="9" height="12" fill="#ff0000"/>
<rect x="849" y="330" width="9" height="12" fill="#70ad47"/>
<rect x="849" y="343" width="9" height="12" fill="#ffff00"/>
<rect x="849" y="356" width="9" height="12" fill="#ff0000"/>
<rect x="859" y="322" width="9" height="7" fill="#d9d9d9"/>
<rect x="859" y="330" width="9" height="12" fill="#808080"/>
<rect x="859" y="343" width="9" height="12" fill="#808080"/>
<rect x="859" y="356" width="9" height="12" fill="#808080"/>
<rect x="859" y="369" width="9" height="12" fill="#808080"/>
<rect x="859" y="382" width="9" height="12" fill="#808080"/>
<rect x="859" y="395" width="9" height="11" fill="#808080"/>
<rect x="869" y="322" width="10" height="7" fill="#d9d9d9"/>
<rect x="869" y="330" width="10" height="12" fill="#d9d9d9"/>
<rect x="869" y="343" width="10" height="12" fill="#d9d9d9"/>
<rect x="869" y="356" width="10" height="12" fill="#d9d9d9"/>
<rect x="869" y="369" width="10" height="12" fill="#d9d9d9"/>
<rect x="869" y="382" width="10" height="12" fill="#d9d9d9"/>
<rect x="869" y="395" width="10" height="11" fill="#d9d9d9"/>
<rect x="880" y="322" width="9" height="7" fill="#d9d9d9"/>
<rect x="880" y="330" width="9" height="12" fill="#d9d9d9"/>
<rect x="880" y="343" width="9" height="12" fill="#d9d9d9"/>
<rect x="880" y="356" width="9" height="12" fill="#d9d9d9"/>
<rect x="880" y="369" width="9" height="12" fill="#d9d9d9"/>
<rect x="880" y="382" width="9" height="12" fill="#d9d9d9"/>
<rect x="880" y="395" width="9" height="11" fill="#d9d9d9"/>
<rect x="890" y="330" width="9" height="12" fill="#70ad47"/>
<rect x="890" y="343" width="9" height="12" fill="#ffff00"/>
<rect x="890" y="356" width="9" height="12" fill="#ff0000"/>
<rect x="900" y="330" width="9" height="12" fill="#70ad47"/>
<rect x="900" y="343" width="9" height="12" fill="#ffff00"/>
<rect x="900" y="356" width="9" height="12" fill="#ff0000"/>
<rect x="910" y="330" width="10" height="12" fill="#70ad47"/>
<rect x="910" y="343" width="10" height="12" fill="#ffff00"/>
<rect x="910" y="356" width="10" height="12" fill="#ff0000"/>
<rect x="921" y="330" width="9" height="12" fill="#70ad47"/>
<rect x="921" y="343" width="9" height="12" fill="#ffff00"/>
<rect x="921" y="356" width="9" height="12" fill="#ff0000"/>
<rect x="931" y="330" width="9" height="6" fill="#70ad47"/>
<rect x="931" y="336" width="9" height="1" fill="#c8c8c8"/>
<rect x="931" y="343" width="9" height="6" fill="#ffff00"/>
<rect x="931" y="349" width="9" height="1" fill="#3a3a3a"/>
<rect x="931" y="356" width="9" height="6" fill="#ff0000"/>
<rect x="931" y="362" width="9" height="1" fill="#c8c8c8"/>
<rect x="941" y="322" width="9" height="7" fill="#d9d9d9"/>
<rect x="941" y="330" width="9" height="12" fill="#d9d9d9"/>
<rect x="941" y="343" width="9" height="12" fill="#d9d9d9"/>
<rect x="941" y="356" width="9" height="12" fill="#d9d9d9"/>
<rect x="941" y="369" width="9" height="12" fill="#d9d9d9"/>
<rect x="941" y="382" width="9" height="12" fill="#d9d9d9"/>
<rect x="941" y="395" width="9" height="11" fill="#d9d9d9"/>
<rect x="951" y="322" width="9" height="7" fill="#d9d9d9"/>
<rect x="951" y="330" width="9" height="12" fill="#d9d9d9"/>
<rect x="951" y="343" width="9" height="12" fill="#d9d9d9"/>
<rect x="951" y="356" width="9" height="12" fill="#d9d9d9"/>
<rect x="951" y="369" width="9" height="12" fill="#d9d9d9"/>
<rect x="951" y="382" width="9" height="12" fill="#d9d9d9"/>
<rect x="951" y="395" width="9" height="11" fill="#d9d9d9"/>
<rect x="49" y="321" width="1" height="86" fill="#262626"/>
<rect x="59" y="321" width="1" height="86" fill="#262626"/>
<rect x="69" y="321" width="1" height="86" fill="#262626"/>
<rect x="79" y="321" width="1" height="86" fill="#262626"/>
<rect x="90" y="321" width="1" height="86" fill="#262626"/>
<rect x="100" y="321" width="1" height="86" fill="#262626"/>
<rect x="110" y="321" width="1" height="86" fill="#262626"/>
<rect x="120" y="321" width="1" height="86" fill="#262626"/>
<rect x="130" y="321" width="1" height="86" fill="#262626"/>
<rect x="141" y="321" width="1" height="86" fill="#262626"/>
<rect x="151" y="321" width="1" height="86" fill="#262626"/>
<rect x="161" y="321" width="1" height="86" fill="#262626"/>
<rect x="171" y="321" width="1" height="86" fill="#262626"/>
<rect x="181" y="321" width="1" height="86" fill="#262626"/>
<rect x="192" y="321" width="1" height="86" fill="#262626"/>
<rect x="202" y="321" width="1" height="86" fill="#262626"/>
<rect x="212" y="321" width="1" height="86" fill="#262626"/>
<rect x="222" y="321" width="1" height="86" fill="#262626"/>
<rect x="232" y="321" width="1" height="86" fill="#262626"/>
<rect x="243" y="321" width="1" height="86" fill="#262626"/>
<rect x="253" y="321" width="1" height="86" fill="#262626"/>
<rect x="263" y="321" width="1" height="86" fill="#262626"/>
<rect x="273" y="321" width="1" height="86" fill="#262626"/>
<rect x="284" y="321" width="1" height="86" fill="#262626"/>
<rect x="294" y="321" width="1" height="86" fill="#262626"/>
<rect x="304" y="321" width="1" height="86" fill="#262626"/>
<rect x="314" y="321" width="1" height="86" fill="#262626"/>
<rect x="324" y="321" width="1" height="86" fill="#262626"/>
<rect x="334" y="321" width="1" height="86" fill="#262626"/>
<rect x="345" y="321" width="1" height="86" fill="#262626"/>
<rect x="355" y="321" width="1" height="86" fill="#262626"/>
<rect x="365" y="321" width="1" height="86" fill="#262626"/>
<rect x="375" y="321" width="1" height="86" fill="#262626"/>
<rect x="385" y="321" width="1" height="86" fill="#262626"/>
<rect x="396" y="321" width="1" height="86" fill="#262626"/>
<rect x="406" y="321" width="1" height="86" fill="#262626"/>
<rect x="416" y="321" width="1" height="86" fill="#262626"/>
<rect x="426" y="321" width="1" height="86" fill="#262626"/>
<rect x="436" y="321" width="1" height="86" fill="#262626"/>
<rect x="447" y="321" width="1" height="86" fill="#262626"/>
<rect x="457" y="321" width="1" height="86" fill="#262626"/>
<rect x="467" y="321" width="1" height="86" fill="#262626"/>
<rect x="477" y="321" width="1" height="86" fill="#262626"/>
<rect x="488" y="321" width="1" height="86" fill="#262626"/>
<rect x="498" y="321" width="1" height="86" fill="#262626"/>
<rect x="508" y="321" width="1" height="86" fill="#262626"/>
<rect x="518" y="321" width="1" height="86" fill="#262626"/>
<rect x="528" y="321" width="1" height="86" fill="#262626"/>
<rect x="539" y="321" width="1" height="86" fill="#262626"/>
<rect x="549" y="321" width="1" height="86" fill="#262626"/>
<rect x="559" y="321" width="1" height="86" fill="#262626"/>
<rect x="569" y="321" width="1" height="86" fill="#262626"/>
<rect x="580" y="321" width="1" height="86" fill="#262626"/>
<rect x="590" y="321" width="1" height="86" fill="#262626"/>
<rect x="600" y="321" width="1" height="86" fill="#262626"/>
<rect x="610" y="321" width="1" height="86" fill="#262626"/>
<rect x="620" y="321" width="1" height="86" fill="#262626"/>
<rect x="630" y="321" width="1" height="86" fill="#262626"/>
<rect x="641" y="321" width="1" height="86" fill="#262626"/>
<rect x="651" y="321" width="1" height="86" fill="#262626"/>
<rect x="661" y="321" width="1" height="86" fill="#262626"/>
<rect x="673" y="321" width="1" height="86" fill="#262626"/>
<rect x="683" y="321" width="1" height="86" fill="#262626"/>
<rect x="693" y="321" width="1" height="86" fill="#262626"/>
<rect x="703" y="321" width="1" height="86" fill="#262626"/>
<rect x="713" y="321" width="1" height="86" fill="#262626"/>
<rect x="724" y="321" width="1" height="86" fill="#262626"/>
<rect x="734" y="321" width="1" height="86" fill="#262626"/>
<rect x="744" y="321" width="1" height="86" fill="#262626"/>
<rect x="754" y="321" width="1" height="86" fill="#262626"/>
<rect x="764" y="321" width="1" height="86" fill="#262626"/>
<rect x="775" y="321" width="1" height="86" fill="#262626"/>
<rect x="785" y="321" width="1" height="86" fill="#262626"/>
<rect x="795" y="321" width="1" height="86" fill="#262626"/>
<rect x="807" y="321" width="1" height="86" fill="#262626"/>
<rect x="817" y="321" width="1" height="86" fill="#262626"/>
<rect x="827" y="321" width="1" height="86" fill="#262626"/>
<rect x="838" y="321" width="1" height="86" fill="#262626"/>
<rect x="848" y="321" width="1" height="86" fill="#262626"/>
<rect x="858" y="321" width="1" height="86" fill="#262626"/>
<rect x="868" y="321" width="1" height="86" fill="#262626"/>
<rect x="879" y="321" width="1" height="86" fill="#262626"/>
<rect x="889" y="321" width="1" height="86" fill="#262626"/>
<rect x="899" y="321" width="1" height="86" fill="#262626"/>
<rect x="909" y="321" width="1" height="86" fill="#262626"/>
<rect x="920" y="321" width="1" height="86" fill="#262626"/>
<rect x="930" y="321" width="1" height="86" fill="#262626"/>
<rect x="940" y="321" width="1" height="86" fill="#262626"/>
<rect x="950" y="321" width="1" height="86" fill="#262626"/>
<rect x="960" y="321" width="1" height="86" fill="#262626"/>
<rect x="970" y="321" width="1" height="86" fill="#262626"/>
<rect x="981" y="321" width="1" height="86" fill="#262626"/>
<rect x="49" y="342" width="933" height="1" fill="#262626"/>
<rect x="49" y="355" width="933" height="1" fill="#262626"/>
<rect x="49" y="368" width="933" height="1" fill="#262626"/>
<rect x="49" y="381" width="933" height="1" fill="#262626"/>
<rect x="49" y="394" width="933" height="1" fill="#262626"/>
<rect x="49" y="406" width="933" height="1" fill="#262626"/>
<rect x="49" y="321" width="933" height="1" fill="#5a5a5a"/>
<rect x="49" y="329" width="933" height="1" fill="#858585"/>
<rect x="49" y="329" width="1" height="1" fill="#333"/>
<rect x="59" y="329" width="1" height="1" fill="#333"/>
<rect x="69" y="329" width="1" height="1" fill="#333"/>
<rect x="79" y="329" width="1" height="1" fill="#333"/>
<rect x="90" y="329" width="1" height="1" fill="#333"/>
<rect x="100" y="329" width="1" height="1" fill="#333"/>
<rect x="110" y="329" width="1" height="1" fill="#333"/>
<rect x="120" y="329" width="1" height="1" fill="#333"/>
<rect x="130" y="329" width="1" height="1" fill="#333"/>
<rect x="141" y="329" width="1" height="1" fill="#333"/>
<rect x="151" y="329" width="1" height="1" fill="#333"/>
<rect x="161" y="329" width="1" height="1" fill="#333"/>
<rect x="171" y="329" width="1" height="1" fill="#333"/>
<rect x="181" y="329" width="1" height="1" fill="#333"/>
<rect x="192" y="329" width="1" height="1" fill="#333"/>
<rect x="202" y="329" width="1" height="1" fill="#333"/>
<rect x="212" y="329" width="1" height="1" fill="#333"/>
<rect x="222" y="329" width="1" height="1" fill="#333"/>
<rect x="232" y="329" width="1" height="1" fill="#333"/>
<rect x="243" y="329" width="1" height="1" fill="#333"/>
<rect x="253" y="329" width="1" height="1" fill="#333"/>
<rect x="263" y="329" width="1" height="1" fill="#333"/>
<rect x="273" y="329" width="1" height="1" fill="#333"/>
<rect x="284" y="329" width="1" height="1" fill="#333"/>
<rect x="294" y="329" width="1" height="1" fill="#333"/>
<rect x="304" y="329" width="1" height="1" fill="#333"/>
<rect x="314" y="329" width="1" height="1" fill="#333"/>
<rect x="324" y="329" width="1" height="1" fill="#333"/>
<rect x="334" y="329" width="1" height="1" fill="#333"/>
<rect x="345" y="329" width="1" height="1" fill="#333"/>
<rect x="355" y="329" width="1" height="1" fill="#333"/>
<rect x="365" y="329" width="1" height="1" fill="#333"/>
<rect x="375" y="329" width="1" height="1" fill="#333"/>
<rect x="385" y="329" width="1" height="1" fill="#333"/>
<rect x="396" y="329" width="1" height="1" fill="#333"/>
<rect x="406" y="329" width="1" height="1" fill="#333"/>
<rect x="416" y="329" width="1" height="1" fill="#333"/>
<rect x="426" y="329" width="1" height="1" fill="#333"/>
<rect x="436" y="329" width="1" height="1" fill="#333"/>
<rect x="447" y="329" width="1" height="1" fill="#333"/>
<rect x="457" y="329" width="1" height="1" fill="#333"/>
<rect x="467" y="329" width="1" height="1" fill="#333"/>
<rect x="477" y="329" width="1" height="1" fill="#333"/>
<rect x="488" y="329" width="1" height="1" fill="#333"/>
<rect x="498" y="329" width="1" height="1" fill="#333"/>
<rect x="508" y="329" width="1" height="1" fill="#333"/>
<rect x="518" y="329" width="1" height="1" fill="#333"/>
<rect x="528" y="329" width="1" height="1" fill="#333"/>
<rect x="539" y="329" width="1" height="1" fill="#333"/>
<rect x="549" y="329" width="1" height="1" fill="#333"/>
<rect x="559" y="329" width="1" height="1" fill="#333"/>
<rect x="569" y="329" width="1" height="1" fill="#333"/>
<rect x="580" y="329" width="1" height="1" fill="#333"/>
<rect x="590" y="329" width="1" height="1" fill="#333"/>
<rect x="600" y="329" width="1" height="1" fill="#333"/>
<rect x="610" y="329" width="1" height="1" fill="#333"/>
<rect x="620" y="329" width="1" height="1" fill="#333"/>
<rect x="630" y="329" width="1" height="1" fill="#333"/>
<rect x="641" y="329" width="1" height="1" fill="#333"/>
<rect x="651" y="329" width="1" height="1" fill="#333"/>
<rect x="661" y="329" width="1" height="1" fill="#333"/>
<rect x="673" y="329" width="1" height="1" fill="#333"/>
<rect x="683" y="329" width="1" height="1" fill="#333"/>
<rect x="693" y="329" width="1" height="1" fill="#333"/>
<rect x="703" y="329" width="1" height="1" fill="#333"/>
<rect x="713" y="329" width="1" height="1" fill="#333"/>
<rect x="724" y="329" width="1" height="1" fill="#333"/>
<rect x="734" y="329" width="1" height="1" fill="#333"/>
<rect x="744" y="329" width="1" height="1" fill="#333"/>
<rect x="754" y="329" width="1" height="1" fill="#333"/>
<rect x="764" y="329" width="1" height="1" fill="#333"/>
<rect x="775" y="329" width="1" height="1" fill="#333"/>
<rect x="785" y="329" width="1" height="1" fill="#333"/>
<rect x="795" y="329" width="1" height="1" fill="#333"/>
<rect x="807" y="329" width="1" height="1" fill="#333"/>
<rect x="817" y="329" width="1" height="1" fill="#333"/>
<rect x="827" y="329" width="1" height="1" fill="#333"/>
<rect x="838" y="329" width="1" height="1" fill="#333"/>
<rect x="848" y="329" width="1" height="1" fill="#333"/>
<rect x="858" y="329" width="1" height="1" fill="#333"/>
<rect x="868" y="329" width="1" height="1" fill="#333"/>
<rect x="879" y="329" width="1" height="1" fill="#333"/>
<rect x="889" y="329" width="1" height="1" fill="#333"/>
<rect x="899" y="329" width="1" height="1" fill="#333"/>
<rect x="909" y="329" width="1" height="1" fill="#333"/>
<rect x="920" y="329" width="1" height="1" fill="#333"/>
<rect x="930" y="329" width="1" height="1" fill="#333"/>
<rect x="940" y="329" width="1" height="1" fill="#333"/>
<rect x="950" y="329" width="1" height="1" fill="#333"/>
<rect x="960" y="329" width="1" height="1" fill="#333"/>
<rect x="970" y="329" width="1" height="1" fill="#333"/>
<rect x="981" y="329" width="1" height="1" fill="#333"/>
<rect x="355" y="313" width="1" height="8" fill="#262626"/>
<rect x="673" y="313" width="1" height="8" fill="#262626"/>
<rect x="39" y="313" width="953" height="1" fill="#4a4a4a"/>
<rect x="39" y="313" width="1" height="94" fill="#7a7a7a"/>
<rect x="39" y="406" width="953" height="1" fill="#4a4a4a"/>
<rect x="991" y="313" width="1" height="9" fill="#4a4a4a"/>
<rect x="416" y="107" width="1" height="7" fill="#141414"/>
<rect x="426" y="107" width="1" height="7" fill="#141414"/>
<rect x="69.50" y="415.00" width="142.70" height="113.30" fill="#fff" stroke="#1a1a1a" stroke-width="1.4" rx="0.8"/>
<rect x="222.50" y="415.00" width="214.50" height="113.30" fill="#fff" stroke="#1a1a1a" stroke-width="1.4" rx="0.8"/>
<rect x="446.70" y="414.80" width="256.70" height="84.20" fill="#fff" stroke="#1a1a1a" stroke-width="1.4" rx="0.8"/>
<rect x="713.70" y="414.50" width="124.20" height="65.50" fill="#f2f2f2" stroke="#1a1a1a" stroke-width="1.4" rx="0.8"/>
<rect x="79.6" y="435.6" width="10.5" height="6.4" fill="#70ad47"/>
<rect x="79.6" y="448.4" width="10.5" height="6.4" fill="#ffff00"/>
<rect x="79.6" y="461.2" width="10.5" height="6.4" fill="#ff0000"/>
<rect x="79.6" y="474.3" width="10.5" height="6.4" fill="#0070c0"/>
<rect x="79.6" y="487.3" width="10.5" height="6.4" fill="#ed7d31"/>
<rect x="79.6" y="499.9" width="10.5" height="6.4" fill="#7030a0"/>
<rect x="79.6" y="512.8" width="10.5" height="7.6" fill="#808080"/>
<rect x="130.4" y="435.3" width="10.9" height="13.3" fill="#fff" stroke="#333" stroke-width="0.7" rx="0.6"/>
<rect x="130.4" y="435.3" width="10.9" height="6.8" fill="#000"/>
<rect x="727" y="441.4" width="1.2" height="4.5" fill="#000"/>
<rect x="726.4" y="453.3" width="5.4" height="5.3" fill="#000"/>
<path d="M726.5 470.0 L728.75 465.8 L731.0 470.0 Z" fill="#000"/>
<rect x="141" y="200.4" width="9.6" height="6.4" fill="#fff"/>
<g stroke="#000" stroke-width="0.28">
<text x="156.9" y="50.95" font-size="5.6" stroke="#000" stroke-width="0.3" text-anchor="middle" textLength="2.7" lengthAdjust="spacingAndGlyphs">S</text>
<text x="156.9" y="63.95" font-size="5.6" stroke="#000" stroke-width="0.3" text-anchor="middle" textLength="2.7" lengthAdjust="spacingAndGlyphs">S</text>
<text x="156.9" y="76.95" font-size="5.6" stroke="#000" stroke-width="0.3" text-anchor="middle" textLength="2.7" lengthAdjust="spacingAndGlyphs">S</text>
<text x="186.9" y="50.95" font-size="5.6" stroke="#000" stroke-width="0.3" text-anchor="middle" textLength="2.7" lengthAdjust="spacingAndGlyphs">S</text>
<text x="186.9" y="63.95" font-size="5.6" stroke="#000" stroke-width="0.3" text-anchor="middle" textLength="2.7" lengthAdjust="spacingAndGlyphs">S</text>
<text x="186.9" y="76.95" font-size="5.6" stroke="#000" stroke-width="0.3" text-anchor="middle" textLength="2.7" lengthAdjust="spacingAndGlyphs">S</text>
<text x="472.9" y="89.95" font-size="5.6" stroke="#000" stroke-width="0.3" text-anchor="middle" textLength="2.7" lengthAdjust="spacingAndGlyphs">S</text>
<text x="472.9" y="102.95" font-size="5.6" stroke="#000" stroke-width="0.3" text-anchor="middle" textLength="2.7" lengthAdjust="spacingAndGlyphs">S</text>
<text x="482.9" y="89.95" font-size="5.6" stroke="#000" stroke-width="0.3" text-anchor="middle" textLength="2.7" lengthAdjust="spacingAndGlyphs">S</text>
<text x="482.9" y="102.95" font-size="5.6" stroke="#000" stroke-width="0.3" text-anchor="middle" textLength="2.7" lengthAdjust="spacingAndGlyphs">S</text>
<text x="493.9" y="37.95" font-size="5.6" stroke="#000" stroke-width="0.3" text-anchor="middle" textLength="2.7" lengthAdjust="spacingAndGlyphs">S</text>
<text x="493.9" y="89.95" font-size="5.6" stroke="#000" stroke-width="0.3" text-anchor="middle" textLength="2.7" lengthAdjust="spacingAndGlyphs">S</text>
<text x="493.9" y="102.95" font-size="5.6" stroke="#000" stroke-width="0.3" text-anchor="middle" textLength="2.7" lengthAdjust="spacingAndGlyphs">S</text>
<text x="503.9" y="37.95" font-size="5.6" stroke="#000" stroke-width="0.3" text-anchor="middle" textLength="2.7" lengthAdjust="spacingAndGlyphs">S</text>
<text x="54.5" y="27.9" font-size="5.6" text-anchor="middle" textLength="2.9" lengthAdjust="spacingAndGlyphs">1</text>
<text x="64.5" y="27.9" font-size="5.6" text-anchor="middle" textLength="2.9" lengthAdjust="spacingAndGlyphs">2</text>
<text x="74.5" y="27.9" font-size="5.6" text-anchor="middle" textLength="2.9" lengthAdjust="spacingAndGlyphs">3</text>
<text x="85" y="27.9" font-size="5.6" text-anchor="middle" textLength="2.9" lengthAdjust="spacingAndGlyphs">4</text>
<text x="95.5" y="27.9" font-size="5.6" text-anchor="middle" textLength="2.9" lengthAdjust="spacingAndGlyphs">5</text>
<text x="105.5" y="27.9" font-size="5.6" text-anchor="middle" textLength="2.9" lengthAdjust="spacingAndGlyphs">6</text>
<text x="115.5" y="27.9" font-size="5.6" text-anchor="middle" textLength="2.9" lengthAdjust="spacingAndGlyphs">7</text>
<text x="125.5" y="27.9" font-size="5.6" text-anchor="middle" textLength="2.9" lengthAdjust="spacingAndGlyphs">8</text>
<text x="136" y="27.9" font-size="5.6" text-anchor="middle" textLength="2.9" lengthAdjust="spacingAndGlyphs">9</text>
<text x="146.5" y="27.9" font-size="5.6" text-anchor="middle" textLength="5.8" lengthAdjust="spacingAndGlyphs">10</text>
<text x="156.5" y="27.9" font-size="5.6" text-anchor="middle" textLength="5.8" lengthAdjust="spacingAndGlyphs">11</text>
<text x="166.5" y="27.9" font-size="5.6" text-anchor="middle" textLength="5.8" lengthAdjust="spacingAndGlyphs">12</text>
<text x="176.5" y="27.9" font-size="5.6" text-anchor="middle" textLength="5.8" lengthAdjust="spacingAndGlyphs">13</text>
<text x="187" y="27.9" font-size="5.6" text-anchor="middle" textLength="5.8" lengthAdjust="spacingAndGlyphs">14</text>
<text x="197.5" y="27.9" font-size="5.6" text-anchor="middle" textLength="5.8" lengthAdjust="spacingAndGlyphs">15</text>
<text x="207.5" y="27.9" font-size="5.6" text-anchor="middle" textLength="5.8" lengthAdjust="spacingAndGlyphs">16</text>
<text x="217.5" y="27.9" font-size="5.6" text-anchor="middle" textLength="5.8" lengthAdjust="spacingAndGlyphs">17</text>
<text x="227.5" y="27.9" font-size="5.6" text-anchor="middle" textLength="5.8" lengthAdjust="spacingAndGlyphs">18</text>
<text x="238" y="27.9" font-size="5.6" text-anchor="middle" textLength="5.8" lengthAdjust="spacingAndGlyphs">19</text>
<text x="248.5" y="27.9" font-size="5.6" text-anchor="middle" textLength="5.8" lengthAdjust="spacingAndGlyphs">20</text>
<text x="258.5" y="27.9" font-size="5.6" text-anchor="middle" textLength="5.8" lengthAdjust="spacingAndGlyphs">21</text>
<text x="268.5" y="27.9" font-size="5.6" text-anchor="middle" textLength="5.8" lengthAdjust="spacingAndGlyphs">22</text>
<text x="279" y="27.9" font-size="5.6" text-anchor="middle" textLength="5.8" lengthAdjust="spacingAndGlyphs">23</text>
<text x="289.5" y="27.9" font-size="5.6" text-anchor="middle" textLength="5.8" lengthAdjust="spacingAndGlyphs">24</text>
<text x="299.5" y="27.9" font-size="5.6" text-anchor="middle" textLength="5.8" lengthAdjust="spacingAndGlyphs">25</text>
<text x="309.5" y="27.9" font-size="5.6" text-anchor="middle" textLength="5.8" lengthAdjust="spacingAndGlyphs">26</text>
<text x="319.5" y="27.9" font-size="5.6" text-anchor="middle" textLength="5.8" lengthAdjust="spacingAndGlyphs">27</text>
<text x="329.5" y="27.9" font-size="5.6" text-anchor="middle" textLength="5.8" lengthAdjust="spacingAndGlyphs">28</text>
<text x="340" y="27.9" font-size="5.6" text-anchor="middle" textLength="5.8" lengthAdjust="spacingAndGlyphs">29</text>
<text x="350.5" y="27.9" font-size="5.6" text-anchor="middle" textLength="5.8" lengthAdjust="spacingAndGlyphs">30</text>
<text x="360.5" y="27.9" font-size="5.6" text-anchor="middle" textLength="5.8" lengthAdjust="spacingAndGlyphs">31</text>
<text x="370.5" y="27.9" font-size="5.6" text-anchor="middle" textLength="2.9" lengthAdjust="spacingAndGlyphs">1</text>
<text x="380.5" y="27.9" font-size="5.6" text-anchor="middle" textLength="2.9" lengthAdjust="spacingAndGlyphs">2</text>
<text x="391" y="27.9" font-size="5.6" text-anchor="middle" textLength="2.9" lengthAdjust="spacingAndGlyphs">3</text>
<text x="401.5" y="27.9" font-size="5.6" text-anchor="middle" textLength="2.9" lengthAdjust="spacingAndGlyphs">4</text>
<text x="411.5" y="27.9" font-size="5.6" text-anchor="middle" textLength="2.9" lengthAdjust="spacingAndGlyphs">5</text>
<text x="421.5" y="27.9" font-size="5.6" text-anchor="middle" textLength="2.9" lengthAdjust="spacingAndGlyphs">6</text>
<text x="431.5" y="27.9" font-size="5.6" text-anchor="middle" textLength="2.9" lengthAdjust="spacingAndGlyphs">7</text>
<text x="442" y="27.9" font-size="5.6" text-anchor="middle" textLength="2.9" lengthAdjust="spacingAndGlyphs">8</text>
<text x="452.5" y="27.9" font-size="5.6" text-anchor="middle" textLength="2.9" lengthAdjust="spacingAndGlyphs">9</text>
<text x="462.5" y="27.9" font-size="5.6" text-anchor="middle" textLength="5.8" lengthAdjust="spacingAndGlyphs">10</text>
<text x="472.5" y="27.9" font-size="5.6" text-anchor="middle" textLength="5.8" lengthAdjust="spacingAndGlyphs">11</text>
<text x="483" y="27.9" font-size="5.6" text-anchor="middle" textLength="5.8" lengthAdjust="spacingAndGlyphs">12</text>
<text x="493.5" y="27.9" font-size="5.6" text-anchor="middle" textLength="5.8" lengthAdjust="spacingAndGlyphs">13</text>
<text x="503.5" y="27.9" font-size="5.6" text-anchor="middle" textLength="5.8" lengthAdjust="spacingAndGlyphs">14</text>
<text x="513.5" y="27.9" font-size="5.6" text-anchor="middle" textLength="5.8" lengthAdjust="spacingAndGlyphs">15</text>
<text x="523.5" y="27.9" font-size="5.6" text-anchor="middle" textLength="5.8" lengthAdjust="spacingAndGlyphs">16</text>
<text x="534" y="27.9" font-size="5.6" text-anchor="middle" textLength="5.8" lengthAdjust="spacingAndGlyphs">17</text>
<text x="544.5" y="27.9" font-size="5.6" text-anchor="middle" textLength="5.8" lengthAdjust="spacingAndGlyphs">18</text>
<text x="554.5" y="27.9" font-size="5.6" text-anchor="middle" textLength="5.8" lengthAdjust="spacingAndGlyphs">19</text>
<text x="564.5" y="27.9" font-size="5.6" text-anchor="middle" textLength="5.8" lengthAdjust="spacingAndGlyphs">20</text>
<text x="575" y="27.9" font-size="5.6" text-anchor="middle" textLength="5.8" lengthAdjust="spacingAndGlyphs">21</text>
<text x="585.5" y="27.9" font-size="5.6" text-anchor="middle" textLength="5.8" lengthAdjust="spacingAndGlyphs">22</text>
<text x="595.5" y="27.9" font-size="5.6" text-anchor="middle" textLength="5.8" lengthAdjust="spacingAndGlyphs">23</text>
<text x="605.5" y="27.9" font-size="5.6" text-anchor="middle" textLength="5.8" lengthAdjust="spacingAndGlyphs">24</text>
<text x="615.5" y="27.9" font-size="5.6" text-anchor="middle" textLength="5.8" lengthAdjust="spacingAndGlyphs">25</text>
<text x="625.5" y="27.9" font-size="5.6" text-anchor="middle" textLength="5.8" lengthAdjust="spacingAndGlyphs">26</text>
<text x="636" y="27.9" font-size="5.6" text-anchor="middle" textLength="5.8" lengthAdjust="spacingAndGlyphs">27</text>
<text x="646.5" y="27.9" font-size="5.6" text-anchor="middle" textLength="5.8" lengthAdjust="spacingAndGlyphs">28</text>
<text x="656.5" y="27.9" font-size="5.6" text-anchor="middle" textLength="5.8" lengthAdjust="spacingAndGlyphs">29</text>
<text x="667.5" y="27.9" font-size="5.6" text-anchor="middle" textLength="5.8" lengthAdjust="spacingAndGlyphs">30</text>
<text x="678.5" y="27.9" font-size="5.6" text-anchor="middle" textLength="5.8" lengthAdjust="spacingAndGlyphs">31</text>
<text x="688.5" y="27.9" font-size="5.6" text-anchor="middle" textLength="2.9" lengthAdjust="spacingAndGlyphs">1</text>
<text x="698.5" y="27.9" font-size="5.6" text-anchor="middle" textLength="2.9" lengthAdjust="spacingAndGlyphs">2</text>
<text x="708.5" y="27.9" font-size="5.6" text-anchor="middle" textLength="2.9" lengthAdjust="spacingAndGlyphs">3</text>
<text x="719" y="27.9" font-size="5.6" text-anchor="middle" textLength="2.9" lengthAdjust="spacingAndGlyphs">4</text>
<text x="729.5" y="27.9" font-size="5.6" text-anchor="middle" textLength="2.9" lengthAdjust="spacingAndGlyphs">5</text>
<text x="739.5" y="27.9" font-size="5.6" text-anchor="middle" textLength="2.9" lengthAdjust="spacingAndGlyphs">6</text>
<text x="749.5" y="27.9" font-size="5.6" text-anchor="middle" textLength="2.9" lengthAdjust="spacingAndGlyphs">7</text>
<text x="759.5" y="27.9" font-size="5.6" text-anchor="middle" textLength="2.9" lengthAdjust="spacingAndGlyphs">8</text>
<text x="770" y="27.9" font-size="5.6" text-anchor="middle" textLength="2.9" lengthAdjust="spacingAndGlyphs">9</text>
<text x="780.5" y="27.9" font-size="5.6" text-anchor="middle" textLength="5.8" lengthAdjust="spacingAndGlyphs">10</text>
<text x="790.5" y="27.9" font-size="5.6" text-anchor="middle" textLength="5.8" lengthAdjust="spacingAndGlyphs">11</text>
<text x="801.5" y="27.9" font-size="5.6" text-anchor="middle" textLength="5.8" lengthAdjust="spacingAndGlyphs">12</text>
<text x="812.5" y="27.9" font-size="5.6" text-anchor="middle" textLength="5.8" lengthAdjust="spacingAndGlyphs">13</text>
<text x="822.5" y="27.9" font-size="5.6" text-anchor="middle" textLength="5.8" lengthAdjust="spacingAndGlyphs">14</text>
<text x="833" y="27.9" font-size="5.6" text-anchor="middle" textLength="5.8" lengthAdjust="spacingAndGlyphs">15</text>
<text x="843.5" y="27.9" font-size="5.6" text-anchor="middle" textLength="5.8" lengthAdjust="spacingAndGlyphs">16</text>
<text x="853.5" y="27.9" font-size="5.6" text-anchor="middle" textLength="5.8" lengthAdjust="spacingAndGlyphs">17</text>
<text x="863.5" y="27.9" font-size="5.6" text-anchor="middle" textLength="5.8" lengthAdjust="spacingAndGlyphs">18</text>
<text x="874" y="27.9" font-size="5.6" text-anchor="middle" textLength="5.8" lengthAdjust="spacingAndGlyphs">19</text>
<text x="884.5" y="27.9" font-size="5.6" text-anchor="middle" textLength="5.8" lengthAdjust="spacingAndGlyphs">20</text>
<text x="894.5" y="27.9" font-size="5.6" text-anchor="middle" textLength="5.8" lengthAdjust="spacingAndGlyphs">21</text>
<text x="904.5" y="27.9" font-size="5.6" text-anchor="middle" textLength="5.8" lengthAdjust="spacingAndGlyphs">22</text>
<text x="915" y="27.9" font-size="5.6" text-anchor="middle" textLength="5.8" lengthAdjust="spacingAndGlyphs">23</text>
<text x="925.5" y="27.9" font-size="5.6" text-anchor="middle" textLength="5.8" lengthAdjust="spacingAndGlyphs">24</text>
<text x="935.5" y="27.9" font-size="5.6" text-anchor="middle" textLength="5.8" lengthAdjust="spacingAndGlyphs">25</text>
<text x="945.5" y="27.9" font-size="5.6" text-anchor="middle" textLength="5.8" lengthAdjust="spacingAndGlyphs">26</text>
<text x="955.5" y="27.9" font-size="5.6" text-anchor="middle" textLength="5.8" lengthAdjust="spacingAndGlyphs">27</text>
<text x="965.5" y="27.9" font-size="5.6" text-anchor="middle" textLength="5.8" lengthAdjust="spacingAndGlyphs">28</text>
<text x="976" y="27.9" font-size="5.6" text-anchor="middle" textLength="5.8" lengthAdjust="spacingAndGlyphs">29</text>
<text x="986.5" y="27.9" font-size="5.6" text-anchor="middle" textLength="5.8" lengthAdjust="spacingAndGlyphs">30</text>
<text x="206.6" y="20" font-size="5.2" text-anchor="middle" textLength="22.7" lengthAdjust="spacingAndGlyphs">JULY 2025</text>
<text x="524" y="20" font-size="5.2" text-anchor="middle" textLength="31.9" lengthAdjust="spacingAndGlyphs">AUGUST 2025</text>
<text x="837" y="20" font-size="5.2" text-anchor="middle" textLength="39.9" lengthAdjust="spacingAndGlyphs">SEPTEMBER 2025</text>
<text x="22.3" y="38.9" font-size="7.8" stroke="#000" stroke-width="0.25" text-anchor="middle" textLength="25" lengthAdjust="spacingAndGlyphs">A Track</text>
<text x="22.3" y="52" font-size="7.8" stroke="#000" stroke-width="0.25" text-anchor="middle" textLength="25" lengthAdjust="spacingAndGlyphs">B Track</text>
<text x="22.3" y="64.7" font-size="7.8" stroke="#000" stroke-width="0.25" text-anchor="middle" textLength="25" lengthAdjust="spacingAndGlyphs">C Track</text>
<text x="22.3" y="77.9" font-size="7.8" stroke="#000" stroke-width="0.25" text-anchor="middle" textLength="25" lengthAdjust="spacingAndGlyphs">D Track</text>
<text x="22.3" y="89.6" font-size="7.8" stroke="#000" stroke-width="0.25" text-anchor="middle" textLength="23.2" lengthAdjust="spacingAndGlyphs">MT Cal</text>
<text x="22.3" y="102.8" font-size="7.8" stroke="#000" stroke-width="0.25" text-anchor="middle" textLength="16" lengthAdjust="spacingAndGlyphs">T Cal</text>
<text x="74.5" y="180.4" font-size="5.6" stroke="#000" stroke-width="0.35" text-anchor="middle">r</text>
<text x="146.8" y="199" font-size="4.4" fill="#fff" stroke="#fff" stroke-width="0.2" text-anchor="middle" textLength="2.8" lengthAdjust="spacingAndGlyphs">R</text>
<text x="146.3" y="205.5" font-size="4.2" stroke="#000" stroke-width="0.25" text-anchor="middle" textLength="7.2" lengthAdjust="spacingAndGlyphs">7-12</text>
<text x="360.5" y="141.4" font-size="5.6" stroke="#000" stroke-width="0.35" text-anchor="middle">r</text>
<text x="360.5" y="154.4" font-size="5.6" stroke="#000" stroke-width="0.35" text-anchor="middle">r</text>
<text x="360.5" y="167.4" font-size="5.6" stroke="#000" stroke-width="0.35" text-anchor="middle">r</text>
<text x="431.5" y="193.4" font-size="5.6" stroke="#000" stroke-width="0.35" text-anchor="middle">P</text>
<text x="431.5" y="206.4" font-size="5.6" stroke="#000" stroke-width="0.35" text-anchor="middle">P</text>
<text x="503.5" y="193.4" font-size="5.0" stroke="#000" stroke-width="0.3" text-anchor="middle">r</text>
<text x="503.5" y="206.4" font-size="5.0" fill="#fff" stroke="#fff" stroke-width="0.3" text-anchor="middle">r</text>
<text x="534" y="193.4" font-size="5.6" stroke="#000" stroke-width="0.35" text-anchor="middle">C</text>
<text x="534" y="206.4" font-size="5.6" stroke="#000" stroke-width="0.35" text-anchor="middle">C</text>
<text x="544.5" y="193.4" font-size="5.6" stroke="#000" stroke-width="0.35" text-anchor="middle">C</text>
<text x="544.5" y="206.4" font-size="5.6" stroke="#000" stroke-width="0.35" text-anchor="middle">C</text>
<text x="554.5" y="193.4" font-size="5.6" stroke="#000" stroke-width="0.35" text-anchor="middle">C</text>
<text x="554.5" y="206.4" font-size="5.6" stroke="#000" stroke-width="0.35" text-anchor="middle">C</text>
<text x="564.5" y="193.4" font-size="5.6" stroke="#000" stroke-width="0.35" text-anchor="middle">C</text>
<text x="564.5" y="206.4" font-size="5.6" stroke="#000" stroke-width="0.35" text-anchor="middle">C</text>
<text x="575" y="206.1" font-size="4.2" stroke="#000" stroke-width="0.3" text-anchor="middle" textLength="8.4" lengthAdjust="spacingAndGlyphs">TK-6</text>
<text x="863.5" y="206.4" font-size="5.6" stroke="#000" stroke-width="0.35" text-anchor="middle">R</text>
<text x="54.5" y="127.9" font-size="5.6" text-anchor="middle" textLength="2.9" lengthAdjust="spacingAndGlyphs">1</text>
<text x="64.5" y="127.9" font-size="5.6" text-anchor="middle" textLength="2.9" lengthAdjust="spacingAndGlyphs">2</text>
<text x="74.5" y="127.9" font-size="5.6" text-anchor="middle" textLength="2.9" lengthAdjust="spacingAndGlyphs">3</text>
<text x="85" y="127.9" font-size="5.6" text-anchor="middle" textLength="2.9" lengthAdjust="spacingAndGlyphs">4</text>
<text x="95.5" y="127.9" font-size="5.6" text-anchor="middle" textLength="2.9" lengthAdjust="spacingAndGlyphs">5</text>
<text x="105.5" y="127.9" font-size="5.6" text-anchor="middle" textLength="2.9" lengthAdjust="spacingAndGlyphs">6</text>
<text x="115.5" y="127.9" font-size="5.6" text-anchor="middle" textLength="2.9" lengthAdjust="spacingAndGlyphs">7</text>
<text x="125.5" y="127.9" font-size="5.6" text-anchor="middle" textLength="2.9" lengthAdjust="spacingAndGlyphs">8</text>
<text x="136" y="127.9" font-size="5.6" text-anchor="middle" textLength="2.9" lengthAdjust="spacingAndGlyphs">9</text>
<text x="146.5" y="127.9" font-size="5.6" text-anchor="middle" textLength="5.8" lengthAdjust="spacingAndGlyphs">10</text>
<text x="156.5" y="127.9" font-size="5.6" text-anchor="middle" textLength="5.8" lengthAdjust="spacingAndGlyphs">11</text>
<text x="166.5" y="127.9" font-size="5.6" text-anchor="middle" textLength="5.8" lengthAdjust="spacingAndGlyphs">12</text>
<text x="176.5" y="127.9" font-size="5.6" text-anchor="middle" textLength="5.8" lengthAdjust="spacingAndGlyphs">13</text>
<text x="187" y="127.9" font-size="5.6" text-anchor="middle" textLength="5.8" lengthAdjust="spacingAndGlyphs">14</text>
<text x="197.5" y="127.9" font-size="5.6" text-anchor="middle" textLength="5.8" lengthAdjust="spacingAndGlyphs">15</text>
<text x="207.5" y="127.9" font-size="5.6" text-anchor="middle" textLength="5.8" lengthAdjust="spacingAndGlyphs">16</text>
<text x="217.5" y="127.9" font-size="5.6" text-anchor="middle" textLength="5.8" lengthAdjust="spacingAndGlyphs">17</text>
<text x="227.5" y="127.9" font-size="5.6" text-anchor="middle" textLength="5.8" lengthAdjust="spacingAndGlyphs">18</text>
<text x="238" y="127.9" font-size="5.6" text-anchor="middle" textLength="5.8" lengthAdjust="spacingAndGlyphs">19</text>
<text x="248.5" y="127.9" font-size="5.6" text-anchor="middle" textLength="5.8" lengthAdjust="spacingAndGlyphs">20</text>
<text x="258.5" y="127.9" font-size="5.6" text-anchor="middle" textLength="5.8" lengthAdjust="spacingAndGlyphs">21</text>
<text x="268.5" y="127.9" font-size="5.6" text-anchor="middle" textLength="5.8" lengthAdjust="spacingAndGlyphs">22</text>
<text x="279" y="127.9" font-size="5.6" text-anchor="middle" textLength="5.8" lengthAdjust="spacingAndGlyphs">23</text>
<text x="289.5" y="127.9" font-size="5.6" text-anchor="middle" textLength="5.8" lengthAdjust="spacingAndGlyphs">24</text>
<text x="299.5" y="127.9" font-size="5.6" text-anchor="middle" textLength="5.8" lengthAdjust="spacingAndGlyphs">25</text>
<text x="309.5" y="127.9" font-size="5.6" text-anchor="middle" textLength="5.8" lengthAdjust="spacingAndGlyphs">26</text>
<text x="319.5" y="127.9" font-size="5.6" text-anchor="middle" textLength="5.8" lengthAdjust="spacingAndGlyphs">27</text>
<text x="329.5" y="127.9" font-size="5.6" text-anchor="middle" textLength="5.8" lengthAdjust="spacingAndGlyphs">28</text>
<text x="340" y="127.9" font-size="5.6" text-anchor="middle" textLength="5.8" lengthAdjust="spacingAndGlyphs">29</text>
<text x="350.5" y="127.9" font-size="5.6" text-anchor="middle" textLength="5.8" lengthAdjust="spacingAndGlyphs">30</text>
<text x="360.5" y="127.9" font-size="5.6" text-anchor="middle" textLength="5.8" lengthAdjust="spacingAndGlyphs">31</text>
<text x="370.5" y="127.9" font-size="5.6" text-anchor="middle" textLength="2.9" lengthAdjust="spacingAndGlyphs">1</text>
<text x="380.5" y="127.9" font-size="5.6" text-anchor="middle" textLength="2.9" lengthAdjust="spacingAndGlyphs">2</text>
<text x="391" y="127.9" font-size="5.6" text-anchor="middle" textLength="2.9" lengthAdjust="spacingAndGlyphs">3</text>
<text x="401.5" y="127.9" font-size="5.6" text-anchor="middle" textLength="2.9" lengthAdjust="spacingAndGlyphs">4</text>
<text x="411.5" y="127.9" font-size="5.6" text-anchor="middle" textLength="2.9" lengthAdjust="spacingAndGlyphs">5</text>
<text x="421.5" y="127.9" font-size="5.6" text-anchor="middle" textLength="2.9" lengthAdjust="spacingAndGlyphs">6</text>
<text x="431.5" y="127.9" font-size="5.6" text-anchor="middle" textLength="2.9" lengthAdjust="spacingAndGlyphs">7</text>
<text x="442" y="127.9" font-size="5.6" text-anchor="middle" textLength="2.9" lengthAdjust="spacingAndGlyphs">8</text>
<text x="452.5" y="127.9" font-size="5.6" text-anchor="middle" textLength="2.9" lengthAdjust="spacingAndGlyphs">9</text>
<text x="462.5" y="127.9" font-size="5.6" text-anchor="middle" textLength="5.8" lengthAdjust="spacingAndGlyphs">10</text>
<text x="472.5" y="127.9" font-size="5.6" text-anchor="middle" textLength="5.8" lengthAdjust="spacingAndGlyphs">11</text>
<text x="483" y="127.9" font-size="5.6" text-anchor="middle" textLength="5.8" lengthAdjust="spacingAndGlyphs">12</text>
<text x="493.5" y="127.9" font-size="5.6" text-anchor="middle" textLength="5.8" lengthAdjust="spacingAndGlyphs">13</text>
<text x="503.5" y="127.9" font-size="5.6" text-anchor="middle" textLength="5.8" lengthAdjust="spacingAndGlyphs">14</text>
<text x="513.5" y="127.9" font-size="5.6" text-anchor="middle" textLength="5.8" lengthAdjust="spacingAndGlyphs">15</text>
<text x="523.5" y="127.9" font-size="5.6" text-anchor="middle" textLength="5.8" lengthAdjust="spacingAndGlyphs">16</text>
<text x="534" y="127.9" font-size="5.6" text-anchor="middle" textLength="5.8" lengthAdjust="spacingAndGlyphs">17</text>
<text x="544.5" y="127.9" font-size="5.6" text-anchor="middle" textLength="5.8" lengthAdjust="spacingAndGlyphs">18</text>
<text x="554.5" y="127.9" font-size="5.6" text-anchor="middle" textLength="5.8" lengthAdjust="spacingAndGlyphs">19</text>
<text x="564.5" y="127.9" font-size="5.6" text-anchor="middle" textLength="5.8" lengthAdjust="spacingAndGlyphs">20</text>
<text x="575" y="127.9" font-size="5.6" text-anchor="middle" textLength="5.8" lengthAdjust="spacingAndGlyphs">21</text>
<text x="585.5" y="127.9" font-size="5.6" text-anchor="middle" textLength="5.8" lengthAdjust="spacingAndGlyphs">22</text>
<text x="595.5" y="127.9" font-size="5.6" text-anchor="middle" textLength="5.8" lengthAdjust="spacingAndGlyphs">23</text>
<text x="605.5" y="127.9" font-size="5.6" text-anchor="middle" textLength="5.8" lengthAdjust="spacingAndGlyphs">24</text>
<text x="615.5" y="127.9" font-size="5.6" text-anchor="middle" textLength="5.8" lengthAdjust="spacingAndGlyphs">25</text>
<text x="625.5" y="127.9" font-size="5.6" text-anchor="middle" textLength="5.8" lengthAdjust="spacingAndGlyphs">26</text>
<text x="636" y="127.9" font-size="5.6" text-anchor="middle" textLength="5.8" lengthAdjust="spacingAndGlyphs">27</text>
<text x="646.5" y="127.9" font-size="5.6" text-anchor="middle" textLength="5.8" lengthAdjust="spacingAndGlyphs">28</text>
<text x="656.5" y="127.9" font-size="5.6" text-anchor="middle" textLength="5.8" lengthAdjust="spacingAndGlyphs">29</text>
<text x="667.5" y="127.9" font-size="5.6" text-anchor="middle" textLength="5.8" lengthAdjust="spacingAndGlyphs">30</text>
<text x="678.5" y="127.9" font-size="5.6" text-anchor="middle" textLength="2.9" lengthAdjust="spacingAndGlyphs">1</text>
<text x="688.5" y="127.9" font-size="5.6" text-anchor="middle" textLength="2.9" lengthAdjust="spacingAndGlyphs">2</text>
<text x="698.5" y="127.9" font-size="5.6" text-anchor="middle" textLength="2.9" lengthAdjust="spacingAndGlyphs">3</text>
<text x="708.5" y="127.9" font-size="5.6" text-anchor="middle" textLength="2.9" lengthAdjust="spacingAndGlyphs">4</text>
<text x="719" y="127.9" font-size="5.6" text-anchor="middle" textLength="2.9" lengthAdjust="spacingAndGlyphs">5</text>
<text x="729.5" y="127.9" font-size="5.6" text-anchor="middle" textLength="2.9" lengthAdjust="spacingAndGlyphs">6</text>
<text x="739.5" y="127.9" font-size="5.6" text-anchor="middle" textLength="2.9" lengthAdjust="spacingAndGlyphs">7</text>
<text x="749.5" y="127.9" font-size="5.6" text-anchor="middle" textLength="2.9" lengthAdjust="spacingAndGlyphs">8</text>
<text x="759.5" y="127.9" font-size="5.6" text-anchor="middle" textLength="2.9" lengthAdjust="spacingAndGlyphs">9</text>
<text x="770" y="127.9" font-size="5.6" text-anchor="middle" textLength="5.8" lengthAdjust="spacingAndGlyphs">10</text>
<text x="780.5" y="127.9" font-size="5.6" text-anchor="middle" textLength="5.8" lengthAdjust="spacingAndGlyphs">11</text>
<text x="790.5" y="127.9" font-size="5.6" text-anchor="middle" textLength="5.8" lengthAdjust="spacingAndGlyphs">12</text>
<text x="801.5" y="127.9" font-size="5.6" text-anchor="middle" textLength="5.8" lengthAdjust="spacingAndGlyphs">13</text>
<text x="812.5" y="127.9" font-size="5.6" text-anchor="middle" textLength="5.8" lengthAdjust="spacingAndGlyphs">14</text>
<text x="822.5" y="127.9" font-size="5.6" text-anchor="middle" textLength="5.8" lengthAdjust="spacingAndGlyphs">15</text>
<text x="833" y="127.9" font-size="5.6" text-anchor="middle" textLength="5.8" lengthAdjust="spacingAndGlyphs">16</text>
<text x="843.5" y="127.9" font-size="5.6" text-anchor="middle" textLength="5.8" lengthAdjust="spacingAndGlyphs">17</text>
<text x="853.5" y="127.9" font-size="5.6" text-anchor="middle" textLength="5.8" lengthAdjust="spacingAndGlyphs">18</text>
<text x="863.5" y="127.9" font-size="5.6" text-anchor="middle" textLength="5.8" lengthAdjust="spacingAndGlyphs">19</text>
<text x="874" y="127.9" font-size="5.6" text-anchor="middle" textLength="5.8" lengthAdjust="spacingAndGlyphs">20</text>
<text x="884.5" y="127.9" font-size="5.6" text-anchor="middle" textLength="5.8" lengthAdjust="spacingAndGlyphs">21</text>
<text x="894.5" y="127.9" font-size="5.6" text-anchor="middle" textLength="5.8" lengthAdjust="spacingAndGlyphs">22</text>
<text x="904.5" y="127.9" font-size="5.6" text-anchor="middle" textLength="5.8" lengthAdjust="spacingAndGlyphs">23</text>
<text x="915" y="127.9" font-size="5.6" text-anchor="middle" textLength="5.8" lengthAdjust="spacingAndGlyphs">24</text>
<text x="925.5" y="127.9" font-size="5.6" text-anchor="middle" textLength="5.8" lengthAdjust="spacingAndGlyphs">25</text>
<text x="935.5" y="127.9" font-size="5.6" text-anchor="middle" textLength="5.8" lengthAdjust="spacingAndGlyphs">26</text>
<text x="945.5" y="127.9" font-size="5.6" text-anchor="middle" textLength="5.8" lengthAdjust="spacingAndGlyphs">27</text>
<text x="955.5" y="127.9" font-size="5.6" text-anchor="middle" textLength="5.8" lengthAdjust="spacingAndGlyphs">28</text>
<text x="965.5" y="127.9" font-size="5.6" text-anchor="middle" textLength="5.8" lengthAdjust="spacingAndGlyphs">29</text>
<text x="976" y="127.9" font-size="5.6" text-anchor="middle" textLength="5.8" lengthAdjust="spacingAndGlyphs">30</text>
<text x="986.5" y="127.9" font-size="5.6" text-anchor="middle" textLength="5.8" lengthAdjust="spacingAndGlyphs">31</text>
<text x="202.2" y="120" font-size="5.2" text-anchor="middle" textLength="34.5" lengthAdjust="spacingAndGlyphs">OCTOBER 2025</text>
<text x="514.3" y="120" font-size="5.2" text-anchor="middle" textLength="39.3" lengthAdjust="spacingAndGlyphs">NOVEMBER 2025</text>
<text x="832" y="120" font-size="5.2" text-anchor="middle" textLength="38.1" lengthAdjust="spacingAndGlyphs">DECEMBER 2025</text>
<text x="22.3" y="138.9" font-size="7.8" stroke="#000" stroke-width="0.25" text-anchor="middle" textLength="25" lengthAdjust="spacingAndGlyphs">A Track</text>
<text x="22.3" y="152" font-size="7.8" stroke="#000" stroke-width="0.25" text-anchor="middle" textLength="25" lengthAdjust="spacingAndGlyphs">B Track</text>
<text x="22.3" y="164.7" font-size="7.8" stroke="#000" stroke-width="0.25" text-anchor="middle" textLength="25" lengthAdjust="spacingAndGlyphs">C Track</text>
<text x="22.3" y="177.9" font-size="7.8" stroke="#000" stroke-width="0.25" text-anchor="middle" textLength="25" lengthAdjust="spacingAndGlyphs">D Track</text>
<text x="22.3" y="189.6" font-size="7.8" stroke="#000" stroke-width="0.25" text-anchor="middle" textLength="23.2" lengthAdjust="spacingAndGlyphs">MT Cal</text>
<text x="22.3" y="202.8" font-size="7.8" stroke="#000" stroke-width="0.25" text-anchor="middle" textLength="16" lengthAdjust="spacingAndGlyphs">T Cal</text>
<text x="95.9" y="302.45" font-size="5.6" stroke="#000" stroke-width="0.3" text-anchor="middle" textLength="2.7" lengthAdjust="spacingAndGlyphs">S</text>
<text x="166.9" y="289.95" font-size="5.6" stroke="#000" stroke-width="0.3" text-anchor="middle" textLength="2.7" lengthAdjust="spacingAndGlyphs">S</text>
<text x="421.5" y="280.4" font-size="5.6" stroke="#000" stroke-width="0.35" text-anchor="middle">r</text>
<text x="595.5" y="293.4" font-size="5.6" stroke="#000" stroke-width="0.35" text-anchor="middle">P</text>
<text x="595.5" y="305.4" font-size="5.6" stroke="#000" stroke-width="0.35" text-anchor="middle">P</text>
<text x="708.5" y="241.4" font-size="5.6" stroke="#000" stroke-width="0.35" text-anchor="middle">r</text>
<text x="708.5" y="254.4" font-size="5.6" stroke="#000" stroke-width="0.35" text-anchor="middle">r</text>
<text x="708.5" y="267.4" font-size="5.6" stroke="#000" stroke-width="0.35" text-anchor="middle">r</text>
<text x="708.5" y="293.4" font-size="5.0" stroke="#000" stroke-width="0.3" text-anchor="middle">r</text>
<text x="708.5" y="305.4" font-size="5.0" fill="#fff" stroke="#fff" stroke-width="0.3" text-anchor="middle">r</text>
<text x="739.5" y="293.4" font-size="5.6" stroke="#000" stroke-width="0.35" text-anchor="middle">C</text>
<text x="739.5" y="305.4" font-size="5.6" stroke="#000" stroke-width="0.35" text-anchor="middle">C</text>
<text x="749.5" y="293.4" font-size="5.6" stroke="#000" stroke-width="0.35" text-anchor="middle">C</text>
<text x="749.5" y="305.4" font-size="5.6" stroke="#000" stroke-width="0.35" text-anchor="middle">C</text>
<text x="759.5" y="293.4" font-size="5.6" stroke="#000" stroke-width="0.35" text-anchor="middle">C</text>
<text x="759.5" y="305.4" font-size="5.6" stroke="#000" stroke-width="0.35" text-anchor="middle">C</text>
<text x="770" y="293.4" font-size="5.6" stroke="#000" stroke-width="0.35" text-anchor="middle">C</text>
<text x="770" y="305.4" font-size="5.6" stroke="#000" stroke-width="0.35" text-anchor="middle">C</text>
<text x="780.5" y="305.4" font-size="5.6" stroke="#000" stroke-width="0.35" text-anchor="middle">R</text>
<text x="54.5" y="227.9" font-size="5.6" text-anchor="middle" textLength="2.9" lengthAdjust="spacingAndGlyphs">1</text>
<text x="64.5" y="227.9" font-size="5.6" text-anchor="middle" textLength="2.9" lengthAdjust="spacingAndGlyphs">2</text>
<text x="74.5" y="227.9" font-size="5.6" text-anchor="middle" textLength="2.9" lengthAdjust="spacingAndGlyphs">3</text>
<text x="85" y="227.9" font-size="5.6" text-anchor="middle" textLength="2.9" lengthAdjust="spacingAndGlyphs">4</text>
<text x="95.5" y="227.9" font-size="5.6" text-anchor="middle" textLength="2.9" lengthAdjust="spacingAndGlyphs">5</text>
<text x="105.5" y="227.9" font-size="5.6" text-anchor="middle" textLength="2.9" lengthAdjust="spacingAndGlyphs">6</text>
<text x="115.5" y="227.9" font-size="5.6" text-anchor="middle" textLength="2.9" lengthAdjust="spacingAndGlyphs">7</text>
<text x="125.5" y="227.9" font-size="5.6" text-anchor="middle" textLength="2.9" lengthAdjust="spacingAndGlyphs">8</text>
<text x="136" y="227.9" font-size="5.6" text-anchor="middle" textLength="2.9" lengthAdjust="spacingAndGlyphs">9</text>
<text x="146.5" y="227.9" font-size="5.6" text-anchor="middle" textLength="5.8" lengthAdjust="spacingAndGlyphs">10</text>
<text x="156.5" y="227.9" font-size="5.6" text-anchor="middle" textLength="5.8" lengthAdjust="spacingAndGlyphs">11</text>
<text x="166.5" y="227.9" font-size="5.6" text-anchor="middle" textLength="5.8" lengthAdjust="spacingAndGlyphs">12</text>
<text x="176.5" y="227.9" font-size="5.6" text-anchor="middle" textLength="5.8" lengthAdjust="spacingAndGlyphs">13</text>
<text x="187" y="227.9" font-size="5.6" text-anchor="middle" textLength="5.8" lengthAdjust="spacingAndGlyphs">14</text>
<text x="197.5" y="227.9" font-size="5.6" text-anchor="middle" textLength="5.8" lengthAdjust="spacingAndGlyphs">15</text>
<text x="207.5" y="227.9" font-size="5.6" text-anchor="middle" textLength="5.8" lengthAdjust="spacingAndGlyphs">16</text>
<text x="217.5" y="227.9" font-size="5.6" text-anchor="middle" textLength="5.8" lengthAdjust="spacingAndGlyphs">17</text>
<text x="227.5" y="227.9" font-size="5.6" text-anchor="middle" textLength="5.8" lengthAdjust="spacingAndGlyphs">18</text>
<text x="238" y="227.9" font-size="5.6" text-anchor="middle" textLength="5.8" lengthAdjust="spacingAndGlyphs">19</text>
<text x="248.5" y="227.9" font-size="5.6" text-anchor="middle" textLength="5.8" lengthAdjust="spacingAndGlyphs">20</text>
<text x="258.5" y="227.9" font-size="5.6" text-anchor="middle" textLength="5.8" lengthAdjust="spacingAndGlyphs">21</text>
<text x="268.5" y="227.9" font-size="5.6" text-anchor="middle" textLength="5.8" lengthAdjust="spacingAndGlyphs">22</text>
<text x="279" y="227.9" font-size="5.6" text-anchor="middle" textLength="5.8" lengthAdjust="spacingAndGlyphs">23</text>
<text x="289.5" y="227.9" font-size="5.6" text-anchor="middle" textLength="5.8" lengthAdjust="spacingAndGlyphs">24</text>
<text x="299.5" y="227.9" font-size="5.6" text-anchor="middle" textLength="5.8" lengthAdjust="spacingAndGlyphs">25</text>
<text x="309.5" y="227.9" font-size="5.6" text-anchor="middle" textLength="5.8" lengthAdjust="spacingAndGlyphs">26</text>
<text x="319.5" y="227.9" font-size="5.6" text-anchor="middle" textLength="5.8" lengthAdjust="spacingAndGlyphs">27</text>
<text x="329.5" y="227.9" font-size="5.6" text-anchor="middle" textLength="5.8" lengthAdjust="spacingAndGlyphs">28</text>
<text x="340" y="227.9" font-size="5.6" text-anchor="middle" textLength="5.8" lengthAdjust="spacingAndGlyphs">29</text>
<text x="350.5" y="227.9" font-size="5.6" text-anchor="middle" textLength="5.8" lengthAdjust="spacingAndGlyphs">30</text>
<text x="360.5" y="227.9" font-size="5.6" text-anchor="middle" textLength="5.8" lengthAdjust="spacingAndGlyphs">31</text>
<text x="370.5" y="227.9" font-size="5.6" text-anchor="middle" textLength="2.9" lengthAdjust="spacingAndGlyphs">1</text>
<text x="380.5" y="227.9" font-size="5.6" text-anchor="middle" textLength="2.9" lengthAdjust="spacingAndGlyphs">2</text>
<text x="391" y="227.9" font-size="5.6" text-anchor="middle" textLength="2.9" lengthAdjust="spacingAndGlyphs">3</text>
<text x="401.5" y="227.9" font-size="5.6" text-anchor="middle" textLength="2.9" lengthAdjust="spacingAndGlyphs">4</text>
<text x="411.5" y="227.9" font-size="5.6" text-anchor="middle" textLength="2.9" lengthAdjust="spacingAndGlyphs">5</text>
<text x="421.5" y="227.9" font-size="5.6" text-anchor="middle" textLength="2.9" lengthAdjust="spacingAndGlyphs">6</text>
<text x="431.5" y="227.9" font-size="5.6" text-anchor="middle" textLength="2.9" lengthAdjust="spacingAndGlyphs">7</text>
<text x="442" y="227.9" font-size="5.6" text-anchor="middle" textLength="2.9" lengthAdjust="spacingAndGlyphs">8</text>
<text x="452.5" y="227.9" font-size="5.6" text-anchor="middle" textLength="2.9" lengthAdjust="spacingAndGlyphs">9</text>
<text x="462.5" y="227.9" font-size="5.6" text-anchor="middle" textLength="5.8" lengthAdjust="spacingAndGlyphs">10</text>
<text x="472.5" y="227.9" font-size="5.6" text-anchor="middle" textLength="5.8" lengthAdjust="spacingAndGlyphs">11</text>
<text x="483" y="227.9" font-size="5.6" text-anchor="middle" textLength="5.8" lengthAdjust="spacingAndGlyphs">12</text>
<text x="493.5" y="227.9" font-size="5.6" text-anchor="middle" textLength="5.8" lengthAdjust="spacingAndGlyphs">13</text>
<text x="503.5" y="227.9" font-size="5.6" text-anchor="middle" textLength="5.8" lengthAdjust="spacingAndGlyphs">14</text>
<text x="513.5" y="227.9" font-size="5.6" text-anchor="middle" textLength="5.8" lengthAdjust="spacingAndGlyphs">15</text>
<text x="523.5" y="227.9" font-size="5.6" text-anchor="middle" textLength="5.8" lengthAdjust="spacingAndGlyphs">16</text>
<text x="534" y="227.9" font-size="5.6" text-anchor="middle" textLength="5.8" lengthAdjust="spacingAndGlyphs">17</text>
<text x="544.5" y="227.9" font-size="5.6" text-anchor="middle" textLength="5.8" lengthAdjust="spacingAndGlyphs">18</text>
<text x="554.5" y="227.9" font-size="5.6" text-anchor="middle" textLength="5.8" lengthAdjust="spacingAndGlyphs">19</text>
<text x="564.5" y="227.9" font-size="5.6" text-anchor="middle" textLength="5.8" lengthAdjust="spacingAndGlyphs">20</text>
<text x="575" y="227.9" font-size="5.6" text-anchor="middle" textLength="5.8" lengthAdjust="spacingAndGlyphs">21</text>
<text x="585.5" y="227.9" font-size="5.6" text-anchor="middle" textLength="5.8" lengthAdjust="spacingAndGlyphs">22</text>
<text x="595.5" y="227.9" font-size="5.6" text-anchor="middle" textLength="5.8" lengthAdjust="spacingAndGlyphs">23</text>
<text x="605.5" y="227.9" font-size="5.6" text-anchor="middle" textLength="5.8" lengthAdjust="spacingAndGlyphs">24</text>
<text x="615.5" y="227.9" font-size="5.6" text-anchor="middle" textLength="5.8" lengthAdjust="spacingAndGlyphs">25</text>
<text x="625.5" y="227.9" font-size="5.6" text-anchor="middle" textLength="5.8" lengthAdjust="spacingAndGlyphs">26</text>
<text x="636" y="227.9" font-size="5.6" text-anchor="middle" textLength="5.8" lengthAdjust="spacingAndGlyphs">27</text>
<text x="646.5" y="227.9" font-size="5.6" text-anchor="middle" textLength="5.8" lengthAdjust="spacingAndGlyphs">28</text>
<text x="656.5" y="227.9" font-size="5.6" text-anchor="middle" textLength="2.9" lengthAdjust="spacingAndGlyphs">1</text>
<text x="667.5" y="227.9" font-size="5.6" text-anchor="middle" textLength="2.9" lengthAdjust="spacingAndGlyphs">2</text>
<text x="678.5" y="227.9" font-size="5.6" text-anchor="middle" textLength="2.9" lengthAdjust="spacingAndGlyphs">3</text>
<text x="688.5" y="227.9" font-size="5.6" text-anchor="middle" textLength="2.9" lengthAdjust="spacingAndGlyphs">4</text>
<text x="698.5" y="227.9" font-size="5.6" text-anchor="middle" textLength="2.9" lengthAdjust="spacingAndGlyphs">5</text>
<text x="708.5" y="227.9" font-size="5.6" text-anchor="middle" textLength="2.9" lengthAdjust="spacingAndGlyphs">6</text>
<text x="719" y="227.9" font-size="5.6" text-anchor="middle" textLength="2.9" lengthAdjust="spacingAndGlyphs">7</text>
<text x="729.5" y="227.9" font-size="5.6" text-anchor="middle" textLength="2.9" lengthAdjust="spacingAndGlyphs">8</text>
<text x="739.5" y="227.9" font-size="5.6" text-anchor="middle" textLength="2.9" lengthAdjust="spacingAndGlyphs">9</text>
<text x="749.5" y="227.9" font-size="5.6" text-anchor="middle" textLength="5.8" lengthAdjust="spacingAndGlyphs">10</text>
<text x="759.5" y="227.9" font-size="5.6" text-anchor="middle" textLength="5.8" lengthAdjust="spacingAndGlyphs">11</text>
<text x="770" y="227.9" font-size="5.6" text-anchor="middle" textLength="5.8" lengthAdjust="spacingAndGlyphs">12</text>
<text x="780.5" y="227.9" font-size="5.6" text-anchor="middle" textLength="5.8" lengthAdjust="spacingAndGlyphs">13</text>
<text x="790.5" y="227.9" font-size="5.6" text-anchor="middle" textLength="5.8" lengthAdjust="spacingAndGlyphs">14</text>
<text x="801.5" y="227.9" font-size="5.6" text-anchor="middle" textLength="5.8" lengthAdjust="spacingAndGlyphs">15</text>
<text x="812.5" y="227.9" font-size="5.6" text-anchor="middle" textLength="5.8" lengthAdjust="spacingAndGlyphs">16</text>
<text x="822.5" y="227.9" font-size="5.6" text-anchor="middle" textLength="5.8" lengthAdjust="spacingAndGlyphs">17</text>
<text x="833" y="227.9" font-size="5.6" text-anchor="middle" textLength="5.8" lengthAdjust="spacingAndGlyphs">18</text>
<text x="843.5" y="227.9" font-size="5.6" text-anchor="middle" textLength="5.8" lengthAdjust="spacingAndGlyphs">19</text>
<text x="853.5" y="227.9" font-size="5.6" text-anchor="middle" textLength="5.8" lengthAdjust="spacingAndGlyphs">20</text>
<text x="863.5" y="227.9" font-size="5.6" text-anchor="middle" textLength="5.8" lengthAdjust="spacingAndGlyphs">21</text>
<text x="874" y="227.9" font-size="5.6" text-anchor="middle" textLength="5.8" lengthAdjust="spacingAndGlyphs">22</text>
<text x="884.5" y="227.9" font-size="5.6" text-anchor="middle" textLength="5.8" lengthAdjust="spacingAndGlyphs">23</text>
<text x="894.5" y="227.9" font-size="5.6" text-anchor="middle" textLength="5.8" lengthAdjust="spacingAndGlyphs">24</text>
<text x="904.5" y="227.9" font-size="5.6" text-anchor="middle" textLength="5.8" lengthAdjust="spacingAndGlyphs">25</text>
<text x="915" y="227.9" font-size="5.6" text-anchor="middle" textLength="5.8" lengthAdjust="spacingAndGlyphs">26</text>
<text x="925.5" y="227.9" font-size="5.6" text-anchor="middle" textLength="5.8" lengthAdjust="spacingAndGlyphs">27</text>
<text x="935.5" y="227.9" font-size="5.6" text-anchor="middle" textLength="5.8" lengthAdjust="spacingAndGlyphs">28</text>
<text x="945.5" y="227.9" font-size="5.6" text-anchor="middle" textLength="5.8" lengthAdjust="spacingAndGlyphs">29</text>
<text x="955.5" y="227.9" font-size="5.6" text-anchor="middle" textLength="5.8" lengthAdjust="spacingAndGlyphs">30</text>
<text x="965.5" y="227.9" font-size="5.6" text-anchor="middle" textLength="5.8" lengthAdjust="spacingAndGlyphs">31</text>
<text x="207.2" y="220" font-size="5.2" text-anchor="middle" textLength="34.1" lengthAdjust="spacingAndGlyphs">JANUARY 2026</text>
<text x="508.5" y="220" font-size="5.2" text-anchor="middle" textLength="36.9" lengthAdjust="spacingAndGlyphs">FEBRUARY 2026</text>
<text x="810.8" y="220" font-size="5.2" text-anchor="middle" textLength="29.8" lengthAdjust="spacingAndGlyphs">MARCH 2026</text>
<text x="22.3" y="238.7" font-size="7.8" stroke="#000" stroke-width="0.25" text-anchor="middle" textLength="25" lengthAdjust="spacingAndGlyphs">A Track</text>
<text x="22.3" y="251.8" font-size="7.8" stroke="#000" stroke-width="0.25" text-anchor="middle" textLength="25" lengthAdjust="spacingAndGlyphs">B Track</text>
<text x="22.3" y="264.5" font-size="7.8" stroke="#000" stroke-width="0.25" text-anchor="middle" textLength="25" lengthAdjust="spacingAndGlyphs">C Track</text>
<text x="22.3" y="277.7" font-size="7.8" stroke="#000" stroke-width="0.25" text-anchor="middle" textLength="25" lengthAdjust="spacingAndGlyphs">D Track</text>
<text x="22.3" y="289.4" font-size="7.8" stroke="#000" stroke-width="0.25" text-anchor="middle" textLength="23.2" lengthAdjust="spacingAndGlyphs">MT Cal</text>
<text x="22.3" y="302.6" font-size="7.8" stroke="#000" stroke-width="0.25" text-anchor="middle" textLength="16" lengthAdjust="spacingAndGlyphs">T Cal</text>
<text x="503.5" y="405.4" font-size="5.6" stroke="#000" stroke-width="0.35" text-anchor="middle">P</text>
<text x="646.5" y="380.4" font-size="5.6" stroke="#000" stroke-width="0.35" text-anchor="middle">r</text>
<text x="646.5" y="405.4" font-size="5.2" stroke="#000" stroke-width="0.3" text-anchor="middle" textLength="5.4" lengthAdjust="spacingAndGlyphs">R*</text>
<text x="678.5" y="393.4" font-size="5.6" stroke="#000" stroke-width="0.35" text-anchor="middle">P</text>
<text x="790.5" y="393.4" font-size="5.6" stroke="#000" stroke-width="0.35" text-anchor="middle">r</text>
<text x="935.5" y="341.4" font-size="5.6" stroke="#000" stroke-width="0.35" text-anchor="middle">r</text>
<text x="935.5" y="354.4" font-size="5.6" stroke="#000" stroke-width="0.35" text-anchor="middle">r</text>
<text x="935.5" y="367.4" font-size="5.6" stroke="#000" stroke-width="0.35" text-anchor="middle">r</text>
<text x="54.5" y="327.9" font-size="5.6" text-anchor="middle" textLength="2.9" lengthAdjust="spacingAndGlyphs">1</text>
<text x="64.5" y="327.9" font-size="5.6" text-anchor="middle" textLength="2.9" lengthAdjust="spacingAndGlyphs">2</text>
<text x="74.5" y="327.9" font-size="5.6" text-anchor="middle" textLength="2.9" lengthAdjust="spacingAndGlyphs">3</text>
<text x="85" y="327.9" font-size="5.6" text-anchor="middle" textLength="2.9" lengthAdjust="spacingAndGlyphs">4</text>
<text x="95.5" y="327.9" font-size="5.6" text-anchor="middle" textLength="2.9" lengthAdjust="spacingAndGlyphs">5</text>
<text x="105.5" y="327.9" font-size="5.6" text-anchor="middle" textLength="2.9" lengthAdjust="spacingAndGlyphs">6</text>
<text x="115.5" y="327.9" font-size="5.6" text-anchor="middle" textLength="2.9" lengthAdjust="spacingAndGlyphs">7</text>
<text x="125.5" y="327.9" font-size="5.6" text-anchor="middle" textLength="2.9" lengthAdjust="spacingAndGlyphs">8</text>
<text x="136" y="327.9" font-size="5.6" text-anchor="middle" textLength="2.9" lengthAdjust="spacingAndGlyphs">9</text>
<text x="146.5" y="327.9" font-size="5.6" text-anchor="middle" textLength="5.8" lengthAdjust="spacingAndGlyphs">10</text>
<text x="156.5" y="327.9" font-size="5.6" text-anchor="middle" textLength="5.8" lengthAdjust="spacingAndGlyphs">11</text>
<text x="166.5" y="327.9" font-size="5.6" text-anchor="middle" textLength="5.8" lengthAdjust="spacingAndGlyphs">12</text>
<text x="176.5" y="327.9" font-size="5.6" text-anchor="middle" textLength="5.8" lengthAdjust="spacingAndGlyphs">13</text>
<text x="187" y="327.9" font-size="5.6" text-anchor="middle" textLength="5.8" lengthAdjust="spacingAndGlyphs">14</text>
<text x="197.5" y="327.9" font-size="5.6" text-anchor="middle" textLength="5.8" lengthAdjust="spacingAndGlyphs">15</text>
<text x="207.5" y="327.9" font-size="5.6" text-anchor="middle" textLength="5.8" lengthAdjust="spacingAndGlyphs">16</text>
<text x="217.5" y="327.9" font-size="5.6" text-anchor="middle" textLength="5.8" lengthAdjust="spacingAndGlyphs">17</text>
<text x="227.5" y="327.9" font-size="5.6" text-anchor="middle" textLength="5.8" lengthAdjust="spacingAndGlyphs">18</text>
<text x="238" y="327.9" font-size="5.6" text-anchor="middle" textLength="5.8" lengthAdjust="spacingAndGlyphs">19</text>
<text x="248.5" y="327.9" font-size="5.6" text-anchor="middle" textLength="5.8" lengthAdjust="spacingAndGlyphs">20</text>
<text x="258.5" y="327.9" font-size="5.6" text-anchor="middle" textLength="5.8" lengthAdjust="spacingAndGlyphs">21</text>
<text x="268.5" y="327.9" font-size="5.6" text-anchor="middle" textLength="5.8" lengthAdjust="spacingAndGlyphs">22</text>
<text x="279" y="327.9" font-size="5.6" text-anchor="middle" textLength="5.8" lengthAdjust="spacingAndGlyphs">23</text>
<text x="289.5" y="327.9" font-size="5.6" text-anchor="middle" textLength="5.8" lengthAdjust="spacingAndGlyphs">24</text>
<text x="299.5" y="327.9" font-size="5.6" text-anchor="middle" textLength="5.8" lengthAdjust="spacingAndGlyphs">25</text>
<text x="309.5" y="327.9" font-size="5.6" text-anchor="middle" textLength="5.8" lengthAdjust="spacingAndGlyphs">26</text>
<text x="319.5" y="327.9" font-size="5.6" text-anchor="middle" textLength="5.8" lengthAdjust="spacingAndGlyphs">27</text>
<text x="329.5" y="327.9" font-size="5.6" text-anchor="middle" textLength="5.8" lengthAdjust="spacingAndGlyphs">28</text>
<text x="340" y="327.9" font-size="5.6" text-anchor="middle" textLength="5.8" lengthAdjust="spacingAndGlyphs">29</text>
<text x="350.5" y="327.9" font-size="5.6" text-anchor="middle" textLength="5.8" lengthAdjust="spacingAndGlyphs">30</text>
<text x="360.5" y="327.9" font-size="5.6" text-anchor="middle" textLength="2.9" lengthAdjust="spacingAndGlyphs">1</text>
<text x="370.5" y="327.9" font-size="5.6" text-anchor="middle" textLength="2.9" lengthAdjust="spacingAndGlyphs">2</text>
<text x="380.5" y="327.9" font-size="5.6" text-anchor="middle" textLength="2.9" lengthAdjust="spacingAndGlyphs">3</text>
<text x="391" y="327.9" font-size="5.6" text-anchor="middle" textLength="2.9" lengthAdjust="spacingAndGlyphs">4</text>
<text x="401.5" y="327.9" font-size="5.6" text-anchor="middle" textLength="2.9" lengthAdjust="spacingAndGlyphs">5</text>
<text x="411.5" y="327.9" font-size="5.6" text-anchor="middle" textLength="2.9" lengthAdjust="spacingAndGlyphs">6</text>
<text x="421.5" y="327.9" font-size="5.6" text-anchor="middle" textLength="2.9" lengthAdjust="spacingAndGlyphs">7</text>
<text x="431.5" y="327.9" font-size="5.6" text-anchor="middle" textLength="2.9" lengthAdjust="spacingAndGlyphs">8</text>
<text x="442" y="327.9" font-size="5.6" text-anchor="middle" textLength="2.9" lengthAdjust="spacingAndGlyphs">9</text>
<text x="452.5" y="327.9" font-size="5.6" text-anchor="middle" textLength="5.8" lengthAdjust="spacingAndGlyphs">10</text>
<text x="462.5" y="327.9" font-size="5.6" text-anchor="middle" textLength="5.8" lengthAdjust="spacingAndGlyphs">11</text>
<text x="472.5" y="327.9" font-size="5.6" text-anchor="middle" textLength="5.8" lengthAdjust="spacingAndGlyphs">12</text>
<text x="483" y="327.9" font-size="5.6" text-anchor="middle" textLength="5.8" lengthAdjust="spacingAndGlyphs">13</text>
<text x="493.5" y="327.9" font-size="5.6" text-anchor="middle" textLength="5.8" lengthAdjust="spacingAndGlyphs">14</text>
<text x="503.5" y="327.9" font-size="5.6" text-anchor="middle" textLength="5.8" lengthAdjust="spacingAndGlyphs">15</text>
<text x="513.5" y="327.9" font-size="5.6" text-anchor="middle" textLength="5.8" lengthAdjust="spacingAndGlyphs">16</text>
<text x="523.5" y="327.9" font-size="5.6" text-anchor="middle" textLength="5.8" lengthAdjust="spacingAndGlyphs">17</text>
<text x="534" y="327.9" font-size="5.6" text-anchor="middle" textLength="5.8" lengthAdjust="spacingAndGlyphs">18</text>
<text x="544.5" y="327.9" font-size="5.6" text-anchor="middle" textLength="5.8" lengthAdjust="spacingAndGlyphs">19</text>
<text x="554.5" y="327.9" font-size="5.6" text-anchor="middle" textLength="5.8" lengthAdjust="spacingAndGlyphs">20</text>
<text x="564.5" y="327.9" font-size="5.6" text-anchor="middle" textLength="5.8" lengthAdjust="spacingAndGlyphs">21</text>
<text x="575" y="327.9" font-size="5.6" text-anchor="middle" textLength="5.8" lengthAdjust="spacingAndGlyphs">22</text>
<text x="585.5" y="327.9" font-size="5.6" text-anchor="middle" textLength="5.8" lengthAdjust="spacingAndGlyphs">23</text>
<text x="595.5" y="327.9" font-size="5.6" text-anchor="middle" textLength="5.8" lengthAdjust="spacingAndGlyphs">24</text>
<text x="605.5" y="327.9" font-size="5.6" text-anchor="middle" textLength="5.8" lengthAdjust="spacingAndGlyphs">25</text>
<text x="615.5" y="327.9" font-size="5.6" text-anchor="middle" textLength="5.8" lengthAdjust="spacingAndGlyphs">26</text>
<text x="625.5" y="327.9" font-size="5.6" text-anchor="middle" textLength="5.8" lengthAdjust="spacingAndGlyphs">27</text>
<text x="636" y="327.9" font-size="5.6" text-anchor="middle" textLength="5.8" lengthAdjust="spacingAndGlyphs">28</text>
<text x="646.5" y="327.9" font-size="5.6" text-anchor="middle" textLength="5.8" lengthAdjust="spacingAndGlyphs">29</text>
<text x="656.5" y="327.9" font-size="5.6" text-anchor="middle" textLength="5.8" lengthAdjust="spacingAndGlyphs">30</text>
<text x="667.5" y="327.9" font-size="5.6" text-anchor="middle" textLength="5.8" lengthAdjust="spacingAndGlyphs">31</text>
<text x="678.5" y="327.9" font-size="5.6" text-anchor="middle" textLength="2.9" lengthAdjust="spacingAndGlyphs">1</text>
<text x="688.5" y="327.9" font-size="5.6" text-anchor="middle" textLength="2.9" lengthAdjust="spacingAndGlyphs">2</text>
<text x="698.5" y="327.9" font-size="5.6" text-anchor="middle" textLength="2.9" lengthAdjust="spacingAndGlyphs">3</text>
<text x="708.5" y="327.9" font-size="5.6" text-anchor="middle" textLength="2.9" lengthAdjust="spacingAndGlyphs">4</text>
<text x="719" y="327.9" font-size="5.6" text-anchor="middle" textLength="2.9" lengthAdjust="spacingAndGlyphs">5</text>
<text x="729.5" y="327.9" font-size="5.6" text-anchor="middle" textLength="2.9" lengthAdjust="spacingAndGlyphs">6</text>
<text x="739.5" y="327.9" font-size="5.6" text-anchor="middle" textLength="2.9" lengthAdjust="spacingAndGlyphs">7</text>
<text x="749.5" y="327.9" font-size="5.6" text-anchor="middle" textLength="2.9" lengthAdjust="spacingAndGlyphs">8</text>
<text x="759.5" y="327.9" font-size="5.6" text-anchor="middle" textLength="2.9" lengthAdjust="spacingAndGlyphs">9</text>
<text x="770" y="327.9" font-size="5.6" text-anchor="middle" textLength="5.8" lengthAdjust="spacingAndGlyphs">10</text>
<text x="780.5" y="327.9" font-size="5.6" text-anchor="middle" textLength="5.8" lengthAdjust="spacingAndGlyphs">11</text>
<text x="790.5" y="327.9" font-size="5.6" text-anchor="middle" textLength="5.8" lengthAdjust="spacingAndGlyphs">12</text>
<text x="801.5" y="327.9" font-size="5.6" text-anchor="middle" textLength="5.8" lengthAdjust="spacingAndGlyphs">13</text>
<text x="812.5" y="327.9" font-size="5.6" text-anchor="middle" textLength="5.8" lengthAdjust="spacingAndGlyphs">14</text>
<text x="822.5" y="327.9" font-size="5.6" text-anchor="middle" textLength="5.8" lengthAdjust="spacingAndGlyphs">15</text>
<text x="833" y="327.9" font-size="5.6" text-anchor="middle" textLength="5.8" lengthAdjust="spacingAndGlyphs">16</text>
<text x="843.5" y="327.9" font-size="5.6" text-anchor="middle" textLength="5.8" lengthAdjust="spacingAndGlyphs">17</text>
<text x="853.5" y="327.9" font-size="5.6" text-anchor="middle" textLength="5.8" lengthAdjust="spacingAndGlyphs">18</text>
<text x="863.5" y="327.9" font-size="5.6" text-anchor="middle" textLength="5.8" lengthAdjust="spacingAndGlyphs">19</text>
<text x="874" y="327.9" font-size="5.6" text-anchor="middle" textLength="5.8" lengthAdjust="spacingAndGlyphs">20</text>
<text x="884.5" y="327.9" font-size="5.6" text-anchor="middle" textLength="5.8" lengthAdjust="spacingAndGlyphs">21</text>
<text x="894.5" y="327.9" font-size="5.6" text-anchor="middle" textLength="5.8" lengthAdjust="spacingAndGlyphs">22</text>
<text x="904.5" y="327.9" font-size="5.6" text-anchor="middle" textLength="5.8" lengthAdjust="spacingAndGlyphs">23</text>
<text x="915" y="327.9" font-size="5.6" text-anchor="middle" textLength="5.8" lengthAdjust="spacingAndGlyphs">24</text>
<text x="925.5" y="327.9" font-size="5.6" text-anchor="middle" textLength="5.8" lengthAdjust="spacingAndGlyphs">25</text>
<text x="935.5" y="327.9" font-size="5.6" text-anchor="middle" textLength="5.8" lengthAdjust="spacingAndGlyphs">26</text>
<text x="945.5" y="327.9" font-size="5.6" text-anchor="middle" textLength="5.8" lengthAdjust="spacingAndGlyphs">27</text>
<text x="955.5" y="327.9" font-size="5.6" text-anchor="middle" textLength="5.8" lengthAdjust="spacingAndGlyphs">28</text>
<text x="965.5" y="327.9" font-size="5.6" text-anchor="middle" textLength="5.8" lengthAdjust="spacingAndGlyphs">29</text>
<text x="976" y="327.9" font-size="5.6" text-anchor="middle" textLength="5.8" lengthAdjust="spacingAndGlyphs">30</text>
<text x="202" y="320" font-size="5.2" text-anchor="middle" textLength="25.9" lengthAdjust="spacingAndGlyphs">APRIL 2026</text>
<text x="514.2" y="320" font-size="5.2" text-anchor="middle" textLength="23.1" lengthAdjust="spacingAndGlyphs">MAY 2026</text>
<text x="827" y="320" font-size="5.2" text-anchor="middle" textLength="24.9" lengthAdjust="spacingAndGlyphs">JUNE 2026</text>
<text x="22.3" y="338.7" font-size="7.8" stroke="#000" stroke-width="0.25" text-anchor="middle" textLength="25" lengthAdjust="spacingAndGlyphs">A Track</text>
<text x="22.3" y="351.8" font-size="7.8" stroke="#000" stroke-width="0.25" text-anchor="middle" textLength="25" lengthAdjust="spacingAndGlyphs">B Track</text>
<text x="22.3" y="364.5" font-size="7.8" stroke="#000" stroke-width="0.25" text-anchor="middle" textLength="25" lengthAdjust="spacingAndGlyphs">C Track</text>
<text x="22.3" y="377.7" font-size="7.8" stroke="#000" stroke-width="0.25" text-anchor="middle" textLength="25" lengthAdjust="spacingAndGlyphs">D Track</text>
<text x="22.3" y="389.4" font-size="7.8" stroke="#000" stroke-width="0.25" text-anchor="middle" textLength="23.2" lengthAdjust="spacingAndGlyphs">MT Cal</text>
<text x="22.3" y="402.6" font-size="7.8" stroke="#000" stroke-width="0.25" text-anchor="middle" textLength="16" lengthAdjust="spacingAndGlyphs">T Cal</text>
<text x="41.3" y="12" font-size="8.7" textLength="149.7" lengthAdjust="spacingAndGlyphs">ELK GROVE UNIFIED SCHOOL DISTRICT</text>
<text x="478" y="11.9" font-size="7.4" fill="#d0021b" stroke="#d0021b" stroke-width="0.28" textLength="92.2" lengthAdjust="spacingAndGlyphs">BOARD APPROVED 11/19/24</text>
<text x="849.1" y="11.9" font-size="8.4" textLength="140.2" lengthAdjust="spacingAndGlyphs">2025-2026 SCHOOL YEAR CALENDAR</text>
<text x="81.9" y="429.3" font-size="7.4" stroke="#000" stroke-width="0.45" textLength="42.1" lengthAdjust="spacingAndGlyphs">PARENT KEY</text>
<text x="102.1" y="441.2" font-size="5.0" stroke="#000" stroke-width="0.36" textLength="16.8" lengthAdjust="spacingAndGlyphs">A Track</text>
<text x="153.2" y="441.2" font-size="5.0" stroke="#000" stroke-width="0.36" textLength="32.6" lengthAdjust="spacingAndGlyphs">Minimum Day</text>
<text x="102.1" y="454" font-size="5.0" stroke="#000" stroke-width="0.36" textLength="16.6" lengthAdjust="spacingAndGlyphs">B Track</text>
<text x="102.1" y="466.8" font-size="5.0" stroke="#000" stroke-width="0.36" textLength="16.5" lengthAdjust="spacingAndGlyphs">C Track</text>
<text x="135.7" y="466.8" font-size="4.6" stroke="#000" stroke-width="0.3" text-anchor="middle">R</text>
<text x="153.2" y="466.8" font-size="5.0" stroke="#000" stroke-width="0.36" textLength="38.6" lengthAdjust="spacingAndGlyphs">7-12 Report Card</text>
<text x="102.1" y="479.9" font-size="5.0" stroke="#000" stroke-width="0.36" textLength="16.5" lengthAdjust="spacingAndGlyphs">D Track</text>
<text x="135.7" y="479.9" font-size="4.6" stroke="#000" stroke-width="0.3" text-anchor="middle">C</text>
<text x="153.2" y="479.9" font-size="5.0" stroke="#000" stroke-width="0.36" textLength="37.3" lengthAdjust="spacingAndGlyphs">TK-6 Conference</text>
<text x="102.1" y="492.9" font-size="5.0" stroke="#000" stroke-width="0.36" textLength="15.5" lengthAdjust="spacingAndGlyphs">MT Cal</text>
<text x="135.7" y="492.9" font-size="4.6" stroke="#000" stroke-width="0.3" text-anchor="middle">r</text>
<text x="153.2" y="492.9" font-size="5.0" stroke="#000" stroke-width="0.36" textLength="38.5" lengthAdjust="spacingAndGlyphs">TK-6 Report Card</text>
<text x="102.1" y="505.5" font-size="5.0" stroke="#000" stroke-width="0.36" textLength="10.6" lengthAdjust="spacingAndGlyphs">T Cal</text>
<text x="135.7" y="505.5" font-size="4.6" stroke="#000" stroke-width="0.3" text-anchor="middle">R*</text>
<text x="153.2" y="505.5" font-size="5.0" stroke="#000" stroke-width="0.36" textLength="44.1" lengthAdjust="spacingAndGlyphs">TK-12 Report Cards</text>
<text x="102.1" y="519" font-size="5.0" stroke="#000" stroke-width="0.36" textLength="17.3" lengthAdjust="spacingAndGlyphs">Holiday</text>
<text x="135.7" y="519" font-size="4.6" stroke="#000" stroke-width="0.3" text-anchor="middle">P</text>
<text x="153.2" y="519" font-size="5.0" stroke="#000" stroke-width="0.36" textLength="50.9" lengthAdjust="spacingAndGlyphs">TK-6 Report Card Prep</text>
<text x="234.9" y="429" font-size="7.4" stroke="#000" stroke-width="0.45" textLength="35" lengthAdjust="spacingAndGlyphs">HOLIDAYS</text>
<text x="234.4" y="444.3" font-size="5.0" stroke="#000" stroke-width="0.36" textLength="59.1" lengthAdjust="spacingAndGlyphs">July 4, Independence Day</text>
<text x="346.7" y="444.3" font-size="5.0" stroke="#000" stroke-width="0.36" textLength="80.2" lengthAdjust="spacingAndGlyphs">Jan. 19, Martin Luther King, Jr. Day</text>
<text x="234.4" y="457.4" font-size="5.0" stroke="#000" stroke-width="0.36" textLength="42.3" lengthAdjust="spacingAndGlyphs">Sept. 1, Labor Day</text>
<text x="346.7" y="457.4" font-size="5.0" stroke="#000" stroke-width="0.36" textLength="57.6" lengthAdjust="spacingAndGlyphs">Feb. 9, Lincoln's Birthday</text>
<text x="234.4" y="470.4" font-size="5.0" stroke="#000" stroke-width="0.36" textLength="51.6" lengthAdjust="spacingAndGlyphs">Nov. 11, Veteran's Day</text>
<text x="346.7" y="470.4" font-size="5.0" stroke="#000" stroke-width="0.36" textLength="53.9" lengthAdjust="spacingAndGlyphs">Feb. 16, Presidents Day</text>
<text x="234.4" y="483.2" font-size="5.0" stroke="#000" stroke-width="0.36" textLength="72.1" lengthAdjust="spacingAndGlyphs">Nov. 24-28, Thanksgiving Break</text>
<text x="346.7" y="483.2" font-size="5.0" stroke="#000" stroke-width="0.36" textLength="72.9" lengthAdjust="spacingAndGlyphs">Mar. 16 - 20, Spring Break, Trad.</text>
<text x="234.4" y="495.2" font-size="5.0" stroke="#000" stroke-width="0.36" textLength="82.2" lengthAdjust="spacingAndGlyphs">Dec. 22 - Jan. 5, Winter Break, Trad.</text>
<text x="346.7" y="495.2" font-size="5.0" stroke="#000" stroke-width="0.36" textLength="74.4" lengthAdjust="spacingAndGlyphs">Mar. 16 - 27, Spring Break, Mod.</text>
<text x="234.4" y="508.2" font-size="5.0" stroke="#000" stroke-width="0.36" textLength="85.4" lengthAdjust="spacingAndGlyphs">Dec. 22 - Jan. 12, Winter Break, Mod.</text>
<text x="346.7" y="508.2" font-size="5.0" stroke="#000" stroke-width="0.36" textLength="53.1" lengthAdjust="spacingAndGlyphs">May 25, Memorial Day</text>
<text x="234.4" y="522.3" font-size="5.0" stroke="#000" stroke-width="0.36" textLength="99.5" lengthAdjust="spacingAndGlyphs">Dec. 24 - Jan. 2, Winter Break, Track A, C, D</text>
<text x="346.7" y="522.3" font-size="5.0" stroke="#000" stroke-width="0.36" textLength="46.3" lengthAdjust="spacingAndGlyphs">June 19, Juneteenth</text>
<text x="459.1" y="429" font-size="7.4" stroke="#000" stroke-width="0.45" textLength="157.3" lengthAdjust="spacingAndGlyphs">FIRST DAY OF SCHOOL - LAST DAY OF SCHOOL</text>
<text x="459.1" y="444" font-size="5.0" stroke="#000" stroke-width="0.36" textLength="93.2" lengthAdjust="spacingAndGlyphs">July 16, First day of school, Tracks B, C, D</text>
<text x="571.4" y="444" font-size="5.0" stroke="#000" stroke-width="0.36" textLength="75" lengthAdjust="spacingAndGlyphs">May 29, Last day of school, Trad.</text>
<text x="459.1" y="457" font-size="5.0" stroke="#000" stroke-width="0.36" textLength="70.8" lengthAdjust="spacingAndGlyphs">Aug. 14, First day of school, M/T</text>
<text x="571.4" y="457" font-size="5.0" stroke="#000" stroke-width="0.36" textLength="80.6" lengthAdjust="spacingAndGlyphs">May 29, Last day of school, Track D</text>
<text x="459.1" y="470.4" font-size="5.0" stroke="#000" stroke-width="0.36" textLength="81.4" lengthAdjust="spacingAndGlyphs">Aug. 18, First day of school, Track A</text>
<text x="571.4" y="470.4" font-size="5.0" stroke="#000" stroke-width="0.36" textLength="76.4" lengthAdjust="spacingAndGlyphs">June 12, Last day of school, Mod.</text>
<text x="571.4" y="483.3" font-size="5.0" stroke="#000" stroke-width="0.36" textLength="92.4" lengthAdjust="spacingAndGlyphs">June 26, Last day of school, Track A, B, C</text>
<text x="726.2" y="429" font-size="7.4" stroke="#000" stroke-width="0.45" textLength="34.9" lengthAdjust="spacingAndGlyphs">STAFF KEY</text>
<text x="728.8" y="445.9" font-size="6.5" stroke="#000" stroke-width="0.3" textLength="3.5" lengthAdjust="spacingAndGlyphs">S</text>
<text x="736.6" y="446.7" font-size="4.8" textLength="82.6" lengthAdjust="spacingAndGlyphs">Inservice/Professional Learning Day</text>
<text x="736.6" y="456.8" font-size="4.8" textLength="32.2" lengthAdjust="spacingAndGlyphs">Full Work Day</text>
<text x="736.6" y="470" font-size="4.8" textLength="33.1" lengthAdjust="spacingAndGlyphs">Half Work Day</text>
</g>
</svg>
</body></html>
